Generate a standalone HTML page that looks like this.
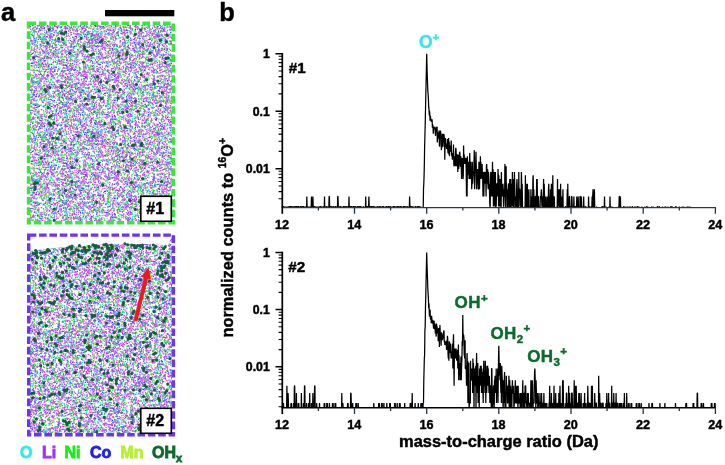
<!DOCTYPE html>
<html><head><meta charset="utf-8"><title>figure</title>
<style>html,body{margin:0;padding:0;background:#fff}svg{display:block}text{font-family:"Liberation Sans",Arial,sans-serif;font-weight:bold;stroke-width:.45px}</style></head><body>
<svg width="725" height="465" viewBox="0 0 725 465">
<rect width="725" height="465" fill="#fff"/>
<defs><pattern id="t1" x="30" y="25" width="142" height="98" patternUnits="userSpaceOnUse"><g fill="none" stroke-width="1.4" stroke-linecap="round"><path d="M0 0m105.7-.8h0m-91.9 .9h0m4.3-.5h0m2.4 0h0m62.3 .2h0m6.5-.3h0m46.7 .6h0m-54.3 1h0m4.9-.5h0m33.5 .2h0m12.9-.2h0m-104.8 1.3h0m24.7 .4h0m28.8-.8h0m11.8 .8h0m1.7-.6h0m27.7 .2h0m-92.4 1.1h0m4.7 .4h0m8.6-.6h0m31.2 .4h0m15.4-.3h0m24.1 .3h0m12.5 0h0m9.8-.4h0m-118.5 .7h0m1.3 .9h0m17.9-.8h0m30 .9h0m34.4-.1h0m24.1-.1h0m-121.4 .3h0m87 .4h0m19.3-.1h0m-46.3 1.2h0m17.1-.4h0m8.7-.2h0m15 .2h0m26.2 0h0m-129.9 .8h0m2.4 .8h0m12.3 .2h0m35.5-.8h0m7-.2h0m7.4 .1h0m4.6 .6h0m26.6 0h0m14.4 .2h0m-109.2 .3h0m58.4 .5h0m11.5-.4h0m23.9 .2h0m7.8-.2h0m9.1-.1h0m.6 .5h0m2.7 0h0m4.3-.2h0m-103.9 1h0m34.4-.1h0m27.1 .4h0m9.8 0h0m38-.2h0m2.7-.4h0m-92.8 .9h0m42.3 .6h0m3.5-.4h0m-78.3 1h0m.9 .3h0m18.7 .1h0m29 .1h0m45.9-.5h0m10.5 0h0m6.1 .6h0m6.2-.4h0m-113.9 1.1h0m5.7 .2h0m22.5-.3h0m13.3 0h0m6.1 .1h0m11.2-.1h0m19 .4h0m27.1-.8h0m12.9-.1h0m.4 .4h0m-125.9 1.1h0m46.6 .5h0m29.2-1h0m40.9 .8h0m13.2-.1h0m4.3-.2h0m7.8 0h0m-129 1.2h0m13.1-.3h0m62.4-.2h0m47.6 .1h0m-130.8 1.5h0m17.8 0h0m46.6-.7h0m66.3 .2h0m-130.5 .8h0m5 .8h0m9.6-.4h0m9.4 .5h0m32.9-.8h0m66.2 .3h0m9.7-.3h0m-136.2 1h0m1.9 .6h0m46.7-.6h0m5.2 0h0m10.1 .2h0m-44 1h0m31.7-.3h0m47.8 .2h0m7.1 0h0m32 .6h0m-111.6 .8h0m15 .1h0m50.6-.5h0m44.4-.2h0m-137.8 1.1h0m8.8-.1h0m103 .3h0m10.4 .4h0m.3-.4h0m19.5-.2h0m-127.3 1.2h0m23.6 .3h0m1.9 .1h0m15.2 .1h0m5.8 0h0m22.5 0h0m10.8-.9h0m10.1 .4h0m4.4 .2h0m-90.1 1.4h0m19.5-.9h0m33.7 .3h0m17.7-.2h0m31.9 .1h0m13.6 .6h0m-122.4 .5h0m5.4-.4h0m18.5 .7h0m26.6-.3h0m15.4-.1h0m26 .3h0m.9 .2h0m22.1 0h0m4 0h0m-82.5 .8h0m20.7 0h0m36.9-.1h0m6 .4h0m23.8-.1h0m-116.4 .6h0m5-.1h0m.5 .4h0m32.9-.4h0m20.3-.1h0m10.3 .7h0m25-.8h0m-110.8 1.8h0m23.6-.9h0m5.1 .3h0m2.4 0h0m.7 .3h0m23.1 .3h0m3.8-.2h0m5.8-.4h0m7.4 .5h0m9.3-.7h0m5.3 .4h0m5.4-.1h0m11.7-.2h0m19.7 0h0m.7 .7h0m-83.6 .4h0m44.3-.2h0m17.6 .6h0m5.2 .1h0m4.5-.3h0m-103.5 1.2h0m10.6 .3h0m7.5-.8h0m.2 .4h0m5.6-.5h0m1.9 .3h0m7.6 .2h0m91.7 .1h0m-54.4 1h0m4.5-.1h0m25.5 .3h0m18.5-.2h0m-127.8 .9h0m1.6-.1h0m4.3 .2h0m6.7-.2h0m81.4 0h0m26.5-.3h0m4.2-.2h0m7.1 .4h0m-126.3 1.3h0m31.3-.7h0m6.2 1h0m-17.7 .5h0m12.6-.2h0m2-.1h0m11.6 .1h0m10.6 .4h0m27.7 0h0m7.6 .2h0m-56.5 1h0m69.3-.8h0m1.4 .4h0m-113.1 1.3h0m10.6-.3h0m4.9-.4h0m2.9 .3h0m2.2 .5h0m9.2-.2h0m35 .1h0m38.5-.6h0m17.4-.1h0m-123 1.1h0m1.3-.1h0m6.2 .6h0m3.5-.3h0m14.9 .5h0m31.4-.6h0m24.2-.1h0m2.7 .1h0m18.1 .6h0m24.7-.4h0m15-.3h0m-130.5 .9h0m45.6 .2h0m74.2 .5h0m7.7-.6h0m-113.9 .9h0m27.5 .9h0m11.3-.9h0m65.4 .2h0m9.3-.2h0m-130.3 1.6h0m29.4 .2h0m6.6-.6h0m1.8-.1h0m4.3 .4h0m28-.4h0m12.5 .7h0m4.4-.2h0m-95.8 .5h0m31.4-.1h0m18.2 0h0m34.9-.1h0m19.1 .1h0m33.2 .7h0m3.9-.6h0m1.3 0h0m-120.1 .9h0m36 .3h0m6.8 0h0m5.5 0h0m10.1 .2h0m8.5 .1h0m5.6-.3h0m-87.3 1.2h0m11.3-.3h0m3.6 .7h0m2.7-.6h0m16.7 .1h0m17.3-.1h0m16.8 0h0m1.6-.3h0m1.7 0h0m54.3 .4h0m6.4 .1h0m-115.7 .8h0m5.1-.3h0m27.7 .4h0m44.3 0h0m-90.6 .8h0m8.2 .6h0m.1 0h0m21-.7h0m6.7 .1h0m1.2 0h0m39.5-.2h0m33.5 .1h0m-98.3 1.3h0m29-.1h0m7.8 .4h0m4.8-.7h0m24 .3h0m37.5 .5h0m6.6-.1h0m-76.5 .6h0m13 .2h0m5.1 .2h0m-33.9 1.1h0m25.9 .1h0m9.2-.9h0m3.5 .6h0m-25 .6h0m17.4 .1h0m13.6 .2h0m.3-.5h0m18.9 .5h0m12.8-.1h0m-62.1 .6h0m43.7 .1h0m26.9 .2h0m1.8-.1h0m-35.9 1.4h0m-70.5 .9h0m12.6-.1h0m47.8 .3h0m6-.7h0m20.1 .3h0m-65.9 1.1h0m.9 .1h0m12 .3h0m8.5-.7h0m61.7 .3h0m4.4-.4h0m-14.4 1.1h0m16.3 0h0m-120.3 1.5h0m12.2-.4h0m1.3 .7h0m3.9-.4h0m17.8-.3h0m69.5 .2h0m.2-.4h0m9.7 .1h0m3-.1h0m11.1 .7h0m-96.5 .6h0m9.9 .1h0m2.9-.4h0m24.2 .4h0m19.6 .4h0m-77 .5h0m27.7 .5h0m17.5 0h0m5-.4h0m11.5 .1h0m18.9 .3h0m3-.3h0m-84.6 .8h0m8.3-.2h0m17.2 .6h0m61.4-.5h0m17-.1h0m4.3 .8h0m5.3-.4h0m-127.4 1.1h0m23.7-.1h0m4.5-.3h0m7.7-.1h0m13.6 .3h0m7.6-.5h0m22.4 .4h0m22 .2h0m3.6 0h0m1.9 .1h0m24.9 .3h0m-114.1 .9h0m23.9-.8h0m37.4 .3h0m9.7 .5h0m27.8 .1h0m-116.8 .1h0m44.4 .7h0m10.1-.8h0m4.5 .5h0m32.7-.1h0m21.2 .1h0m11.4 .1h0m4.1 .4h0m-127.1 .6h0m3.6-.1h0m23.2 .3h0m38.3-.5h0m1-.1h0m13.9-.2h0m13.8 0h0m11.8 .7h0m-8.5 .9h0m7.5 .1h0m28-.2h0m-131.3 .5h0m12.4 .5h0m19.3 .3h0m13.8-.6h0m18.4 .6h0m3.2-.3h0m54-.2h0m3.1 .4h0m.5 0h0m-121.3 1.3h0m47.5-.2h0m6.7-.7h0m11.5 .9h0m22.2-.6h0m-93.7 1h0m27.2 .1h0m28.3 .1h0m5.7 .1h0m29-.4h0m10.1-.2h0m19.2 .1h0m-14.8 1.2h0m-99 1.1h0m10.4 .4h0m21.2-.5h0m8.9-.2h0m45.5 .7h0m29.6-.7h0m-113 .9h0m.5 .7h0m2.1-.2h0m1.5-.6h0m13.2 .3h0m22.9 .1h0m2.6 .6h0m14.5-1h0m23.5 .7h0m19.5 0h0m11.1-.5h0m1 .2h0m10.2-.2h0m3.3 .8h0m-118 .8h0m27.7 .2h0m50-.9h0m5.6 .6h0m1.9-.5h0m10.5 0h0m-109.6 1h0m36.8 .1h0m74.4 .5h0m11.8 0h0m-130.8 .4h0m39.9 .2h0m.7-.2h0m2.2 .6h0m70.1-.1h0m6.7-.3h0m22.4-.2h0m-140.4 1.5h0m.4 0h0m28.8-.6h0m19.5 .2h0m28.4 .4h0m-57 .5h0m12.1-.1h0m17.1-.1h0m2.7 .4h0m41.7 .2h0m34-.6h0m-118.7 1.4h0m11.1 .2h0m48.4-.5h0m13 .8h0m.9-.8h0m11.8-.1h0m17.1 .7h0m25.2-.5h0m-136.7 1.7h0m1.5-.6h0m41.2-.1h0m18.7 .5h0m4.8 .1h0m4.3-.2h0m25.9-.5h0m-84.3 1.3h0m1.9 .1h0m23.5 .4h0m16.8-.8h0m7 .9h0m9.9-.7h0m13.6 .6h0m12.2-.1h0m31.5 0h0m8.3-.7h0m-124 1.5h0m2.9 .2h0m45.6-.1h0m-12.4 .4h0m27.2 .3h0m27.4 .3h0m-99.5 1.1h0m16.2-.4h0m24.5 .2h0m31.7 .3h0m25.4-.1h0m23.9 .1h0m1.7-.8h0m-127.3 1.6h0m1.1-.5h0m70.8 .2h0m22.6 .1h0m22.7-.3h0m3.9 .5h0m-120.6 .6h0m2-.1h0m13.6 .1h0m44.2-.2h0m26.1 .8h0m-75.7 .4h0m20.9-.2h0m28.2 .8h0m49-.6h0m-56.3 .9h0m11.2 .5h0m12.1-.5h0m58.6 .6h0m-116.5 .2h0m.1 1h0m24.3-.5h0m1.3 .5h0m8.6-.7h0m42.3-.2h0m13.7 .7h0m1-.2h0m24.5 .2h0m3 .1h0m-122.8 .9h0m39.8 .1h0m7.5-.9h0m2.2 .3h0m17.6-.1h0m-79.4 1h0m29.3 .7h0m12.7-.5h0m1.8-.3h0m29.6 .3h0m5.2 .2h0m35.3 .2h0m15.6 0h0m-109.7 .6h0m1.8-.3h0m9.2 .1h0m3.8 .6h0m9.6-.1h0m.1-.6h0m44.8 .9h0m-58.1 .2h0m56.3-.1h0m-85.5 1.8h0m24.9 0h0m40.5-.3h0m61.6 .1h0m-128.5 .9h0m1.1 .3h0m1.5-.3h0m1.8 .1h0m27.9-.2h0m12.9-.1h0m74.9 .3h0m-53.7 .4h0m13.8 .9h0m3.3-.6h0m14.4 0h0m24.9-.1h0m-24.6 1.4h0m15-.1h0m-109.5 .8h0m14.5 .3h0m9-.2h0m58.5-.3h0m5.5 .6h0m9.4-.8h0m15.2 .7h0m-118 .3h0m3.7 .1h0m50.8 .1h0m11.1-.1h0m3.1 .2h0m1.7-.3h0m8.1 .6h0m7.6-.4h0m-78.7 .9h0m116.9 .6h0m-89.8 1.1h0m7.7 0h0m25-.4h0m4.3 0h0m27 0h0m-48.9 1.1h0m36.9-.1h0m10.3-.1h0m29.7 .3h0m-23 1.1h0m9.2-.2h0m-101.1 1.1h0m4.3-.5h0m2.4 0h0m62.3 .2h0m6.5-.3h0m46.7 .6h0m-49.4 .5h0m33.5 .2h0m12.9-.2h0" stroke="#38e8e8"/>
<path d="M0 0m50-.9h0m2-.1h0m12.6 .5h0m33.3-.3h0m-95.1 1.3h0m103.3-.6h0m-97.3 1h0m27 .4h0m20.6-.2h0m9.4 .1h0m19.8 .3h0m-85.3 0h0m10.5 .5h0m7.3-.3h0m30.7-.1h0m15.2 .5h0m3.4-.5h0m9.6 .1h0m50.4 .2h0m3.3 .4h0m11.6-.8h0m-135 1.5h0m86.6-.1h0m25.2-.1h0m-119 1.4h0m23 0h0m40.3 0h0m37.1-.5h0m14.4 0h0m27.2 .5h0m-106.6 .4h0m58.5 .4h0m11.4-.5h0m20.1 .1h0m-116.5 1.3h0m45.3 .5h0m29.8 .1h0m16.1 0h0m25.4-.5h0m-121.5 .7h0m28.9 .4h0m34.6 0h0m8.8-.5h0m12.1 .3h0m24.2 .5h0m3.3-.9h0m12.5 .1h0m-34.3 1h0m6.5 .4h0m-90.3 1.1h0m30.7 .1h0m9.3 .2h0m12.2-.7h0m41.9 .7h0m7.2-.6h0m11.2-.3h0m-121.7 1.1h0m61.6 .1h0m25.6 .7h0m41.7-.4h0m9 0h0m-89.2 1.2h0m48.8-.3h0m27.3 .6h0m3.3-.3h0m3.6 0h0m-129.5 .8h0m15.9 .3h0m1-.6h0m22.5 .6h0m23.6-.7h0m4.1 .5h0m13 .2h0m9.6-.2h0m-88.8 1.1h0m9 0h0m7.1-.6h0m36.1 .7h0m81.5-.2h0m-132 .9h0m2.3 .4h0m56.6-.1h0m7.3-.6h0m1.2 .1h0m36.6-.3h0m-93.7 1.2h0m12.7 .3h0m19.9-.1h0m10.1 .1h0m47.3 .3h0m-94.5 .7h0m36.6 .2h0m24.1-.3h0m2.3 .6h0m15.4-.2h0m-90.8 .4h0m29.1 .1h0m13.4-.3h0m17.2 .6h0m8.8 .3h0m26.9-.1h0m23.4 .1h0m23.2-.7h0m-126.7 1.6h0m45.4-.2h0m5.9 .1h0m.7-.1h0m9.7-.1h0m19.4 .2h0m-60 1.3h0m23.8-.7h0m24.2 .6h0m9-.6h0m36.7 .5h0m-116.4 1.1h0m35.5-.3h0m13.3 0h0m38.6-.1h0m4.8-.2h0m16.9-.3h0m-114.9 1.4h0m9.4 .1h0m24.3 .2h0m2.8 .3h0m22.7-.1h0m.9-.7h0m46.3 .8h0m3.1-.7h0m1.7 .4h0m-76.8 .5h0m8.4 .1h0m-45.5 .8h0m18.5 .3h0m59.2 .5h0m7.3-.8h0m9.2 .2h0m-82.4 1.1h0m31.5 .5h0m14.6-.6h0m70.2 0h0m-93.9 1.1h0m9.3 .2h0m5.6 0h0m1.3 .4h0m8.4-.2h0m23.4-.6h0m5.9 .5h0m44.2-.3h0m-112.5 1h0m68.5 .1h0m28 .4h0m-77 1h0m10-.5h0m24.3-.2h0m27-.1h0m8.1 .1h0m-109.6 1.2h0m59.5 .4h0m7.8-.3h0m.9 .4h0m18.7-.3h0m29.1 .1h0m9.2 0h0m-105.4 .9h0m8.2 .1h0m0 .1h0m36.8-.3h0m71.8 .1h0m-76 .5h0m37.6 .8h0m29.8-.1h0m-124.3 1.1h0m7.6 .1h0m2.3-.1h0m59.7-.3h0m3.2 .1h0m45.6 .1h0m-101 1h0m31.9-.1h0m10.3-.6h0m21 .2h0m1.6 0h0m49.1 .6h0m-124.3 .9h0m.2-.7h0m22 .3h0m22.3-.3h0m27.5 .1h0m10.1 .7h0m42.6-.7h0m-98.6 1.4h0m51.5-.4h0m.8 .1h0m3.1 .3h0m28-.2h0m-87.3 1.4h0m29-.3h0m34.6-.3h0m16 .1h0m1.5-.2h0m-56.9 1.4h0m.7-.5h0m26 .7h0m-62.2 .8h0m54.5 0h0m-80.4 1.3h0m43.3 .2h0m62.1-.8h0m7.4-.2h0m1.3 .1h0m13.8 0h0m14.1 .7h0m-125.8 .9h0m5.9 0h0m95.2-.5h0m14.1 .4h0m-91 1.3h0m13.7-.4h0m2.4-.1h0m21 .6h0m63.5-.2h0m-138.8 .5h0m32.1-.2h0m69.6-.1h0m9.1 .9h0m-94.6 .7h0m.7-.3h0m94.5-.2h0m1.3-.1h0m15.2 .2h0m-83.9 .9h0m4 .1h0m14.4 .2h0m6.3-.2h0m12.9 .5h0m6.1-.3h0m-72.1 1.5h0m11.5-.8h0m13.9 .8h0m19.3-.3h0m6.4 .3h0m13.4-.7h0m8 .2h0m12 0h0m-76.9 1.3h0m4.3-.6h0m8.2 .2h0m3.7 .4h0m3.1-.5h0m33.4 .6h0m4 .2h0m55-.1h0m-105.1 .9h0m3.2-.4h0m19.7 0h0m8.7 0h0m32.3-.2h0m-61.3 1.4h0m60 .3h0m33.3-.6h0m-47.5 1.3h0m49.3 0h0m-118.4 .6h0m10.9 .2h0m-4.4 1.6h0m4.9-.8h0m18.8 .8h0m65.1-.8h0m26.9 .8h0m-79.9 .1h0m3.8 .3h0m4.6 .4h0m23.3 .1h0m54.8-.2h0m-134.8 .7h0m7.2-.1h0m11.2-.2h0m12.4 .8h0m20.5-.3h0m.9 .1h0m11.8-.1h0m9.8-.2h0m2.6 .1h0m16.6 .1h0m-21.6 1.1h0m30-.7h0m-99.1 1.2h0m9.6 .5h0m19.2 0h0m12.5 0h0m9.1-.3h0m-41.4 .8h0m11 .8h0m12.6-.6h0m69.8 .2h0m-105.5 .9h0m7.7 .2h0m2.7-.1h0m41.9 .2h0m9.7-.5h0m7.4 .1h0m13.3 0h0m5.2-.4h0m3.9 .4h0m18.8 0h0m1.6-.2h0m12 .5h0m2.3-.3h0m6.9 .1h0m.2-.2h0m-106.3 .8h0m76.6 .3h0m-16 1.1h0m10.4 .4h0m-49.5 .2h0m50.4 .6h0m18-.2h0m16.4-.1h0m-101.9 1.4h0m30.1-.7h0m51.2 .4h0m17.5 .2h0m-115.6 .5h0m22.6 .3h0m31 .5h0m15.7-.9h0m30.3 .5h0m-80.6 1.2h0m3.7 .2h0m3.6-.1h0m.1-.6h0m36.9 .1h0m42.8 .1h0m-107.3 .8h0m12 .3h0m78 .1h0m7.6 .9h0m14.9-.5h0m-128.8 1.4h0m26.5 .2h0m-18 .9h0m18.3 .3h0m52.4-.1h0m13.3-.2h0m10.8 .1h0m3.8-.4h0m20.6-.2h0m.8 .9h0m-125.6 .5h0m24.8-.4h0m.3 .1h0m10.9 .1h0m5.6 .5h0m44.4 .1h0m22.5-.5h0m19.4 .2h0m-107.4 .7h0m61.1-.1h0m1.8-.1h0m25.2 .6h0m-101.8 .5h0m87.7-.1h0m30.5 .1h0m-122.7 .9h0m3.1 .7h0m1.9-.6h0m1.4 .4h0m19.6-.3h0m46.5 0h0m1.1 .5h0m-59.1 1.2h0m13.4-.7h0m.3-.2h0m22.7 .2h0m42.1-.1h0m-75.6 1.1h0m16.7-.3h0m18 .7h0m20.3 .1h0m-66.3 .3h0m60.9-.1h0m15.3 .8h0m4.5-.5h0m23.6 .5h0m13.3-.4h0m-119.3 .9h0m7.3 .4h0m2.6 .2h0m20-.8h0m.3 .6h0m67.3-.2h0m14.6 .5h0m-121.9 .6h0m2.9 .1h0m20.4 .2h0m33.2-.6h0m.4 .1h0m12.2 .5h0m14.4 0h0m41.3-.4h0m7.5-.1h0m-102.5 1.4h0m31.6-.2h0m24.9-.3h0m33 .3h0m-89.1 1h0m4.9 .1h0m27.2 .2h0m29.6-.7h0m35.1 .5h0m5.5-.4h0m3.4-.2h0m-33.1 1.3h0m32.1 .3h0m-128.5 1h0m12.7-.5h0m19.6 .2h0m38.2 .1h0m19.3-.4h0m21.7 .6h0m-108 .9h0m17.1 .1h0m55.2 .1h0m.3-.1h0m14-.1h0m20.7-.5h0m4.7 .3h0m-89 .8h0m1.1 .7h0m66.6-.6h0m4.3 .1h0m34.3-.2h0m-132.5 1.3h0m68.2-.4h0m31 .5h0m31.5 0h0m-83.4 .6h0m66.3 .1h0m-100.7 .9h0m36.5 .5h0m43.8-.6h0m29.5 1.4h0m-66.7 1.1h0m28.4 .2h0m22 .1h0m-87.8 .4h0m12.9-.2h0m7.5 .3h0m50.8 .5h0m36.6-.5h0m.3 .1h0m-70.9 .6h0m26.5 .6h0m3.8-.2h0m15.1-.3h0m.4 .4h0m-82.1 .8h0m21.3 .2h0m61.5 .1h0m3-.3h0m7.9-.3h0m-109.6 1.4h0m41.2-.2h0m10.7-.2h0m3.5 .4h0m.3-.3h0m34 0h0m12 0h0m-101.9 2.1h0m46.7 .7h0m24.8-.9h0m50.7 .2h0m4.2 .6h0m-113.1 .7h0m31.5 .2h0m-12.6 1.1h0m-15.2 .9h0m4.3-.4h0m27.8 .3h0m56.3-.2h0m5-.1h0m-85.1 .9h0m10.4-.3h0m12.5 .5h0m38.4 .3h0m1.3 .1h0m-99.8 .2h0m24.3 .2h0m26.4 .3h0m2-.1h0m12.6 .5h0m16-.8h0m17.3 .5h0m10.7-.3h0m32-.4h0m.7 .1h0m-138.5 1.9h0m103.3-.6h0m-97.3 1h0" stroke="#3838f0"/>
<path d="M0 0m48.2-.9h0m22.4 .8h0m-62.9 1.4h0m19.3 .2h0m11.2-.1h0m10.5 0h0m12.8 0h0m10.7 0h0m39.2-.7h0m6.4 .7h0m1.4-.5h0m18-.4h0m-110.4 1.6h0m12.4-.3h0m9.2 .5h0m8.2 .1h0m1.1-.5h0m3.4-.1h0m18.3 .6h0m17.6 0h0m15.7-.5h0m6.4-.2h0m-116.2 1.5h0m2-.5h0m36.7-.1h0m.7 .8h0m1.7-.5h0m23.3 .1h0m6.4 .1h0m25-.2h0m1 .4h0m-82 .5h0m41.2-.1h0m53.5-.1h0m13.7 .5h0m-116 1.1h0m.2-.2h0m32.2-.4h0m9 .3h0m13.5 .5h0m16-.7h0m39.5 0h0m7.8 .4h0m-113.9 .8h0m76.6-.3h0m8.2 .1h0m11.2 .8h0m9.5-.1h0m-60.8 .7h0m28.4-.1h0m6.9 0h0m11.1-.5h0m24.7 .9h0m-110.3 1h0m32.6-.8h0m31.4-.1h0m4.3 .9h0m31.5-.1h0m1.2 .1h0m5.9-.8h0m-124.7 1.7h0m31.8-.5h0m13.4 .6h0m2.3-.4h0m1.5 .4h0m2.2-.9h0m.4 .5h0m14.7 .5h0m7.1-.9h0m.6 .7h0m26.1-.5h0m37.8 .1h0m-132.7 .7h0m8 .4h0m46.5 .1h0m6 .2h0m13.2-.1h0m30.5 .1h0m4.5-.1h0m-89.7 1.2h0m10.1-.4h0m.2 .3h0m4.4-.7h0m15.8 .3h0m7.6 .3h0m2.2-.2h0m15 .1h0m12.8-.3h0m13.9 .4h0m-99.8 .8h0m38.2 .4h0m27.8-.7h0m6.1 .4h0m2.1 .1h0m2-.3h0m26.5-.1h0m25.6-.3h0m-133.3 1.4h0m3-.2h0m62.7 .1h0m21.1 .1h0m5 0h0m1.6 .3h0m22.9-.5h0m5.2 0h0m.4 .6h0m-115.4 .4h0m4.7 .3h0m4.4-.3h0m9 0h0m3.8 .6h0m28.5-.5h0m4.7 .1h0m10.4 .1h0m5.3-.3h0m5.2 .2h0m38.4-.2h0m8.3 .2h0m-120.3 1h0m11.7 .3h0m24.1-.3h0m22.7-.1h0m11-.2h0m1.5 .7h0m13.4 .1h0m1.7 .1h0m11-.5h0m-109 .9h0m7.2 .5h0m4.1-.2h0m7.6-.7h0m14.1 .2h0m.7-.1h0m9.5 .5h0m.5 .1h0m3.2-.2h0m25.7-.1h0m5.2 0h0m36.3-.3h0m27.9 .3h0m-136.5 .7h0m6.8 0h0m3.8 0h0m0 .2h0m62.5-.1h0m3.2 .2h0m21.3-.2h0m10.4 .8h0m17.1-.8h0m4.3 .2h0m1.7 .3h0m.2 .2h0m.2-.5h0m-129.8 .7h0m25.6 .9h0m1.7-.8h0m1.2-.1h0m8.9 .5h0m12.6-.2h0m6.3-.2h0m10.1 0h0m33.3 .3h0m.3-.2h0m-96.8 1.1h0m11.6-.2h0m3.7 .8h0m16.7 0h0m15.1-.1h0m49.6-.4h0m31.2 .2h0m-91.8 .7h0m17.6 .6h0m45-.9h0m5.9 .1h0m4 .5h0m-89.4 .3h0m24.5 .5h0m15.4-.2h0m19.7 0h0m2.4-.2h0m33 0h0m11.2 0h0m-115.6 .9h0m10.2 1h0m29.1-.8h0m2.8 .7h0m27.1-.3h0m3.9-.4h0m33.4 .4h0m9.9-.3h0m-128 1.1h0m86.6 .3h0m9.6-.7h0m26.7 .9h0m-79.1 .3h0m19.1 .4h0m2.6 .3h0m6.7-.9h0m2.7 .2h0m1.1 .3h0m.5-.4h0m1.2 .8h0m7.4-.8h0m4.7 .5h0m25-.2h0m7.3-.1h0m-78.3 .7h0m32.1 0h0m13 .7h0m16.9-.1h0m20.6 0h0m-103.7 .5h0m37.8 .7h0m.1 0h0m36.4 0h0m6.8-.6h0m24 .3h0m-129.9 1.3h0m18.1 .2h0m.4-.8h0m3 .3h0m6.7-.4h0m36 .7h0m37.3-.3h0m4.1-.3h0m-104.7 1.1h0m5.4 .5h0m2.7-.8h0m33.2 .1h0m2 .7h0m.6-.2h0m15.2-.2h0m2.8 0h0m11.6 .5h0m5.1-.8h0m7.3 .5h0m.2 .2h0m6.8-.1h0m6.5-.6h0m20.6 .7h0m-108.5 .2h0m4.8 .5h0m1.3 .2h0m33 .2h0m11.1-.8h0m7.2 .2h0m16.4-.1h0m1.6 .1h0m1.1 .4h0m18-.3h0m-98.9 1.5h0m5.4 .1h0m2.5 0h0m1-.9h0m23.2 .8h0m38.5-.2h0m16.9-.6h0m38.1 .7h0m-108.1 .9h0m77.8-.1h0m20.8-.1h0m1.6 .5h0m-99.6 1h0m21.6-.5h0m18.5 .4h0m12.5-.6h0m2.9 .6h0m.3-.8h0m23.8 0h0m3.8 .8h0m7.3-.7h0m-101.6 .9h0m3.8 0h0m4.7 .2h0m30.9-.1h0m1.5-.1h0m8.1 .2h0m21.1 .5h0m7.6-.1h0m6 .2h0m4-.1h0m22.3 .2h0m-123.7 .8h0m19.6-.2h0m12.8-.1h0m54.9-.2h0m-84.9 .9h0m23.4 .3h0m15 .2h0m23.9-.3h0m20.8 .3h0m-76.2 .4h0m.1 .4h0m6-.1h0m14 .4h0m1-.1h0m17.6 .2h0m69.9-.4h0m2.7-.3h0m4.7-.1h0m-126.8 1.9h0m59.9-.7h0m.9 .2h0m14.3-.4h0m19.1 .6h0m2.5 .2h0m7.7-.1h0m-56.9 .6h0m9.2 0h0m3.6-.3h0m9.2 0h0m5.6 .1h0m11.8 .1h0m3.8-.2h0m3 .3h0m6.2 .2h0m5.3-.5h0m.3 .5h0m3.7 0h0m2.2 .1h0m6.6 .3h0m.7-.2h0m-116.1 1.1h0m10.5-.1h0m9.8-.3h0m25.6-.4h0m7.1 0h0m21.2 .5h0m6.5 0h0m21.5-.4h0m.6 0h0m1.2 0h0m5.6 .8h0m10.2-.1h0m-118.5 .8h0m25.9-.2h0m49.7-.2h0m14.5-.2h0m6.8 .8h0m4-.6h0m.9 .1h0m3.5 .4h0m-112.9 .6h0m4.9-.3h0m1.1 .3h0m7.1-.1h0m15.8-.3h0m13.2 .7h0m15 .1h0m22.2-.4h0m51.9 .4h0m2.5-.5h0m-127.3 1.3h0m9.8-.4h0m16.9 .8h0m5.2-.9h0m4.7 .2h0m7-.2h0m11.5 .3h0m10.9 .1h0m22.7 .4h0m14.8-.5h0m2.4-.2h0m-108.8 .9h0m23.4 .5h0m11.1 .2h0m19.1-.3h0m39.8 .2h0m-87.5 .8h0m12.4 .2h0m3.9 .2h0m13.8 0h0m12-.1h0m80.3-.5h0m-131.1 .9h0m2.3 .5h0m31.5-.4h0m11.9 .7h0m35.6-.1h0m20.3-.8h0m5.2 .3h0m20.4 .3h0m3.8-.1h0m-120.9 1.3h0m6.9 .1h0m6.6-.3h0m5.1 0h0m49.2-.2h0m6.1-.4h0m12.2 .9h0m23.2-.2h0m13.4-.7h0m-122.2 1.8h0m18.3-.9h0m22.5 .8h0m37-.3h0m31.6-.2h0m1.5 .3h0m1.3-.1h0m-106.1 1.2h0m38.9 0h0m.3-.2h0m.7-.3h0m8.8 .1h0m3.3 .1h0m2.7 .5h0m6.7-.2h0m2 .1h0m21.4 .2h0m22.1-.6h0m10.1 0h0m-127 1.5h0m14.2-.5h0m10.2 .2h0m18.7 .4h0m21.8-1h0m12.7 .3h0m-87.9 .9h0m2.6 .5h0m23.7-.6h0m29.5 .5h0m9.5-.4h0m48.2 .4h0m8.8 .2h0m8.2 0h0m5.4-.2h0m1.6 .3h0m4.5-.7h0m-90.2 1.1h0m42.2 .7h0m7.8-.1h0m22.1-.4h0m5.4-.4h0m2.5 .6h0m-127.8 .9h0m33.2-.1h0m7.7-.3h0m26.3-.1h0m-33.1 1.5h0m1.5-.4h0m16-.2h0m4 .4h0m4.7-.2h0m32.3 .2h0m-88.8 .7h0m17 .5h0m15.1-.3h0m13.7-.2h0m12.8 .2h0m14.2 .3h0m4.9 .1h0m7-.3h0m.1 .6h0m17-.1h0m7.5 0h0m17.6-.2h0m-124.7 .9h0m25.5-.2h0m18.1-.1h0m13.9 .3h0m23.9 .3h0m9.6-.3h0m29.6-.4h0m.7 0h0m7.9 .4h0m-139.7 1.3h0m3.1-.7h0m31.6-.1h0m28.7 .2h0m14.8 .2h0m.8-.2h0m26.4 .2h0m30.2-.2h0m6.4 .6h0m-142.5 .4h0m8.3-.1h0m10.4-.1h0m4.7 .4h0m67.5 .2h0m11.4 0h0m13.2-.2h0m17.9-.2h0m.3 0h0m8.3 0h0m-139.3 1.4h0m4.3-.4h0m1.7 0h0m12.5-.1h0m14.2-.2h0m3.8 .3h0m14.4 .6h0m10.4-.1h0m5.1-.1h0m8.3-.7h0m46.6 .4h0m.2 .5h0m-112.9 .2h0m28.7 .2h0m4.5-.2h0m.7 .9h0m32.5-.5h0m58.2 .3h0m2.9-.2h0m-130.8 1.2h0m14.9-.3h0m42.6-.3h0m44.9 0h0m6.5 .4h0m1.9 .1h0m-116.1 .7h0m.4 .4h0m9.8 .1h0m40.7-.5h0m36 0h0m40.6 .2h0m8.5 .3h0m-121.1 .4h0m5.1 .4h0m20.2 .3h0m32.7-.1h0m1.2-.2h0m3.4-.7h0m17.2 .9h0m3.8-.2h0m7.9-.5h0m.2 .6h0m18-.6h0m-124.7 1.6h0m22.9-.5h0m11.3 0h0m3.6 .6h0m15.5-.6h0m2 .1h0m52.3 0h0m16.1 .5h0m11.7 0h0m-120 .9h0m30.9 .2h0m7.5-.9h0m10.5 .3h0m16.2 .4h0m20.3 0h0m5.2-.5h0m28.3 .4h0m.8-.4h0m-134.5 1.4h0m2.1 0h0m6.1-.1h0m6.1-.2h0m35.2-.1h0m16.5-.3h0m10.5 .2h0m12.9 .6h0m23.1 .2h0m.8-.9h0m1 .3h0m6.6-.3h0m-114.8 1.3h0m7.9 .2h0m20.2-.1h0m12.4 .4h0m1.7-.4h0m7.7-.1h0m44.2-.2h0m-101.2 1.3h0m10.9-.3h0m20.4 .7h0m.3-.1h0m4.4-.1h0m6.8-.4h0m8.3 .7h0m32.7-.2h0m7.3-.1h0m17.4 .2h0m.7-.6h0m2.3-.2h0m8.8 .7h0m1.2-.7h0m-113.1 1.4h0m5.5 .4h0m34.4-.7h0m16.7-.2h0m56.8 0h0m15.9 .1h0m-128 1.1h0m17.7 .4h0m11.4 .3h0m27.1-.3h0m11.5 .4h0m19.6-.7h0m4.8-.2h0m6.7 .4h0m-91.1 .8h0m8.9-.2h0m19.8 .9h0m19.9-.6h0m19.6 .4h0m10.3-.1h0m-67.3 .9h0m39.6-.3h0m18.7-.2h0m1.5 .6h0m18.4 0h0m.4-.7h0m15 0h0m-60.5 1.3h0m24.3 .4h0m3.3 .3h0m-76.4 .2h0m3.7 0h0m7.6 .4h0m6.8 .4h0m.8-.1h0m8.4-.4h0m18.6-.1h0m2-.3h0m3.7 .8h0m13 0h0m6.3-.3h0m33.7-.1h0m13.5 .1h0m-94.1 1.4h0m11.2-.7h0m30.5 .5h0m40 0h0m-110.4 .4h0m4.5 0h0m13.1 .6h0m2.5 .1h0m3.7-.8h0m23.6 .1h0m42.6 .8h0m11.9-.5h0m14.6-.3h0m-114.5 1h0m31.1 .4h0m50.2 .1h0m26-.1h0m.5 .4h0m9.1-.9h0m7 .6h0m1-.7h0m-134 1.6h0m17.5-.5h0m14.3 .5h0m43.2 .2h0m16.7 .1h0m11.2-.3h0m34.7-.4h0m-99.2 1.7h0m35-.3h0m28.1-.2h0m4.8-.4h0m11.4 .1h0m5.8 .4h0m9.1 0h0m-135.3 1.3h0m15.8 .1h0m27.1-.9h0m35.4 0h0m1.4 .7h0m11-.3h0m24.3 .5h0m27-.1h0m-134.9 1h0m.4-.3h0m37.8-.4h0m17.3 .4h0m26.7 0h0m13.6 .5h0m8.8-.4h0m.9 .2h0m-111.5 1h0m7.5-.1h0m5 .2h0m3.3 .1h0m.8-.6h0m7.5 .1h0m2.2 .4h0m55.7-.9h0m12.5 .8h0m8.8 .1h0m12.2-.4h0m9.3 .2h0m7.6-.6h0m-88.1 1.3h0m7.8 0h0m2 .5h0m20.9-.6h0m14.9-.2h0m5.4 .1h0m-78.1 1.2h0m24.5 .3h0m13.7-.4h0m13.4 .2h0m41.1-.1h0m8.3 .2h0m8.7-.1h0m-79.7 1.3h0m24.9 .1h0m6.7-.7h0m15.7 .7h0m5.5 0h0m36.1-.1h0m-112 .6h0m9.7-.2h0m26.5 .3h0m22.9 .1h0m15-.5h0m37.1 .6h0m4.2 0h0m-135.4 .8h0m17.5 .3h0m49.4 .1h0m16.1-.3h0m26.5-.6h0m4.8 .7h0m-120.5 .5h0m23 .4h0m42.8-.2h0m1.2 0h0m.5 .3h0m12-.5h0m5.4 .1h0m46.1-.1h0m11 0h0m-97 1.5h0m25.9-.2h0m2.2-.2h0m48.3-.1h0m4.6 .1h0m10.2-.2h0m3.7 .7h0m-138 1.1h0m.3-.6h0m7.2 .2h0m38.1 .1h0m61.5-.2h0m6.5-.1h0m22.9 .5h0m5.5 .1h0m-80.7 .5h0m9.8 .1h0m1.1-.3h0m4.7 .4h0m.6-.1h0m17.8-.1h0m4.4 .6h0m9-.7h0m9.2-.1h0m4.6 .4h0m1.3-.4h0m-112.3 1.5h0m14-.7h0m24.2 .3h0m34 .3h0m39.2-.1h0m11.8 .1h0m-130.3 1.4h0m10.7-.6h0m23.8 .3h0m1.8 0h0m2.3-.6h0m10.2 .4h0m15.1 .1h0m24.2-.3h0m-83.5 .9h0m8.8-.1h0m14.7 .6h0m.5-.4h0m11.7 .6h0m39.6-.1h0m4-.2h0m10.6-.2h0m14.4 .3h0m3.8 .1h0m8.1-.3h0m1 .5h0m5.3-1h0m-114.3 1.6h0m28.7 .4h0m19.2-.8h0m19.6 .3h0m14.3 .4h0m33.3-.1h0m7.1 .2h0m-140.4 .5h0m36.4-.1h0m4.3 .3h0m7.1-.6h0m51.1 0h0m27.1 0h0m16 .4h0m-126 1h0m.1-.1h0m38.3 0h0m17.1-.1h0m3 .1h0m8.8 0h0m5.3-.3h0m-82 1.3h0m12.4-.3h0m18 .2h0m11.3 .3h0m17.7-.4h0m3.1 0h0m14.7 0h0m18.2 .1h0m31.8-.2h0m-63.1 1.3h0m40.8 .8h0m7.8 .2h0m18-.4h0" stroke="#28e828"/>
<path d="M0 0m27.2 .3h0m105.3-.4h0m-32.6 .9h0m-62.8 1.5h0m56-.3h0m-52.1 1.4h0m12.9 .1h0m20.7-1h0m-72.9 2.7h0m45 .9h0m28.1-.3h0m-7.1 .9h0m-33.1 1h0m-4 1.7h0m4.8-.5h0m67.4 .7h0m-95.7 1.3h0m4.9-.3h0m111.6 1.1h0m2 .4h0m-99.7 .5h0m7 5.4h0m20.1-.1h0m46.8 .3h0m7.1 .8h0m-8 .5h0m33 .6h0m-104.9 2.3h0m22-.9h0m29.4 1.2h0m-45.8 3.8h0m7.2-.3h0m50.5 1.8h0m4.6-.4h0m-57.3 1.4h0m26.5-.1h0m7.6-.3h0m33.7 0h0m-50.3 1.5h0m4.7 .2h0m64.9 .2h0m-114.9 .8h0m52.1-.6h0m50.7 .2h0m-58.7 .8h0m27.4 .6h0m35.4 1.1h0m-117.2 .8h0m142 0h0m-112 .4h0m27.6 .2h0m49 .7h0m-93.4 .2h0m46.4-.1h0m3.1 .6h0m13.3-.3h0m-37.2 .7h0m78.8 .3h0m-79.3 .8h0m92.8 .2h0m-131.6 1.5h0m41.2-.7h0m80.7 .7h0m20.1 0h0m-140.8 1.3h0m90.1 .4h0m51.9-.4h0m-46.7 1.8h0m-93.1 .7h0m121.3-.1h0m-37.6 .6h0m-71.3 .8h0m3.3 .2h0m39.5 .8h0m74.1 0h0m-41.4 .5h0m-22.9 3.5h0m10.9-.6h0m-64.8 2.1h0m29.9 .5h0m16-.4h0m59.7-.2h0m-39.4 .7h0m37.5 .3h0m13.3 .4h0m-119.8 .5h0m41.6 1.3h0m36.6 .6h0m23.1 2.6h0m3.4 .8h0m-78.5 1h0m-37.4 .4h0m86.9 .4h0m55.1-.4h0m-140 1.9h0m1.8-.4h0m127.8-.2h0m-116.3 2.1h0m12.6 0h0m91.9 .4h0m-51.7 .8h0m33.9 .9h0m7.7 0h0m10.6-.3h0m-40.4 1.7h0m4.6 1.2h0m6.8 .3h0m5.7 .9h0m-71.6 1.6h0m92.7 .2h0m-61.4 1.4h0m2.2 .6h0m51.2 1.6h0m.7-.2h0m5.3 2.7h0m-65 2.9h0m48.7 2.4h0m28.8 1h0m-77.8 2.6h0m42.9 .2h0m17.8 .6h0m-16.5 1.1h0m15.3-.6h0m-103.9 1.2h0m93.1 .4h0m3.5-.8h0m-85 1.6h0m3.9 .6h0m21.5 0h0m-42.3 1.6h0m16.4-.8h0m116 .3h0m9.6 .5h0m-88.3 .5h0m2.8 0h0m61.1-.1h0m-102.9 1h0m62.6 .2h0m-18.7 2.3h0m27.1-.1h0m44.4-.8h0m-93.2 1.8h0m39.8-.5h0m19.7-.2h0m-69.8 2.7h0m105.3-.4h0m-32.6 .9h0" stroke="#c0f040"/>
<path d="M0 0m-.7-.6h0m61.4-.2h0m10.2-.1h0m13.8 .2h0m56.6 .1h0m-126.5 .8h0m14.6-.1h0m9.2-.3h0m2.8-.2h0m19.1 .9h0m14.8-.2h0m4.5-.1h0m9.3-.5h0m20.4-.1h0m4.9 .6h0m15.4-.2h0m9.6-.3h0m-119.8 1.3h0m5 .3h0m19.6-.4h0m10.1-.3h0m20.9 .4h0m3.2 .2h0m9.6-.6h0m11.8 .3h0m5.1 .6h0m1.1-.4h0m13.3-.1h0m5.1 .2h0m7.2 .2h0m-126.4 .2h0m11.6 .4h0m18.2 .2h0m37.3 .2h0m22.8-.1h0m5.4 0h0m24-.3h0m.8 .4h0m-125.3 .7h0m12.6 .2h0m6.6-.1h0m11.7-.6h0m6.6 .6h0m2.9-.2h0m14.9 .1h0m5 .2h0m1.4-.2h0m8-.2h0m.7-.3h0m2 .3h0m1.1 .2h0m6.4-.3h0m2.3 .3h0m18 .2h0m.1-.5h0m1.6 .5h0m10.7-.7h0m5 .7h0m10.5 0h0m13.9-.2h0m-142.4 1.3h0m11.8-.8h0m16.1-.1h0m11.8 1h0m1.2-.8h0m22.4 .5h0m4-.2h0m11 .2h0m2.4-.1h0m5.3-.5h0m11 .5h0m12.8-.2h0m23.2-.4h0m9 .9h0m-132.2 .2h0m22.3 .4h0m10.7 0h0m3.9-.4h0m10 .3h0m24.4 .5h0m4.6-.5h0m34.5-.3h0m14.5 0h0m.5 .8h0m-131.1 .8h0m21.4-.4h0m4.7 .2h0m1.6-.3h0m3.6 .3h0m3.5-.4h0m2-.1h0m13.6 .2h0m20.3 .3h0m1.4-.1h0m15.7 .2h0m3.1 .1h0m29.3-.5h0m10.2 .7h0m-107.3 1h0m3.5 0h0m.3-.6h0m11 .6h0m2.2-.3h0m10 .4h0m25.4-.3h0m8.7 .1h0m3.9-.8h0m1.3 .7h0m7.2 0h0m.7-.4h0m11.6 .4h0m6.4 .2h0m4.2-.5h0m2.1-.3h0m11.3 .5h0m-108.6 .8h0m.3 .6h0m30.6-.1h0m7.3-.1h0m5.6 0h0m22.3-.2h0m3.1-.2h0m8.8 .5h0m.3-.1h0m-69.8 .6h0m1.8-.3h0m8.6 .7h0m.6-.7h0m14.5 .7h0m4.4-.2h0m8.8 .1h0m6.2-.5h0m3.6 .5h0m9.4 .2h0m12.4-.7h0m14.8 .6h0m1.1-.8h0m4.6 .2h0m9.4-.1h0m1.4 .6h0m-114.5 .5h0m3.4 .8h0m22-.8h0m68 .3h0m2.6 .3h0m15.5-.7h0m-120.5 1.5h0m16.9 .3h0m33.1-.7h0m9.5 .6h0m8.3 0h0m22-.2h0m12.6-.3h0m10.2 .1h0m13.5 .2h0m-123.6 1h0m2.4 0h0m36.7-.1h0m.8-.1h0m10.5 .4h0m3.4 .2h0m3.9-.9h0m1.5 .3h0m8.8-.2h0m39.3 0h0m.2 .1h0m3.2-.2h0m3.2 .2h0m-124.4 1.1h0m27.6-.3h0m6.4 .5h0m3.6 0h0m6.6 0h0m1.2 0h0m33.1-.4h0m8.2 .8h0m4.8-.4h0m9.2-.5h0m17.7 0h0m1.4 .3h0m6.8 .1h0m-121.5 .7h0m0 .3h0m1.8 0h0m40.4-.1h0m2.4 .2h0m.2 .1h0m4.6 .2h0m1.3 0h0m40.7-.3h0m17.5 .3h0m-92.2 .9h0m36.3 0h0m1.9-.6h0m.4 .4h0m4.9 .4h0m20.6-.9h0m8.5 .1h0m.8 .6h0m3-.2h0m12 .4h0m.3-.3h0m12.4-.2h0m3 .2h0m-84.7 .5h0m6.7 .6h0m8.9-.2h0m45 0h0m31.3-.3h0m-137.6 1.2h0m2.9 .3h0m10.4-.7h0m6.3 .1h0m7.7 0h0m4.8 0h0m13.8 .1h0m11.5 .3h0m6.3-.5h0m9.5 .1h0m3.3 0h0m.3 .2h0m11.9-.2h0m1.9 .7h0m2.2-.5h0m5.4 .5h0m9.2-.3h0m.6-.6h0m5 .7h0m2-.6h0m-104.1 1.5h0m18-.5h0m3 .3h0m5.2-.2h0m3 .2h0m.8 .3h0m.4-.3h0m17.3 0h0m4.8 .3h0m8.3 .3h0m.3-1h0m6.7 .6h0m29.7 0h0m24.5 .3h0m-132.2 .5h0m16.1-.2h0m17.2 .6h0m4-.7h0m14.3 .2h0m.8 .3h0m17.7 .4h0m1.5-.9h0m1.2 .1h0m9.8 .2h0m7.4 .5h0m1.8-.7h0m25.6-.1h0m2 .4h0m1.9-.4h0m.7 .4h0m-93.9 1.4h0m.5-.2h0m.2 .1h0m25.8-.4h0m10.8 .2h0m10.5-.1h0m0 .3h0m7.3-.8h0m4.8 .6h0m3.9 .4h0m12.3-.7h0m-87.4 .7h0m13.4 0h0m3.1 .2h0m9.8-.1h0m.1 .3h0m14-.2h0m1.1-.1h0m1.3 .6h0m17.1-.2h0m18.2 .4h0m12.2-.9h0m6.6 .2h0m17 .6h0m.8 0h0m-132.5 1h0m13.4-.1h0m2.2-.4h0m1.9 .3h0m2.8-.3h0m.3 .5h0m18.4-.4h0m2.5-.4h0m27.5 .1h0m26.5 .2h0m8.9-.3h0m-102 2h0m6.8-.1h0m11.3-.6h0m21 .4h0m.1-.7h0m23.5 .6h0m28.9-.5h0m13.7 .1h0m4.3 .2h0m.8 .4h0m17.3 0h0m-122.5 1.2h0m2-.1h0m54.1-.1h0m3.1 .1h0m4.1-.1h0m7.9-.4h0m4.3 .5h0m6.3-.1h0m2.1 0h0m7-.4h0m2.1-.1h0m.8-.2h0m.9 .9h0m2.8-.4h0m3.2-.6h0m2.8 .2h0m.9 .6h0m4.1-.5h0m18.7 0h0m-135.4 1.3h0m5.5 0h0m5.6 0h0m5.6 .1h0m10.8-.6h0m4.1 .7h0m10-.6h0m40.4 0h0m32.4 .6h0m5.1-.7h0m8.1 .4h0m-115.7 1h0m2.9 .3h0m.4 0h0m7.3-.2h0m12.5-.5h0m1 .9h0m1-.1h0m27.9 .1h0m2.4-.3h0m18.2 .1h0m.6-.5h0m18.1-.1h0m.8 .7h0m2.5-.1h0m8.5-.3h0m4.5-.4h0m3.9 .7h0m3.3 0h0m1.1-.5h0m-106.3 1.3h0m6.6 0h0m1.3-.5h0m25.6 .5h0m7.1-.5h0m26.4 .7h0m-62.8 .9h0m11.6-.1h0m38.6-.5h0m14.2 .6h0m1.2-.6h0m21.3 .5h0m7.8 .2h0m-106.7 .4h0m7.6 .7h0m2.9-.5h0m21.5 0h0m4.2 0h0m12.1-.1h0m5-.2h0m1.6 .3h0m7.3 .3h0m2 0h0m17.8-.5h0m12 .5h0m4.8-.1h0m11.9-.3h0m6.8 .5h0m-121.4 .6h0m11.5-.2h0m.3 .8h0m13.1-.9h0m5.8 .7h0m5.5-.4h0m.6 .2h0m6.5-.3h0m4.2 0h0m13-.1h0m24.6 .6h0m4.1-.7h0m4.1 .7h0m-100.2 1.1h0m16.9-.2h0m4.2-.2h0m.8 .2h0m16.9 .2h0m14.9-.2h0m24.2-.6h0m21 0h0m21.1 .3h0m1.3 .1h0m14.2-.2h0m-141.3 1.3h0m6.7-.3h0m2.8 .1h0m26.9-.1h0m11.2 0h0m25 0h0m3.6 .5h0m1.1-.4h0m15.2 0h0m8.5-.2h0m9.5 .2h0m3-.1h0m17.2 .2h0m2.3 .2h0m3.1 .2h0m5.9-.3h0m-131.3 .5h0m8.4 .2h0m18.2 .5h0m18.5 .2h0m8-.4h0m1.5 0h0m2.1 0h0m53.5 .3h0m4.9-.6h0m12.8 .5h0m-127.1 1h0m8.2-.5h0m34.2 .1h0m6.6 .6h0m10.9-.7h0m19.1-.3h0m0 .9h0m4.6-.3h0m9.6 0h0m5.7-.1h0m22.3 .3h0m.7-.3h0m5.9-.1h0m-128.8 .8h0m18.7 .3h0m.7 0h0m3.3-.5h0m8.9 .1h0m.7 .3h0m5.5 0h0m3.7-.1h0m6.7 .6h0m10.3-.1h0m10.2-.2h0m3.8 .4h0m8.3-.7h0m27.3-.3h0m1.1 .8h0m-114 .9h0m5.5-.5h0m.4 .6h0m3.5 0h0m14.4 .1h0m14.1-.4h0m13.4-.1h0m46.5-.1h0m.5-.1h0m17.3-.1h0m4.5 .5h0m1 0h0m-112.2 .9h0m16.1-.3h0m3.5 .6h0m2.9 .1h0m10.2-.2h0m26.4-.5h0m7.3 .4h0m22.7 .3h0m4.3-.8h0m.6-.1h0m17 .3h0m7.1 .2h0m3.6-.4h0m-133.7 1.3h0m1-.3h0m8.1 .4h0m12.4-.5h0m7.8 .2h0m18.5 .4h0m4.9-.4h0m10.4 .6h0m47.2-.8h0m9.2 .5h0m8.4 0h0m-120.5 .7h0m2.4 .5h0m5.1 0h0m46-.6h0m4.5 .1h0m23.2-.2h0m6.7 .2h0m1.3 .5h0m4.4-.4h0m19.4-.2h0m13.9 .8h0m3.1-.3h0m-134.4 1.3h0m11-.8h0m17.6-.1h0m2.1 .8h0m4.7-.8h0m17.2 .7h0m11.3-.7h0m1.1 0h0m25.5 .2h0m29.5 .5h0m11.4-.3h0m-119.6 .8h0m9.4 .4h0m22.8 .1h0m12.7-.3h0m.4 .2h0m4.8 .2h0m20.2 .1h0m-77.8 .8h0m2.6-.7h0m24.9 .1h0m17.2 .2h0m16.8 .3h0m30.4-.5h0m7.2 .5h0m3.4-.3h0m10.2 .3h0m1.3-.2h0m11.7 .4h0m2.3-.5h0m-132.4 1.1h0m8-.3h0m10.7 .8h0m14.4-.5h0m15.7 .4h0m2.3-.5h0m.3 .5h0m11.8 .1h0m21.6-.4h0m9.4-.5h0m1.4 0h0m0 .3h0m4.5-.2h0m7 .3h0m16.8 0h0m2.1-.3h0m6.7 .8h0m-138 .3h0m38.3 .1h0m24.5 .5h0m9.2-.4h0m14.5 0h0m2.8 .3h0m49.4 .1h0m3.3-.6h0m-139.3 1.4h0m35.3 .3h0m15.8-.3h0m15.2-.1h0m23.8-.1h0m14.1-.1h0m9 .4h0m8.5-.3h0m6.7 .4h0m-121.7 .9h0m6.9 0h0m9-.1h0m9.1 .4h0m1.9-.8h0m11.4 0h0m13.4 .4h0m12.7-.3h0m8 .6h0m7.9-.2h0m7.3 .2h0m14.2 0h0m.7-.7h0m27.5 .3h0m-128.7 1.2h0m8.7-.5h0m2 .1h0m12.8 .5h0m12.8-.2h0m2.4 .3h0m4.8-.5h0m2-.2h0m10.5 .4h0m34.3-.4h0m6.6 0h0m10.3 .8h0m-113.5 .2h0m29 .2h0m15.1 .6h0m31.3-.8h0m3.6 .2h0m16.5 .5h0m19.8-.5h0m11.4-.4h0m5.2 .6h0m-108.7 .6h0m5.5 .6h0m3.8-.7h0m2.8 .2h0m4.7 .7h0m10.6-.1h0m5.3-.3h0m5.8 .4h0m15.9-.4h0m.4 .2h0m8-.3h0m6.4-.3h0m15.2-.2h0m3 .8h0m1.9-.4h0m-115.3 1.1h0m11.4 .4h0m1.2-.4h0m10 .3h0m5.8-.3h0m3.3 .3h0m3.8-.5h0m.4-.2h0m6.5 .3h0m25.4 0h0m2.4 .1h0m4.1 .1h0m18.4-.4h0m-91.2 .9h0m.9 0h0m13 .1h0m.6 .3h0m5.6-.2h0m43.1 .3h0m1.6-.3h0m27.8 0h0m24.8 0h0m14-.3h0m-115.7 1.1h0m4.6 .5h0m33.8 .2h0m18.6 0h0m13.4-.6h0m2.5 .2h0m6.9-.2h0m14.8 .5h0m.9-.1h0m-112 .6h0m10.5 .2h0m15-.3h0m37 .2h0m5.5 .5h0m17.9-.2h0m.4-.2h0m2.9-.4h0m6.5 .8h0m7.4-.7h0m5.4 0h0m13.5 .1h0m11.5 .4h0m-125.3 1.3h0m.9-.8h0m5.1 .6h0m24.4-.2h0m20.9 .4h0m6.8-.4h0m7.6 .2h0m2.2 0h0m58.1-.3h0m.7 0h0m-135.3 1.2h0m35-.1h0m27.4 0h0m16.1 .3h0m24.8-.4h0m21.3 .3h0m-124.8 1h0m24.6-.1h0m1.2-.4h0m.8 .4h0m2.3-.2h0m5.4 .3h0m8.6-.3h0m11.2 .2h0m9.8 .1h0m.5-.5h0m5.3 0h0m8.6 .2h0m8.3-.2h0m.3 .8h0m.6-.8h0m9.3 .1h0m3.3 .5h0m21.3 .1h0m-117.3 .9h0m18.5 .1h0m5.4-.1h0m4.5-.5h0m1 .6h0m15.2-.3h0m2.6-.1h0m11 0h0m4.6-.2h0m6.2 0h0m10.2 .5h0m4.5 .1h0m4.2-.6h0m13.6 .1h0m24.7 .6h0m.1-.3h0m-126.9 .5h0m2.7 .4h0m12.3-.6h0m17.9 .3h0m11.4 .1h0m5.2-.2h0m10.6 .1h0m4.2 0h0m21.8 .6h0m12.7-.2h0m13.9-.6h0m23.6 .6h0m-142 .9h0m4.2-.5h0m18.5 .8h0m22.9-.7h0m2.4-.1h0m8.7 .1h0m36.3 .7h0m2.6-.5h0m.7 0h0m3.9 .3h0m6.4-.2h0m1.1 .4h0m14.1-.8h0m10.2 .2h0m4.2 0h0m1.3 .5h0m4.5-.2h0m-137.9 .7h0m6.8 .3h0m8.8-.3h0m13.3-.2h0m7.8 .2h0m.9-.2h0m.6 .6h0m10.8-.6h0m4.6 0h0m4.8-.1h0m2.8 0h0m6.9 .8h0m24.5 .1h0m3.5-.7h0m40.2 .3h0m-137.2 1.3h0m36.7-.7h0m30.4 .2h0m25.2 .4h0m2.4-.5h0m2.4-.1h0m20.6 .3h0m.9-.2h0m4.1 .1h0m15.2-.1h0m-134.8 1.1h0m20 0h0m.5-.1h0m6.9 .6h0m9.7-.3h0m1.3 0h0m6.5 0h0m3.1 0h0m10.6-.1h0m2.8 0h0m3.4 .5h0m40-.3h0m10.9 0h0m1.7 .4h0m14.2-.6h0m-130.6 1.6h0m20.9-.7h0m20.7 .2h0m8.1 .1h0m18.8-.4h0m12.8-.1h0m14.2-.1h0m.6 .3h0m13.3 .3h0m19.1-.1h0m-135.3 .7h0m15.5 .6h0m1.5-.6h0m20.3 .2h0m5.1 .3h0m78.7 0h0m3.6-.6h0m16.3 .6h0m1-.5h0m-122.5 1.2h0m20.3 .3h0m1.3-.6h0m9.4 0h0m1.7 .4h0m13.3-.1h0m1.8 0h0m1.8 .6h0m12.1-.5h0m8.5 .5h0m14.6-.7h0m9.7-.1h0m8.7 .1h0m12.2 0h0m2.1 .2h0m-121.8 .7h0m38.5 .1h0m7.9 .3h0m11.9-.4h0m6.3 .1h0m3.8-.1h0m6.6 .5h0m25.5-.7h0m19.2 .8h0m-133.1 1.2h0m14-.5h0m16.7-.4h0m.6-.1h0m5.9 .1h0m20.2 .5h0m2.1-.2h0m2.4-.3h0m3.4 .1h0m.7 .1h0m19.2 .4h0m3-.3h0m29.4-.1h0m18.3 .5h0m-113.1 1.1h0m12.3-.4h0m28.9-.1h0m5.7 .3h0m.3 0h0m6.3 0h0m15-.3h0m.7 .3h0m34.2 .1h0m5.8-.7h0m3.4 .5h0m-107.5 1.2h0m3.4-.1h0m26.6-.7h0m14.4 1h0m20.4-.5h0m8.5-.2h0m29.5 0h0m1.2-.2h0m3.5 .6h0m-130.5 1h0m2.7-.1h0m36.2-.5h0m36 .4h0m10-.4h0m7.2 .5h0m3.3-.6h0m11.5 .3h0m.8 .3h0m2.9-.5h0m15.9 .9h0m-133.2 .7h0m16.5-.7h0m11.3 .7h0m13.9-.2h0m9.1-.1h0m40 .1h0m11 0h0m24.3 .4h0m4.1-.7h0m4.4 .3h0m7.4 .2h0m-140.8 1.2h0m1.3-.6h0m19.2 .3h0m7.8 .4h0m2.3-.1h0m5.3-.4h0m13-.3h0m13.1 .8h0m1.9-.9h0m5.9 .1h0m1.5 .3h0m1.2-.3h0m15.4 .6h0m38.7-.5h0m15.4 .6h0m-143.3 .2h0m36.7 .2h0m7.7 .6h0m5.3-.4h0m21.8 .1h0m6.8 .1h0m14.7-.1h0m9.6-.5h0m2.9 .1h0m9.6 .4h0m3-.5h0m1.6 .1h0m19.1 .6h0m3.2-.7h0m-138.9 1.5h0m2.4-.1h0m23.3 0h0m9-.1h0m5.6 .6h0m18.9-.7h0m1.9-.2h0m9.1 .2h0m32.7 .5h0m19.9-.8h0m-113.9 1.4h0m7.7-.3h0m14.5 .8h0m6.4-.1h0m4.6 0h0m3-.5h0m6.6 .3h0m19.9 .1h0m4.8-.4h0m2.1 .2h0m2.7-.3h0m10.6 0h0m28.3 .6h0m1-.7h0m2.5 .6h0m13.6 .1h0m-140.2 .5h0m.5 .7h0m4.9-.8h0m1.2-.1h0m53.6 0h0m7.3 .1h0m28.1 .2h0m4.2 0h0m5.4-.3h0m.2 .5h0m24.5 .4h0m2-.8h0m10.1 .1h0m.5 .7h0m-142 .1h0m16.7 .5h0m14.4 .4h0m.4-.3h0m18.8-.6h0m22.8 .7h0m.9-.6h0m19.6 .6h0m4.8-.2h0m3.6 .2h0m26.9 0h0m13.1-.7h0m-123.8 1.4h0m14.2 .2h0m29.6-.4h0m12.4 .1h0m9.2 .1h0m22.5 .2h0m12.8-.3h0m8.3 0h0m-122.1 .8h0m35.1 0h0m13.9 .2h0m1.1 .3h0m27.6-.1h0m42.8-.5h0m-108 1.4h0m24.3-.1h0m9.1-.2h0m36.1 .7h0m7.7 0h0m10.2-.3h0m1.1-.6h0m3.1 .1h0m4.5 .8h0m17.8-.6h0m4.7-.3h0m-134.9 1.9h0m21.1 0h0m17.9-.7h0m24.4-.1h0m4.8 .7h0m.8-.8h0m1.6 .2h0m10.3 .5h0m18.1 .2h0m10.1-.9h0m5.5 .4h0m.6 0h0m.6-.2h0m-115.3 1.1h0m6.7 0h0m15.3 .7h0m1.5-.8h0m20.8 .4h0m7.5-.4h0m31.4 0h0m.9 .4h0m2.3-.5h0m1.1 .2h0m27.2 .4h0m5.7 .2h0m11.2-.2h0m.4 0h0m7.1 .1h0m-133.5 .4h0m7.7-.1h0m12.3 .1h0m1.8 .3h0m.3-.3h0m8.7 .3h0m1.6-.5h0m1.2 .9h0m7.9-.8h0m14.9 .2h0m45.6 .4h0m.8-.5h0m3.1 .6h0m9.8 0h0m14-.7h0m2.7 .3h0m-135.3 .7h0m.8 .7h0m14.8 .1h0m26.5-.2h0m4.7 0h0m1.9-.1h0m6.9-.5h0m7.5 .8h0m7.4 0h0m14.9-.5h0m14.4 .5h0m14-.6h0m.8 .4h0m9.1 .2h0m7.2-.1h0m-123.6 .3h0m3.7 .2h0m15.4 .4h0m9.7-.1h0m11-.4h0m6.5 .5h0m3.5-.4h0m8.5-.1h0m.4 .2h0m25.5 .5h0m3.3-.8h0m4.4 .6h0m6.9 .3h0m20-.1h0m-125.1 .5h0m15.9-.2h0m37.6 .6h0m41.1 0h0m7.1 0h0m22.8-.7h0m5.8 .2h0m1.9 .5h0m2.4-.8h0m-135.5 1.2h0m2.7 .2h0m.5-.4h0m.2 1h0m72.4-.6h0m6.7 .5h0m2.6-.7h0m35.4 .3h0m3.1-.5h0m4.5 .8h0m.2-.5h0m5.2 .6h0m-129 .5h0m24.3-.2h0m2.6 .6h0m33.5-.1h0m2-.7h0m20.6 .7h0m5.6-.4h0m22.9 .1h0m3-.3h0m8.2 .1h0m6.7-.2h0m.6 .9h0m.4-.8h0m-125.6 1.4h0m.4 .3h0m8.2-.6h0m51.5-.1h0m13.7 0h0m.1 .2h0m23.8 .3h0m18.2-.3h0m-108.3 1h0m18.6 .6h0m3.5-.6h0m10.4 .4h0m3.6 0h0m9.7-.1h0m2-.3h0m12.9 0h0m6.1 .2h0m8.5-.4h0m1.3 .6h0m27.8 0h0m-93.4 .9h0m4.1-.4h0m16.9 .2h0m23.5 .2h0m4 .1h0m18-.3h0m.9 .3h0m17.2 .3h0m3-.4h0m16.9 0h0m-133.2 1.3h0m4.2-.2h0m3.3 .1h0m4.4 0h0m19.3 .2h0m4.9-.2h0m20.5-.5h0m3 .6h0m6.2 .1h0m6.6-.6h0m2.1 .2h0m13.3 .1h0m15.5-.4h0m-107.1 .8h0m3 .7h0m32.9-.7h0m1.6 .9h0m2.1-.9h0m.5 .4h0m53.3 .3h0m5.2-.7h0m7.4 .5h0m8.6-.4h0m27.4-.1h0m-141.7 1.4h0m2-.5h0m7.6 .7h0m39.5-.6h0m32.1 .2h0m2.4 .5h0m1.1-.1h0m1.6-.2h0m.2 .5h0m21.8-.3h0m9.6-.4h0m3.4-.1h0m2.5 .1h0m7.9-.1h0m4.3-.2h0m6 .5h0m-130 1h0m15.6 .4h0m0-.2h0m4.7 .2h0m8.7-.2h0m2.8-.1h0m5.7-.1h0m1.2 0h0m2-.4h0m44.1 .7h0m1-.6h0m14.2 .7h0m13.8-.3h0m12.9-.3h0m-114.9 1.6h0m16.2 0h0m3.5-.2h0m.7-.6h0m51.4-.1h0m6.6 .6h0m-103.2 1.3h0m12-.9h0m7.2 .3h0m42.2 .4h0m5.1-.3h0m5.1 .2h0m13.8 .2h0m11.4-.6h0m2.9 0h0m5 0h0m12.2 .1h0m24.7 .1h0m.4 .5h0m-126.5 .8h0m14.6-.1h0m9.2-.3h0m2.8-.2h0m19.1 .9h0m14.8-.2h0m4.5-.1h0m9.3-.5h0m20.4-.1h0m4.9 .6h0m15.4-.2h0m9.6-.3h0m-95.2 1.2h0m10.1-.3h0m20.9 .4h0m12.8-.4h0m11.8 .3h0m19.5 .1h0" stroke="#e048e8"/>
<path d="M0 0m1.3-.9h0m31.9 .1h0m28.2 .2h0m.4-.3h0m40.4 .1h0m-93.2 .6h0m.7 .4h0m75.7 .2h0m13-.6h0m20.3 .3h0m-105.5 1.3h0m30.6 .1h0m10.8-.6h0m26.8 .5h0m6.5-.1h0m17.8-.5h0m24.6-.3h0m-119.2 1.3h0m11.6 .7h0m5.6-.9h0m1.7 .5h0m11.2-.2h0m16.5 .2h0m12.9-.5h0m.8 0h0m34.4 .3h0m-99.3 1.5h0m8.2-.9h0m36.5 .4h0m32.8-.1h0m6.6 .7h0m15.3-.6h0m6 .4h0m10.6 0h0m-110.5 .7h0m2.1-.2h0m23.6-.3h0m-11.6 1.8h0m20.9 0h0m.7 .1h0m31.1-.1h0m1.5 .1h0m21.9 0h0m38.5 0h0m-121.9 .4h0m.7 .3h0m6.6-.1h0m19.6 0h0m72.2-.1h0m5.8-.4h0m7 .1h0m-130.6 1.5h0m5.6-.2h0m2.7-.4h0m9.9 .4h0m17.2 .2h0m36.3-.6h0m15.6 .9h0m47.7-.8h0m7 .5h0m-84.4 .7h0m4.6 .7h0m6.9-.4h0m13.7-.1h0m-75.4 .9h0m10.5 .3h0m73.6-.7h0m-71.5 1.1h0m.3 .7h0m.8-.1h0m2.4-.5h0m7.9 .1h0m31.2-.3h0m1.6 .7h0m.7-.6h0m14 .4h0m8.9 .3h0m30.3-.5h0m4.3 .6h0m5.1-.5h0m-118.1 .7h0m5.2 .7h0m4.8-.5h0m44 .1h0m1.8 0h0m3.1 .4h0m-17.9 1.2h0m18.9-.8h0m-69 1.6h0m31.4-.2h0m11.3-.6h0m13.4 .5h0m.4-.1h0m24.1 .3h0m39.3 .3h0m22.1-.2h0m-131.8 1.1h0m2-.5h0m18.9-.3h0m35.9 .3h0m.8-.1h0m44.6 0h0m1.2 .4h0m14.3 0h0m-98.8 1.1h0m1.7-.3h0m19.1 0h0m44.3 .4h0m31.5-.5h0m-123.4 1.1h0m35.5-.2h0m52.4 .2h0m-45.4 1h0m5.8 .2h0m7.5-.2h0m51 .4h0m-76.9 .2h0m.7 .4h0m29.3 .1h0m21.5-.3h0m9.5 .1h0m15 .2h0m.6 .3h0m.8-.3h0m18.5 0h0m-108.5 .6h0m29 .2h0m5.9-.2h0m21.5 .5h0m40.7-.5h0m18.5 .3h0m-117.1 1.1h0m1.9-.2h0m5.2-.2h0m10.5 .6h0m5.1 0h0m12.4-.4h0m18.2-.2h0m13 0h0m27.4 .4h0m16.2-.2h0m-112.8 1.5h0m62.1 .1h0m9.6-.1h0m15.5-.5h0m2.7 .1h0m11.6-.1h0m12.2 .2h0m-118.9 1h0m9.2-.4h0m35.4-.2h0m19 .9h0m15.8-.7h0m-73.5 1.8h0m7-.2h0m8.4-.6h0m12.3 .1h0m29.4-.2h0m2.3 .3h0m23.7 .3h0m4 .3h0m.9-.6h0m4.8 .1h0m25.7 .3h0m-100.2 .9h0m94-.3h0m9-.1h0m-116.7 1.5h0m5.9-.2h0m2.9-.5h0m11.6 .6h0m2.2 0h0m38.9-.1h0m33.8 .4h0m1.5-.7h0m15.3 .3h0m-115.7 .8h0m22.2 .1h0m.8-.3h0m34.9-.1h0m21.4 .3h0m29-.1h0m-112.2 1h0m28.8 .1h0m2.9 0h0m36.2 .4h0m23.4 0h0m1.8-.7h0m16.3 .3h0m-112.8 1.2h0m42.2 .2h0m29.4-.6h0m-44.8 1.7h0m8.6 0h0m38.1-.7h0m2.6-.2h0m6.5 .9h0m18.5-.3h0m24.9 .1h0m-90.1 .4h0m47.8 .1h0m39.6 .4h0m-127.7 1h0m42 0h0m11.7 .2h0m42.6-.6h0m-95.1 .9h0m47.3 .2h0m18.7 .4h0m2.3 .1h0m42.8-.3h0m-105.4 1.4h0m57.5 .1h0m5.6-.5h0m12.4-.2h0m46.5 .5h0m-130.4 .7h0m29.7 .4h0m62-.3h0m4.3 .3h0m19.1-.2h0m3.9-.6h0m-112.7 1.9h0m30.1-.4h0m59.5 0h0m-96.3 .6h0m12 0h0m12.3 .3h0m68.1 .5h0m6-.8h0m15.8 0h0m5-.2h0m-116.2 1.8h0m26-.4h0m29.8-.2h0m3.7 .4h0m28.9 .1h0m-92.6 1.3h0m87.2-.8h0m10.5 .4h0m-82.4 .5h0m65.9 .1h0m14.6 .5h0m1.6-.3h0m.4 1h0m29.4 0h0m-89.9 .9h0m46.8 .1h0m-82.3 1.3h0m33.6 0h0m46.4-.4h0m29 0h0m1.4 .7h0m-72.4 .4h0m20.6 .4h0m33-.1h0m23.9-.4h0m2.3 0h0m-58.5 1.6h0m5.6-.3h0m29-.2h0m11.7 .6h0m13.7-.9h0m6.2 0h0m10.9 .4h0m-119.4 .8h0m38 0h0m.3 .2h0m51-.3h0m1.4 .7h0m17.6 0h0m-122.1 .1h0m1.8 .5h0m38.3-.4h0m7 .6h0m22.7 .2h0m1.7-.6h0m19.7 .3h0m2.7-.3h0m12.8-.2h0m26.2 .4h0m-117.8 .7h0m17.2 0h0m12.8 .4h0m3 0h0m12.9-.5h0m9.9 .6h0m15.9-.3h0m38.5 .1h0m5.9 0h0m-139 .5h0m31.2 .5h0m41.9-.4h0m15-.1h0m53.9 0h0m-132.9 1.8h0m17.9-.7h0m24.8 .7h0m3.7-.4h0m1.7 .5h0m53.5-.1h0m-47.5 .9h0m55.7-.5h0m-71.3 1.1h0m6.7 .7h0m3.9-.4h0m8.3-.2h0m21.3 .6h0m-78.5 .7h0m24.1-.5h0m30.9 .3h0m50.7-.3h0m-111.3 1.2h0m11.8-.2h0m.2 .7h0m40.7-.2h0m6.3-.3h0m4.4-.3h0m1 .1h0m8.8 .8h0m25.2-.6h0m33.1 .5h0m-123.1 .2h0m.2 .6h0m5.9-.3h0m14.2-.2h0m4.1 .6h0m10.9-.2h0m21.6 .1h0m.1-.4h0m8.8 .5h0m9-.6h0m-75.8 1.6h0m30.4-.4h0m24.1-.3h0m11.8 .7h0m5.1-.4h0m36-.3h0m-39 1.8h0m1.5-.5h0m14 0h0m-91 1.5h0m38.8-.4h0m36-.3h0m15.1 .3h0m10.2-.3h0m19.5 .6h0m11.7-.2h0m-129.5 .5h0m4.4 .3h0m36.8 .4h0m50.2-.3h0m27.2-.2h0m-108.3 1.1h0m8.6 .4h0m34.3-.1h0m.4-.2h0m28.8-.1h0m35.3 .3h0m2.4 .1h0m8.4 0h0m-119.6 1.2h0m19.1-.8h0m17 .3h0m3.4-.3h0m50.7-.1h0m12.2 .5h0m23.2 .1h0m-116.5 1.2h0m9.3-.7h0m5.9 .7h0m63 0h0m4.2-.7h0m28.1 .4h0m-124.1 1.1h0m37.1-.4h0m25.2-.2h0m10.7 0h0m14.7-.1h0m37.6 .9h0m-100 .9h0m20.7-.6h0m0 .7h0m17.7-.4h0m31.8 .5h0m-100.1 .1h0m6.5 .8h0m35.7-.7h0m2.5 0h0m41.3 .6h0m4.5-.7h0m22 .4h0m11.9-.5h0m9.3 .9h0m1.9-.6h0m-100.6 1.6h0m34.6 0h0m29.1-.7h0m4.5-.1h0m12.6 .7h0m-116.4 .7h0m24.5-.3h0m75.5 .3h0m-54.1 1h0m14.8 .2h0m37.3-.2h0m-53.4 .6h0m50 0h0m18.1 .6h0m-112.9 1.2h0m12.8-.1h0m16.5-.6h0m10 .1h0m19.9 0h0m21.6 .3h0m-52.4 .9h0m1.3-.4h0m17.2 .3h0m7.5 .5h0m0 1.1h0m4.1-.1h0m14.8-.5h0m60.9 .4h0m-130.3 .2h0m7.3 .3h0m3.5 .3h0m4.7 .2h0m66 .2h0m21.9-.8h0m26.4 .5h0m-134 .7h0m31.6 .5h0m69.1-.1h0m7.1 .1h0m11.8-.6h0m2.1 .1h0m4.1-.3h0m-93.1 1.1h0m20.6 0h0m29.9 .6h0m9.7-.4h0m16.5 .5h0m-84.6 .8h0m.4 .3h0m24.2-.7h0m23.8 .7h0m21.2-.4h0m-92.3 .6h0m16.3 .1h0m21.6-.2h0m1.7 .1h0m36.8-.1h0m18.1 .2h0m15.6 .5h0m21-.1h0m-99.4 .4h0m8.1 .1h0m24.4-.1h0m53.7 .5h0m6.8-.1h0m-65.3 .5h0m55.3 .3h0m4.5 .3h0m10.3-.2h0m-116.2 1.1h0m15.2 .4h0m15.1-.5h0m7.4 0h0m7.5-.4h0m-58.4 1.5h0m45.9 0h0m4.5 .3h0m13.1-.1h0m-60.6 .8h0m.6-.4h0m22.4 .8h0m16.7-.4h0m5.7-.4h0m41.1 .7h0m17.2-.3h0m-69 .6h0m12.1 .5h0m41.2 .3h0m14.7-.8h0m-55.1 1.5h0m41.3 .2h0m12.1-.2h0m23.8-.1h0m6.8-.1h0m-103.5 1.3h0m59.3-.7h0m1 .2h0m4.9 .7h0m7.9-.3h0m18.3-.4h0m-95.4 1.5h0m33.7-.2h0m21.3-.5h0m25.5 .1h0m21.3 .5h0m-127.1 1.3h0m5.3-.6h0m46.9 .5h0m34.4-.4h0m10.8 .6h0m4.1-.2h0m-73.1 .2h0m24.8 1h0m57.2-.1h0m-110.6 .1h0m108.9 .4h0m-85.6 1.1h0m.8-.5h0m4.1 .7h0m29.8-.6h0m.1 .2h0m6.2 .2h0m28.4 .5h0m-56 .6h0m12.2 .1h0m22.5 .2h0m40.9-.4h0m8.8 .3h0m-122.2 .3h0m3.2 .7h0m13.4-.6h0m14 .4h0m7.4 .3h0m39.6-.9h0m9.6 .4h0m6.5 .4h0m.8-.1h0m17.1-.4h0m-99.8 .9h0m60.6-.1h0m13.6 .6h0m5-.6h0m28.3 .5h0m9.3 .1h0m.2 .1h0m-124.1 1.1h0m99.2-.4h0m-98.2 .6h0m31.1 .4h0m51.9 .2h0m-85.8 1.3h0m23.6-.7h0m14.3 .6h0m86.6-.2h0m5.4 .1h0m-104.5 1h0m15.1-.1h0m11.3 .1h0m4.1-.6h0m5.6 .2h0m27.4-.3h0m17.3 .1h0m-114.6 1.4h0m31.9 .1h0m28.2 .2h0m.4-.3h0m28.9-.1h0m11.5 .2h0m14-.7h0m-107.2 1.3h0m.7 .4h0m75.7 .2h0m13-.6h0m20.3 .3h0m-64.1 .8h0m51.1-.1h0m24.6-.3h0" stroke="#9444ff"/>
<path d="M0 0m10.7-.6h0m17.7 1h0m6-.9h0m31.1 .2h0m52.1 .4h0m-103.5 .7h0m5.2 .2h0m9.5-.1h0m17.6 .2h0m3.4-.1h0m20-.4h0m9.1 .2h0m37.2 .3h0m21.5-.2h0m-58.4 1.2h0m15.3 .4h0m38-.7h0m-119.1 1.2h0m52.5 .2h0m15-.6h0m55.5 .1h0m-116.2 .8h0m15.6 .8h0m4.1 0h0m4.5 .1h0m19.7-.4h0m35.6-.5h0m-94.7 1.3h0m10.1 .5h0m2.1-.6h0m13.1 .7h0m38.9-.1h0m19.6 0h0m30.5 0h0m-95.9 .4h0m39 .2h0m40.7 0h0m16.2 .2h0m5.7-.5h0m7.1 0h0m8.1 .4h0m-135.3 .9h0m15.9-.3h0m3.5 .4h0m14.6-.4h0m19 .3h0m8.8 0h0m4 .1h0m24.2-.5h0m5.1 .8h0m20.9-.5h0m6.9 .3h0m9.8-.2h0m-118.2 .7h0m1.2 .7h0m4.8-.4h0m1.2-.2h0m29.8 0h0m2.7 0h0m15.7-.2h0m3.4 .9h0m20.8-.4h0m11.7 .4h0m8.8-.4h0m-97.5 1h0m32.3 .5h0m28.7-.3h0m-73.9 .5h0m45 0h0m16.5 .1h0m8.6 .3h0m3-.4h0m25.3 .1h0m20.9 .7h0m3 0h0m9.1-.8h0m-131.1 1.7h0m11.9 0h0m.8-.5h0m9.2 .5h0m3.1-.9h0m.2 .2h0m29.1 .7h0m5.3-.3h0m-51.5 1.3h0m43.2-.6h0m2.5 .1h0m60.2 .5h0m12.1-.4h0m-126.5 1.1h0m3 .3h0m8.8 0h0m60.7-.1h0m3-.8h0m22.8 .1h0m13.8 .7h0m9.4-.2h0m-116.9 .4h0m1.8 .8h0m3.7-.7h0m20.5 .4h0m5.8 0h0m35.2 .3h0m-35 .7h0m87.3-.1h0m4.3 0h0m-137.9 1.2h0m7-.6h0m20.6 .5h0m2.2 0h0m30.6-.5h0m8.3 .4h0m4.6 .1h0m32.8-.4h0m4.6 .7h0m22.1-.7h0m1.9 .8h0m.5-.6h0m6.8 .3h0m-106.5 1.1h0m60.2-.2h0m2.1 .2h0m.8 .1h0m.7-.8h0m-91.2 2h0m54.2-.8h0m28.5 .1h0m14.8-.2h0m1.1 .6h0m.3 .3h0m17.7-.5h0m-124.6 .5h0m20.8 .5h0m20.2-.3h0m6.4 .5h0m14.5-.2h0m11.1-.2h0m21.1-.1h0m1 0h0m3.1 0h0m12 .4h0m5.5-.6h0m26.3 0h0m-65.6 1.7h0m57.2-.3h0m-117 1h0m41.1-.2h0m8.5 0h0m45.3 .6h0m11.9-.1h0m-120.9 .4h0m4-.1h0m51.1 .5h0m4.8 .5h0m13.4-.3h0m40.7-.6h0m-84.8 1.4h0m13.1 .2h0m19.2-.3h0m61.8-.1h0m-92.8 1.3h0m16.9-.5h0m37.1 .1h0m-82.1 1.1h0m23 .1h0m75.1 0h0m2.3 .6h0m-74.3 .9h0m26.2-.1h0m51.8-.4h0m7.9-.3h0m2.6 .1h0m-111.4 1h0m1.8 .4h0m10.2-.5h0m.8 .3h0m6.8 .3h0m3.9-.1h0m34.7-.6h0m13.4 .8h0m-55.5 .4h0m2.2 .8h0m53.4-.1h0m49.2-.9h0m-119.3 1.9h0m57.6-.8h0m.4 .3h0m56.5 .4h0m-117 1h0m83.5 .1h0m42.5 .1h0m-92.5 .8h0m3.3-.5h0m2.2 .2h0m6.5 .2h0m3.7 .3h0m1.9-1h0m41.9 .8h0m10.4-.2h0m6.4 .2h0m-112.3 .8h0m27.2 .2h0m16.6-.6h0m18.6-.1h0m11.3 .9h0m28-.8h0m-49 1.6h0m.1-.7h0m5.7 .7h0m23.5-.5h0m35.9 .1h0m-75.9 .6h0m45.9 .8h0m26.1-.2h0m6.7 .1h0m1.3-.4h0m-105.6 1.3h0m62.7 .1h0m6.5-.2h0m29.7 .2h0m-108.2 .3h0m3.1 .9h0m112.5-.3h0m11.2-.1h0m-135.7 .9h0m68.2 .5h0m5.2-.4h0m1.2-.2h0m35.1 .4h0m28.7-.3h0m-130.5 1.3h0m25.3-.6h0m32.1 .1h0m7.2 .5h0m42.3-.1h0m14.5 .3h0m5.1-.7h0m-122.7 1.8h0m27.6-.3h0m5.2-.2h0m57.6 .2h0m.1-.2h0m-81.4 1h0m55.5-.2h0m9.1-.3h0m17.8 1h0m6.3 0h0m-63.8 .6h0m52.9-.1h0m8.4-.3h0m-104.8 1.3h0m5.6 .4h0m93.9-.4h0m12.8-.3h0m.2 .8h0m22.9-1h0m-130.4 1.2h0m25.2 .5h0m3.9-.5h0m49.7-.1h0m3.2 .2h0m-68.4 1h0m30.5 .6h0m24.3 0h0m8.5-.6h0m44.1 .3h0m7.1-.5h0m-128.3 1.1h0m.4 .1h0m17.5-.2h0m40.6 .9h0m-42.4 .8h0m18.6-.7h0m27 .3h0m64.4 .4h0m-81.6 1.2h0m4.8-.4h0m14.8 0h0m29 .3h0m-103.4 .8h0m1-.2h0m10.2-.4h0m13.4 .2h0m80.5 .7h0m36.9-.3h0m1-.2h0m-142 .8h0m99.4 .1h0m42.6-.1h0m-142.4 .8h0m14.7 .8h0m96.4-.5h0m30.9-.3h0m-137.9 1.5h0m28.2 .2h0m96.1-.1h0m6.6 0h0m-110.6 1h0m17.3 .2h0m2.5-.9h0m5.2 .6h0m33.8 .1h0m-23.2 .7h0m79.7 .2h0m-137.8 1.2h0m14.7-.5h0m23.5 .3h0m3.1-.1h0m76.2-.2h0m10.7 0h0m5.4 .1h0m-106.4 .9h0m9.4 0h0m44.6 .3h0m.1-.1h0m25.7-.4h0m5.1 .8h0m19.8-.6h0m-125 1h0m13.5-.2h0m6.6 .9h0m13.5-.4h0m35.8-.5h0m-69.6 1.8h0m15.4-.3h0m4.2-.2h0m20.5 .1h0m12.9 .2h0m47-.7h0m30.4 1h0m-133.8 .1h0m1.9 .1h0m40.7-.1h0m48.7 .7h0m-67.2 1.1h0m16.9-.8h0m3.8 .9h0m3.3-.9h0m17.7 .2h0m24.4 0h0m-76.1 1.1h0m6.8 .6h0m14.6-.4h0m3.4-.5h0m42.5 .8h0m9-.8h0m9.3 .4h0m-97.3 1.5h0m36.4-.3h0m2.8 0h0m24.7 0h0m35.5 0h0m7.2-.3h0m8.7-.3h0m-118.4 1.9h0m.4-.1h0m6-.4h0m34.4-.4h0m6.3 .3h0m41.9-.2h0m3.9 .4h0m14.5-.2h0m.5 .5h0m12.5-.8h0m-102.3 1.4h0m74.3 0h0m13.7-.1h0m-78.7 1.1h0m20.1-.4h0m4.3-.1h0m53.4 .7h0m3-.6h0m11 .7h0m-97.2 .2h0m21.5 .3h0m18.9 .5h0m17.4 .1h0m25 0h0m14.4-.8h0m.3 0h0m-120.9 1h0m40.4 .8h0m11-.6h0m2.5 .3h0m23.5 .1h0m-72.8 .3h0m6.3 1h0m15.4-.7h0m23.6 0h0m15.1-.1h0m10.9 .4h0m37.5-.2h0m2.8 .4h0m12.1-.5h0m-113 .9h0m26.1-.1h0m33.2 .6h0m2.5-.3h0m-77.2 1.6h0m.8-.7h0m24.8-.2h0m25.9-.1h0m7.1 .9h0m22.6 0h0m19.7-.3h0m.9 .1h0m.5-.5h0m-74.1 1.5h0m28.7-.3h0m11.4-.4h0m11.3 .6h0m8.8 .2h0m6.9 0h0m21.5-.1h0m1.6-.2h0m11.8 .5h0m-79 1h0m8.2-.4h0m6.6-.3h0m3.8 .4h0m19.7 .1h0m7.1-.2h0m22.5 .1h0m8.8-.4h0m5.4 .2h0m-125.5 1.5h0m28.8-.1h0m1.3 0h0m52-.3h0m1.5 .3h0m17.4-.2h0m5-.2h0m5.6-.5h0m-103.7 1.5h0m20.2 .4h0m47.3-.5h0m16-.1h0m0 .4h0m-21.9 1.3h0m17.2-.9h0m12.1 .3h0m9.7 .4h0m14.3 .2h0m-113.7 0h0m16.7 .4h0m27.2-.1h0m10.4 .3h0m36.5-.5h0m18.8 .5h0m1-.4h0m-124.1 1h0m13 .7h0m33.2 .1h0m61.1-.2h0m2.9-.1h0m4 0h0m4.1-.1h0m-73.4 .7h0m-32.4 .9h0m17.6-.1h0m46.6 .5h0m2.3 0h0m1.4-.1h0m23.4-.3h0m-101.5 1.7h0m26.8-.5h0m21.7 .6h0m31.1-.2h0m8.7 .2h0m9.7-.6h0m13.3 .5h0m3.1-.2h0m-121.6 1.2h0m33-.8h0m.7 .2h0m1.9 .1h0m16.6 .2h0m6.9-.5h0m34.2 .8h0m21.4-.2h0m15.7-.5h0m-102.3 1.1h0m43.6 .1h0m4.3 .2h0m3.4-.3h0m12.4 .1h0m42.7 0h0m-123.2 .7h0m13.2 .5h0m20.8 0h0m71.2 .2h0m5.7-.3h0m10.4-.3h0m-127.5 1.2h0m26.7-.4h0m22.5 .8h0m.9-.5h0m27.1 .5h0m19.2-.6h0m34.6-.1h0m-121.4 1h0m.2 .1h0m8.2 0h0m69.1 .3h0m17.2 .2h0m12.6-.4h0m13.3 0h0m-107.4 1.1h0m7.8 .6h0m12.9-.8h0m2.9 .7h0m7.2-.8h0m10-.1h0m67.7 .3h0m-134.1 1.5h0m1.1 .1h0m16.7-.1h0m48.4-.2h0m11.9 .2h0m8.8-.5h0m35.5-.3h0m-85.3 1.4h0m2.4-.3h0m7 .9h0m25.1-.1h0m33.2-.7h0m9.6 0h0m-117.8 1.6h0m22.4-.3h0m9.4 .2h0m12.9-.2h0m58.3 0h0m9.8 .1h0m2-.3h0m5.1 .2h0m1.5-.4h0m4.6 .6h0m13.7-.6h0m2.3 .7h0m-130.1 1h0m22.6 .1h0m3.5-.6h0m1.1 .7h0m16-.4h0m6.5-.4h0m43.5 .7h0m33.7-.3h0m-132.9 1.3h0m30.5-.5h0m15.9 .3h0m4.8-.3h0m1.8-.3h0m28.8 .7h0m43.8-.3h0m-89 .6h0m15.4 .7h0m18.6-.5h0m5.4-.3h0m18.8 .3h0m14.7 .1h0m-104.4 1.2h0m8 0h0m5.5-.5h0m67.1 .1h0m17.4 .6h0m17.1 0h0m-89.5 1h0m10.8-.3h0m38.2 .1h0m17.5 0h0m22.6-.2h0m-125.5 1h0m37.2 .5h0m9.4-.4h0m39.2-.3h0m16.3 .1h0m8.3 .6h0m31.6-.5h0m-136.9 1.2h0m.2-.2h0m7.8 .2h0m9.6-.3h0m22.7 .1h0m3.1-.2h0m5.7 .7h0m.9-.5h0m28.9-.3h0m1 .2h0m17.3 .4h0m-84.1 .3h0m19.7 .5h0m5.2-.2h0m8.7 .1h0m29.4 .4h0m1-.6h0m56.3 .6h0m-128 1.1h0m14.1-.4h0m1.5-.3h0m39.3-.1h0m-37.2 1.8h0m6-.9h0m31.1 .2h0m52.1 .4h0m-103.5 .7h0m14.7 .1h0m21 .1h0m20-.4h0m9.1 .2h0m58.7 .1h0" stroke="#38e8e8"/>
<path d="M0 0m50.4-.7h0m14.6 1.1h0m32.9 0h0m17.2-.9h0m-90.8 1.1h0m26.5 .1h0m15 .3h0m62.2 .5h0m6.9-.7h0m-107.4 1.6h0m3.6-.8h0m14.5 .5h0m8.2-.2h0m19.5-.1h0m20.5 .5h0m44.2-.2h0m2.8-.1h0m-126.6 1.5h0m7.9-.3h0m13.6-.6h0m16.2 0h0m56.6 .5h0m24 0h0m-123.2 .5h0m37.6 .3h0m5.5 0h0m-20 1.2h0m11.5 0h0m47.7-.2h0m4.8 .5h0m1.4 0h0m35.8-.8h0m-122.9 .9h0m5.9 .8h0m114.4-.5h0m-101.4 .8h0m17.6 .1h0m81.5 .4h0m-50.5 1.2h0m15.3-.7h0m47.2 0h0m-107.6 1.1h0m13.6 .1h0m9 .7h0m1.9 0h0m4.2-.9h0m6.3 .3h0m.1 .3h0m41.1-.1h0m-106.5 1.3h0m21.2-.1h0m44.1-.4h0m59.1 .3h0m4.7-.3h0m-86.7 1.4h0m9.4 0h0m6.5-.7h0m47.8 .2h0m6.7 .3h0m12.7-.1h0m9.7 .2h0m.3-.6h0m-128.2 1.4h0m6.4-.3h0m5.7 .6h0m9.9 .1h0m14.3-.6h0m15.3 0h0m9.5 .1h0m42.6-.3h0m-98.7 1.3h0m85.5 .4h0m7.4-.1h0m1.8-.1h0m-84 1.2h0m3-.5h0m33.1 .2h0m1.4-.3h0m3.9 .6h0m18.4-.4h0m-84.5 1.5h0m2.9-.4h0m40.6 .3h0m59.4-.8h0m15.3 0h0m16.3 .2h0m-118.4 1.7h0m23.2-.8h0m22.2 .3h0m38.3-.4h0m24.3 1h0m14.8-.1h0m-111.9 .4h0m44 .6h0m-53.8 .5h0m5.6 .4h0m10.3 .2h0m13.2-.2h0m10.4-.5h0m10.9 .4h0m33.7-.1h0m2-.6h0m22.8 .7h0m13.7 .2h0m-136 .8h0m5.7 .3h0m24.2-.6h0m37.7-.3h0m47.5 .9h0m-42.5 0h0m9.5 .9h0m21.6-.7h0m23.7-.1h0m-117.3 1.4h0m7.1 .4h0m50-.7h0m21.9 .6h0m4.4-.7h0m12.1 .6h0m9.4 .3h0m7.7-.2h0m-82.9 .2h0m14.8 .5h0m9.3-.4h0m29.2 .3h0m12.1 .4h0m2 .1h0m-79.6 .1h0m28.7 .3h0m-35.6 1.5h0m108.8 .1h0m-132.4 .6h0m10 .3h0m28.9-.3h0m15.8 .4h0m25.7-.4h0m22 .2h0m27.2 0h0m5.5-.1h0m-86.2 .8h0m36.7-.1h0m29.5 .1h0m5.8-.3h0m-109.8 .9h0m75.1 .2h0m47.9 .8h0m-133.7 1h0m7.8-.6h0m30.9 .6h0m80.5-.7h0m-98 .9h0m23.6 .3h0m41.2 0h0m10.2 0h0m-98.3 .7h0m71.1 .7h0m16.4-.3h0m11.8-.5h0m8.2 .6h0m4.7-.4h0m21.8 .2h0m8-.3h0m-85.1 1.6h0m-38.5 .8h0m9.5-.1h0m69.3 .1h0m9.8-.1h0m22.7 .2h0m-118 .9h0m4.4 .3h0m45.1-.8h0m13.3 .2h0m.2 0h0m11 .7h0m10.4-.7h0m3.4 .5h0m12.2-.8h0m20.7 .3h0m-111.5 .9h0m70.6-.1h0m-86.6 1h0m26.1 .7h0m6.1-.3h0m103-.3h0m.4 .5h0m-132.1 1.3h0m5.9-.8h0m15.3 .5h0m14.4-.3h0m37.8 .1h0m39.2 .2h0m-73.3 .6h0m26.1 .5h0m2.8-.7h0m7.5 .3h0m-82.9 1.5h0m1.6-.3h0m1.7-.5h0m7.7 1.1h0m28.1-.1h0m28.2 .3h0m-59.9 .7h0m9.9 .6h0m16 0h0m.4-.2h0m34.9-.5h0m10.9 .1h0m25.2 .2h0m2.9-.2h0m13.4 .2h0m5.5 .2h0m-91.6 .7h0m.4 .1h0m26.6-.2h0m25.9 0h0m27.6 .4h0m19.2 .5h0m-109.8 1h0m36.3-.9h0m14.9 .1h0m19.6 .1h0m3.5 .4h0m1.5 .1h0m3.3-.2h0m-97 .5h0m13.3 .1h0m12.2 .4h0m8.5-.1h0m-22.3 .7h0m20-.1h0m26.7 .3h0m29.2 0h0m-79.9 .8h0m22.4 .4h0m2.9-.3h0m2.8 .5h0m1.3-.6h0m.2 .2h0m68.7 .3h0m9.9 .1h0m2-.2h0m-111.2 1.3h0m9.4-.2h0m43-.2h0m25.9 .1h0m-28.3 .6h0m75.9 .2h0m-102 1.3h0m10.3-.5h0m35.2 0h0m39.3 0h0m-51.9 1.6h0m9.9-.6h0m17.2 .8h0m18.3-.7h0m-106.1 .8h0m7.3 .6h0m23.7 .1h0m6.5-.5h0m30.2 .5h0m-57.2 .9h0m8.9-.4h0m20.5 .3h0m55.7 .2h0m-69 .2h0m17.6 .2h0m8.5-.1h0m1 .7h0m23-.6h0m.8 .2h0m-74.6 1.1h0m41.7-.2h0m9.4 .4h0m-63.4 .8h0m52.2-.4h0m53.1 .1h0m17.4 .2h0m-122.4 1.1h0m36.7-.5h0m32.4 .1h0m33.2 .4h0m-43.8 1h0m63.2 .2h0m-117.7 .6h0m31.7-.1h0m70.9 .1h0m-99.2 1.2h0m38.9 .3h0m-39.8 1h0m36.6-.3h0m1.5 .3h0m21.9-.3h0m26.8-.4h0m-74.3 1.1h0m36.8 .6h0m-41 .7h0m46.2 .5h0m21.5-.2h0m12.7 0h0m5.9-.5h0m-103.3 1.4h0m17.5-.5h0m11.6 0h0m84.3 .2h0m11.7 .3h0m2.8-.7h0m4.2 .5h0m4.1 .1h0m1.2-.6h0m4.6 .7h0m-93.2 .6h0m58.2 .4h0m13.3-.6h0m-105.5 1.9h0m30.9-1h0m18.9 .7h0m26-.2h0m12.9 0h0m-102.9 1.2h0m.3 .2h0m5.7-.1h0m8.7-.3h0m12.9-.1h0m14.6 .1h0m.3 .1h0m5 0h0m4.3 .2h0m1.2-.1h0m14.3-.7h0m26.6 .3h0m16.8 .3h0m31.3 .1h0m.3 .2h0m-108.3 .4h0m33.9 .5h0m60.2-.5h0m-98 1.6h0m20.9 .1h0m30.8-.9h0m30.9 .5h0m-74.9 .5h0m36.2 .9h0m.9-.3h0m13.3-.2h0m5.6-.2h0m25.7 .6h0m18.8-.6h0m-118.9 1.3h0m8.4-.5h0m94.5 .6h0m.7-.2h0m-120.2 .5h0m47.5 .3h0m-8 1h0m82.3 0h0m-123.1 1.5h0m3.4-.7h0m1 0h0m26.2 .5h0m4.6-.4h0m4.2 .4h0m23.8-.2h0m3.6 .5h0m12.2-.2h0m15.7-.5h0m27.2 .1h0m10.9 .6h0m-102.1 .2h0m30.6-.1h0m6.8 .2h0m29.8 .6h0m1.3-.6h0m-61.7 1h0m6.8 .2h0m0 .1h0m4.4-.4h0m9 .7h0m3.2-.4h0m40.3-.3h0m2.9 .4h0m30.1 0h0m-114.8 .9h0m116.4 .1h0m-83 1.2h0m18.7 0h0m40 .3h0m13.5-.7h0m-114.6 1.1h0m71.6 .3h0m18.7-.6h0m2.1 .8h0m13.9-.1h0m-105.5 .3h0m16.5 .9h0m6.7-.6h0m16 .3h0m49.1-.4h0m3.5 .4h0m6.3-.3h0m15.6 0h0m-99.6 1.5h0m5 0h0m67.2-.8h0m15.8 .7h0m15.9-.2h0m-126 1.2h0m.4-.2h0m9.5 .4h0m8.3-.6h0m27.2 .5h0m4-.1h0m4.1-.7h0m-52.6 1h0m15.4 .8h0m17.2-.1h0m25.5 0h0m24.2 .2h0m28.1-.3h0m10.3-.5h0m3.4 .7h0m5.4-.2h0m-129.4 1.2h0m2.9-.8h0m27.8 .1h0m26.5 .4h0m8.4 .3h0m10.5-.3h0m32.7-.1h0m-84.1 1.4h0m1.1-.8h0m47.8 .6h0m-17.2 1h0m2.3-.4h0m13.4 .1h0m14.4 0h0m3.2 .3h0m-60.1 1.1h0m23.3-.5h0m67.2 .5h0m-125.7 .4h0m26.3-.1h0m13.1 .1h0m13.2 .3h0m11.8 .2h0m77.6-.5h0m-78.2 1.3h0m-63.6 .6h0m51.4 .2h0m2.8 .1h0m7.8-.2h0m37.3 .5h0m42.7-.6h0m-138.3 1.6h0m18.1-.5h0m5.9-.2h0m22 .7h0m77.1-.3h0m-51.1 .6h0m1.2 .1h0m31.9 .4h0m8.9-.4h0m-34 1.1h0m28.4 .1h0m19.5-.1h0m-133 1.6h0m8.4 0h0m6.4-.7h0m28.1 .5h0m24.4-.5h0m18.6 .1h0m56.1 .6h0m-133.8 .7h0m45.7 .3h0m8.1 .1h0m14-.6h0m51.4 .4h0m-122.9 .8h0m.1-.4h0m58.8 .2h0m22.2 .6h0m23.4-.4h0m29.8 .4h0m-114.1 .4h0m14.4 0h0m22.7-.1h0m19.7-.2h0m35.8 .6h0m9-.4h0m.7 .1h0m5 .6h0m-120.8 .2h0m7 0h0m114 .5h0m-81.2 1.2h0m52.1-.6h0m-37.5 1.7h0m32.9 0h0m17.2-.9h0m-90.8 1.1h0m26.5 .1h0m84.1 .1h0" stroke="#3838f0"/>
<path d="M0 0m2.5-.6h0m18.3 .1h0m53.4-.2h0m8.6-.3h0m16.4 .2h0m17.2 0h0m4.9 0h0m-114.3 .4h0m74.1 .4h0m3-.5h0m16.5 .8h0m-80.5 1.2h0m12.6-.6h0m34.4 .3h0m16.7-.3h0m6.6 .2h0m33.8-.6h0m-101.8 1.7h0m.8 .1h0m35.9 .1h0m34.2-.7h0m14.2 .6h0m29.7-.5h0m-126.1 1.6h0m41.8-.1h0m36.8-.8h0m11 .9h0m1.9 0h0m11.5 .1h0m12.4-.8h0m-123.2 .9h0m70.2 .5h0m39 0h0m14.8 .2h0m-123.9 .8h0m1.2 .3h0m72.3-.7h0m2.5-.1h0m14.5 .2h0m20.4 .2h0m5.5 .4h0m-97.9 .8h0m.9-.6h0m17.7 .3h0m19.7 .3h0m13.6-.1h0m9.3-.2h0m21.7-.3h0m25.8 .2h0m-130.3 1.4h0m28.1 .1h0m22.9-.2h0m70.4-.5h0m3.3 .6h0m17.3 0h0m-111.9 .7h0m32.6-.1h0m7.5 .6h0m9.4-.5h0m12.6 .3h0m2.6 .2h0m13.3-.1h0m20.3-.1h0m-128.7 1.2h0m12.7-.8h0m14.7-.1h0m9.1 .1h0m7.2 .1h0m1.6 .1h0m50.2-.1h0m46.5 .7h0m-128.9 .3h0m1.4-.1h0m4.4 .9h0m39.5-1h0m8.8 .4h0m19.2 .4h0m8.8 .1h0m14.2-.2h0m4.3 .2h0m21-.2h0m-126 .4h0m41.1 .7h0m5.8 .2h0m11.2-.1h0m.8-.1h0m.4-.4h0m1.4 .2h0m15-.4h0m20.9 .1h0m3.7 .1h0m12.6 0h0m10.6-.4h0m-132.3 1.3h0m10.5 0h0m11.1 .5h0m38.9-.3h0m28.3-.4h0m6.9 .4h0m27.9 0h0m13.1-.4h0m3.5 .9h0m1.8-.7h0m-126.6 1.4h0m.4-.2h0m61.4-.1h0m0-.3h0m6.4 0h0m37.7 .7h0m7.3-.5h0m-127.5 1.5h0m21.3 .1h0m13.9-.6h0m86.6-.1h0m-108.7 1.6h0m1.4-.4h0m5.3 0h0m3.5-.3h0m.7-.1h0m11.9 .6h0m39.5-.2h0m22.7-.2h0m2.3 .4h0m20.8-.1h0m-97.6 .8h0m23.5 .3h0m31.1 .2h0m34.9-.3h0m13.4 .3h0m-113.7 .6h0m16.2 .3h0m37.1-.4h0m57.5 .5h0m-112.3 1.1h0m1.5-.4h0m4-.1h0m38.3-.1h0m6.2 .4h0m3.5 0h0m16 0h0m44.7-.1h0m4-.1h0m7.4-.2h0m-113.1 1.2h0m23.8 .4h0m.1 .1h0m0-.8h0m4.1 .6h0m6.4-.5h0m4.9 .7h0m15.7-.6h0m.2 .1h0m11.9 .1h0m3.4 .1h0m-91.3 1h0m2.5-.6h0m12.8 .6h0m5.7-.5h0m8.6-.2h0m1.6 .4h0m25.4 .5h0m15.1-.6h0m5.1 .1h0m2.1 .4h0m-71 .4h0m22 .2h0m12.2 .3h0m6.4-.4h0m16.8-.1h0m4.6 .1h0m12.5 .5h0m9.3-.2h0m10.2 .4h0m10.3-.8h0m8 .3h0m3.6 .5h0m-120.3 .8h0m9.7-.4h0m8.1 .4h0m10.5 .2h0m2.2-.2h0m4.1-.2h0m8.9 0h0m39-.4h0m5.1 .8h0m17.2-.9h0m4.5 .6h0m-115.3 1h0m60-.4h0m10.3 .2h0m6.3 .4h0m10.8-.9h0m20.6 .6h0m25.4 .2h0m4.3-.1h0m-85 1.3h0m16.3-.4h0m45.8 .3h0m4.2-.4h0m3.4-.5h0m-120.7 1.1h0m.3 .7h0m17.2-.1h0m31.7 0h0m28.1 .3h0m46.4-1h0m-102.4 1.5h0m10.7 .3h0m4 .1h0m3.1-.3h0m5.9-.1h0m3.7-.4h0m3 .3h0m1.5 .5h0m34.9-.9h0m.4 0h0m5.8 .3h0m36.9 .6h0m-120.2 .4h0m.8 .2h0m6.1 .2h0m20.1-.2h0m9.4-.5h0m20.6 .8h0m14.6 0h0m10.3-.1h0m3.6-.2h0m7.3-.3h0m31.8 .1h0m-133.1 1.3h0m8.4-.4h0m3 .7h0m.2-.6h0m49.1 .5h0m19.4-.3h0m1.7-.5h0m1.8 .7h0m23.2-.3h0m14.6 .4h0m2-.7h0m-111.3 1h0m14.2-.1h0m10.2 .7h0m33.2-.1h0m18.3-.4h0m-82.9 1.6h0m4.4 0h0m12.6-.5h0m.2 .3h0m16.9-.3h0m19.8 .4h0m-65.5 .6h0m6.8 .1h0m35.9 .2h0m1.4-.2h0m25.6 .1h0m3.1-.4h0m4.8 .3h0m2.9 .3h0m4.1-.5h0m57.4 .1h0m-140.4 .8h0m7.3 .6h0m8.4-.5h0m.4 .8h0m17.7-.8h0m4.2 .6h0m.5-.4h0m8.3 .2h0m21.8 0h0m1.8-.5h0m42.5-.1h0m23.2 .5h0m5.9-.4h0m-143.5 1.1h0m12.1 .7h0m19.8-.7h0m5.5-.1h0m18 .9h0m9.6-.6h0m3.9 .1h0m9 .3h0m1.7-.7h0m32.5 .6h0m2.5-.6h0m4.5 .3h0m22.9-.2h0m-130.1 .8h0m6.4 .2h0m7.7 .3h0m15 0h0m5.6-.3h0m1.9 .7h0m57.2-.8h0m1.3 .2h0m31 .1h0m3.5 .2h0m-127.7 1.1h0m27.5 .1h0m43.9-.6h0m56.4 .6h0m-117.2 1.1h0m8-.3h0m1.7 0h0m11.3 .2h0m24-.6h0m18.8-.2h0m1.2 .6h0m5-.2h0m11.6 0h0m10.2 0h0m5.9-.1h0m3.8 .1h0m4.2 0h0m-95.1 1.6h0m42.5-.2h0m1.3-.7h0m7.5 .8h0m11.5-.4h0m25.4-.2h0m-113.6 .7h0m8.8 .1h0m9.3-.1h0m6.4 .3h0m.6-.3h0m26 .2h0m31.6 .4h0m9.6 0h0m4 0h0m5.2 .2h0m4-.7h0m18.3 .7h0m.8-.4h0m-129.5 1h0m3.1 .3h0m10.8-.3h0m9.8-.1h0m26.3-.2h0m47.5 .5h0m-91.2 .6h0m16.7-.2h0m13.8 .1h0m76.3 .9h0m3.1-.3h0m19.3 .1h0m-129.1 .9h0m5.5-.1h0m47.1-.5h0m50.5 .7h0m4.9-.6h0m20.3 .3h0m-93.1 1.5h0m12.2-.6h0m14.6 .3h0m33 0h0m9.8 .3h0m.5-.5h0m11.9 .1h0m-104.1 .7h0m11.4 .3h0m14.3 0h0m1 .3h0m4.9-.2h0m3.7-.2h0m1.4 .4h0m50.4 .1h0m26.2-1h0m-75 1h0m35.2 .3h0m8.3 .6h0m-100.5 1.1h0m36.6-.4h0m18.8-.5h0m31.2-.1h0m4.1 .5h0m41.9-.3h0m1.5 .5h0m-135.8 .8h0m24.6-.2h0m7.2 0h0m41.1-.3h0m35 .2h0m15.2 .1h0m7.3 .6h0m-123.2 .3h0m52.9 0h0m10.6 .5h0m20-.3h0m10.4 0h0m3.9-.3h0m0 .7h0m3.9 .1h0m24.5-.2h0m-106.1 1h0m12.1 .2h0m7.1 .1h0m6.3-.9h0m33.9 .7h0m-84.8 .7h0m30.8-.4h0m4.2 .2h0m10.6-.2h0m37.4 .2h0m-84.6 1.6h0m2.4-.1h0m21.4-.7h0m34 0h0m2.2 .1h0m19.8 .7h0m6.6-.1h0m3.2-.7h0m13.1 .7h0m7.5-.1h0m8.5-.5h0m17.5 0h0m-139.2 1.2h0m4.7 .6h0m23.6-.5h0m2-.3h0m21.5 .2h0m38.8-.1h0m8.4 0h0m13.8 .4h0m.3-.4h0m10.5 .1h0m18.4 0h0m-124.8 1.5h0m17.3-.8h0m11.1 .1h0m0-.1h0m29.5 .8h0m40.6 0h0m2.5-.1h0m10-.7h0m5.7 .6h0m.5-.4h0m3.9 .3h0m0-.2h0m.2 .5h0m-136.1 .5h0m1 .6h0m43.5-.2h0m17.9 .2h0m1.5-.8h0m40.7 .1h0m1.1 0h0m-71.9 1.4h0m10.3-.3h0m14-.1h0m6.4 .5h0m3.3-.4h0m9.2 0h0m19.6-.1h0m15.3 .1h0m-76.2 .8h0m42.7 .1h0m18.6-.3h0m9 .5h0m-98.1 1.5h0m7.9-.5h0m23.9 .3h0m22.6 0h0m31.2-.6h0m13.1 .6h0m-107 .2h0m1.8 .1h0m5.3 .1h0m67.7 0h0m8.1 .4h0m44.3-.5h0m-128.6 1.2h0m39 .4h0m.9-.5h0m61.6 .5h0m30-.1h0m1.2-.2h0m2.1 .3h0m-133.1 .9h0m2.2 .2h0m9-.4h0m46.5 0h0m12.4 .6h0m19-.7h0m11.2 0h0m3.7 .1h0m15.6-.4h0m1 .8h0m-99.5 .7h0m23.3 .5h0m22.9 0h0m3.5-.6h0m4.5 .1h0m22.7 .1h0m-73.6 1.1h0m9.4 .2h0m1.4-.8h0m24.6 .6h0m70.9-.2h0m-133.2 1.3h0m11.4-.2h0m3.4-.2h0m29.2 .5h0m14.6-.3h0m.7 .1h0m3.9-.5h0m51.8 0h0m17.6 .7h0m4.4-.2h0m5 .1h0m-130.8 1.2h0m.9-.3h0m37.4-.4h0m8.7 .6h0m40-.3h0m-88.1 1.1h0m5.2 0h0m17.3-.1h0m8.7 .3h0m23.8-.2h0m57-.7h0m-119.7 1.2h0m11.7 .1h0m2.1 .2h0m15.5 .5h0m17.7-.5h0m51.2 0h0m16.2-.5h0m14.4 .5h0m-125.6 1h0m19.9 .3h0m.7-.3h0m12.8 .4h0m14.4 0h0m15.6-.8h0m8-.1h0m33.5 .3h0m25 .4h0m-116.2 .9h0m16.4-.4h0m24.3 0h0m33-.2h0m7.9 .3h0m4.6 .3h0m2 .2h0m16.7 .1h0m-122.3 .6h0m36.9 .5h0m38.1-.5h0m5.8-.4h0m16.6-.1h0m3.4 .9h0m4.2 .1h0m5.6 0h0m-113.1 .5h0m24-.2h0m2.3 .5h0m2-.4h0m2.7 0h0m2.8 .2h0m6.3-.3h0m.5-.3h0m1.7 .9h0m17.1-.7h0m33.4 .5h0m24.8-.3h0m18.7-.2h0m5.7 .3h0m-115.4 1.3h0m2.5 0h0m9.1-.6h0m18.2-.2h0m5.1 .9h0m22.8-.1h0m10.4-.5h0m9.4-.1h0m9-.1h0m-101.2 1.3h0m4.5 .4h0m3.9 0h0m16.1 0h0m75.2-.5h0m12.7 0h0m.8 .2h0m.5-.5h0m1.1 .4h0m.8 .6h0m.5-.4h0m3.6 .1h0m8.1-.2h0m-125.3 .8h0m15.4 .2h0m43.7-.1h0m16.3 .6h0m42.4-.6h0m2.5 .4h0m4.2-.7h0m-128.3 1.9h0m6.5-.1h0m19.8-.7h0m35.8-.1h0m43.9 .2h0m5.5 .6h0m-107.6 .9h0m22.5 .1h0m1.7 .1h0m34.9-.1h0m5-.3h0m6.9 .3h0m26.1-.7h0m-104.1 1.3h0m7.5 .5h0m2.1-.9h0m41.3 .6h0m20.3 .1h0m36.9-.2h0m1.4-.1h0m1.6-.4h0m8.7 .8h0m11.2-.8h0m1.4 .7h0m-126.5 1h0m24.8-.5h0m4.4-.2h0m.2 .1h0m7.4 .6h0m1.7-.5h0m27 .4h0m55.2-.5h0m.6 .3h0m5 0h0m-137.8 .6h0m17.7 .9h0m7.2 0h0m34.9-.9h0m11.9 .8h0m27.4-.4h0m35.8-.2h0m-135.5 1.5h0m28.7-.7h0m.4 .3h0m.7-.1h0m2.1 .7h0m60.1-.5h0m3.3-.1h0m46.7 .4h0m-109.2 .6h0m27.5 .1h0m3.3 .4h0m13.4-.7h0m1 .8h0m18.4-.7h0m.2 .6h0m4.6-.5h0m5.8 .3h0m10.5 .2h0m8.6-.5h0m-120.2 1.4h0m2.1-.3h0m24.8-.2h0m13.7 .2h0m3.2 .3h0m29.6-.2h0m3-.2h0m9.8-.1h0m2.2 .1h0m-74.8 1.1h0m55.4-.5h0m21.5 .4h0m1 .1h0m3.8 .2h0m6 .2h0m3.8 0h0m8.4-.6h0m8.4 .6h0m-121.3 .7h0m23.5-.1h0m14.1 0h0m21.4 .2h0m24.1 .3h0m23.6-.8h0m10.2 .7h0m-122 .5h0m31.7-.1h0m12.4 .3h0m.9 .3h0m22.1-.2h0m13.5-.3h0m5.1 0h0m7.4-.2h0m15.2 .7h0m20.4 0h0m-103.9 .3h0m50.4-.2h0m11.6 .3h0m11.7-.3h0m2.1 .7h0m2.3-.4h0m30.2-.3h0m2.5 .2h0m-136.7 1.7h0m5.1-.8h0m29.2 .1h0m27.7-.1h0m.4-.1h0m1 .4h0m18 .1h0m1.2 .2h0m4.8 .1h0m3-.6h0m33.7 .8h0m-84.4 .3h0m2.3 .1h0m4.7-.1h0m3.5-.3h0m16.5 .5h0m.7-.4h0m3.8 .4h0m43.1 .2h0m7.2-.2h0m-115.5 1.1h0m.6 .1h0m6.2-.2h0m1.8-.4h0m1.3 .8h0m8.7-.5h0m18.6 .2h0m8.9 .1h0m12.5 .1h0m21.1-.1h0m34.8-.1h0m19.2 0h0m-141.6 .9h0m1.5 .4h0m15.6-.1h0m23.6-.4h0m4.7 .5h0m4.7-.7h0m59.2-.2h0m14.2 .9h0m2.8-.1h0m15.7-.3h0m1.5 .4h0m-143.6 .7h0m.2-.1h0m57.9 .1h0m2.6-.1h0m80.2 .1h0m1.1 0h0m.2-.1h0m-126.6 .8h0m.2-.1h0m92.5 .8h0m3.3-.8h0m16.8 0h0m.5 .4h0m4.6-.2h0m-112.7 1.4h0m4.9-.7h0m10.3 .6h0m2.2 0h0m15.4-.4h0m37.3 .5h0m-77.9 .4h0m23.4 .8h0m10.2-1h0m62 .8h0m11.2-.2h0m6.5 .3h0m-125.2 .5h0m19.8 0h0m12.5 .5h0m8.7-.6h0m9.4-.2h0m16.6 .6h0m.8 .2h0m23-.3h0m14.2 .1h0m2.5-.3h0m9.4 .5h0m25.1-.5h0m-133.6 .8h0m12.2 .7h0m.3 .1h0m35.8 0h0m39.7-.8h0m7.9 0h0m28.7 .6h0m-134.1 .5h0m23.3-.1h0m19 0h0m7.9 .3h0m12 0h0m2.7 .3h0m7.9-.8h0m14.9 .6h0m2.5 .1h0m4.2-.2h0m16.3-.4h0m7.1 .5h0m14.5 .1h0m9.7-.4h0m-139.2 1.3h0m5.6 .2h0m10.4 .1h0m1.8-.1h0m17.2-.4h0m29.2 0h0m3.6 0h0m20.3 .5h0m25.8-.2h0m2.2-.7h0m20.3 .9h0m.7-.6h0m-136.6 1.6h0m18.3 .1h0m30.4-.7h0m23 .5h0m8.6-.3h0m15-.5h0m1.4 .7h0m3.5-.5h0m13.7 .5h0m4.9 0h0m-114.3 .4h0m74.1 .4h0m3-.5h0m16.5 .8h0m-67.9 .6h0m51.1 0h0m40.4-.4h0" stroke="#28e828"/>
<path d="M0 0m78.2 1.2h0m10 .1h0m6.3 .5h0m-21 2.6h0m52.9 .3h0m-80.5 1.7h0m-45.9 1.5h0m49.1 .6h0m70.6-.7h0m4.4 .7h0m17.9-.6h0m-95.6 .8h0m75.4 1.1h0m-54.8 1.4h0m30.7-.4h0m-19.9 2.5h0m21.5-.7h0m21.6 0h0m-38.8 1.3h0m32.8 .3h0m-55.5 .9h0m16.6 .2h0m-28.7 .6h0m59.3 0h0m18-.1h0m15.4-.2h0m-36.8 2.6h0m-93 .3h0m66.3 .5h0m55.6-.3h0m-98.7 1.7h0m77.4 0h0m-77.5 .3h0m-28.9 1.3h0m16.2-.1h0m12.5 .1h0m27.2 .2h0m-57.3 1.7h0m8.4 1.4h0m-4.6 2.1h0m-5.9 .2h0m17.9 0h0m124.1 0h0m-22.9 1.2h0m-119.9 1.4h0m34.7-.1h0m43.9-.5h0m3.5 .3h0m12.3 .1h0m21.9-.1h0m25.7 .3h0m-110 .6h0m62.1-.1h0m24.1 1.4h0m-117.1 1.9h0m15.6 .2h0m107-.2h0m-15.3 .9h0m16.2 2h0m-3 1.4h0m9.8-.4h0m-53.8 2.4h0m4.2-.6h0m2.6 0h0m-30.6 1h0m84 .2h0m-94.7 1.2h0m72.9 .2h0m1.7-.5h0m-101.5 .9h0m44.3 .7h0m38.6 .5h0m-42.4 .8h0m7 .7h0m41.3 0h0m-93 .9h0m36.2-.4h0m61.6 .5h0m19.9 .9h0m-44.9 .9h0m45.9 2.3h0m-86.1 0h0m18.9 .1h0m71.9 .6h0m-115.3 1.8h0m103.3 0h0m-85.8 .8h0m50.3 .1h0m30.9 .4h0m-105.5 2.9h0m-3.9 2.6h0m53.9 .9h0m-19.5 1.1h0m10.7 .7h0m26.6 .7h0m12.7 .6h0m-33.4 1.1h0m-30.5 1.5h0m17.7-.6h0m21.3 .4h0m18.6 0h0m-17.8 1.4h0m10.9-.1h0m9 .4h0m-70.3 1.1h0m32.9-.1h0m66.2 0h0m-108 2.9h0m1.2 .5h0m4.9-.5h0m.6 2.6h0m35.5-.5h0m75.6 1.3h0m12.4-.5h0m-115.7 2.3h0m43.3 .9h0m70.3 .5h0m-107.8 .9h0m56.6 2.4h0m-69.9 2.3h0m8.8 .1h0m32.6-.1h0m5.5 .4h0m-47 .4h0m-10.7 1h0m86.8-.2h0m45.3 .5h0m-107.9 .7h0m31.7 1h0m39 .1h0m6.7 .2h0m-19.1 2h0m-56.3 2.6h0m8.6 .6h0m-12.3 .7h0m-27.7 1.3h0m26.7-.1h0m92.8 .2h0m-82 .6h0m1.6-.1h0m7.2 .2h0m-37.2 .6h0" stroke="#c0f040"/>
<path d="M0 0m12.7-.7h0m43.5 .2h0m14.9-.4h0m8.1 .1h0m19.8-.2h0m6.9 .5h0m5.9-.4h0m-111.8 .5h0m7.4 .8h0m.5-.8h0m3.4 .9h0m3.6-.2h0m2.5-.1h0m7.3-.3h0m42-.1h0m1.4 .6h0m9.9-.4h0m3.2-.2h0m34.8 .2h0m19.1 .3h0m4-.6h0m2.9-.1h0m-129.1 1.1h0m9.1-.1h0m3.9 .7h0m15.8-.7h0m11.3 .7h0m73.9-.4h0m13.1 .4h0m-140.9 .6h0m6.1 .3h0m5.6 0h0m7.2-.4h0m8.9-.1h0m7.9 .1h0m51.1 .3h0m7.2-.6h0m7.3 .7h0m4.5-.6h0m2 .7h0m.8-.7h0m33.4 .3h0m-138 1.5h0m.2-.8h0m8.6 .2h0m8.3-.1h0m14 .7h0m1.5-.1h0m3.8-.6h0m7.7 .5h0m6.9 .2h0m17.6 0h0m2.9-.7h0m16.7 .4h0m20.6-.2h0m3.2 0h0m15 .3h0m4.7-.3h0m-128.6 1.5h0m17.5-.9h0m12.1 .3h0m6.9 .4h0m7.1 .3h0m5.9-.5h0m12.4-.1h0m2.6 .6h0m12.7-.1h0m5.8-.3h0m11.4-.3h0m1.9 .6h0m5.3-.7h0m12.3-.1h0m9.5 .2h0m3.4 .2h0m1.9-.1h0m5.3 .4h0m-138 .5h0m1.4 .6h0m6-.2h0m10.5-.5h0m22.9 .4h0m9-.2h0m25.2 0h0m14.5 .1h0m15.7-.5h0m14 .1h0m2.3 .9h0m13.8-.3h0m1.9-.5h0m-133.7 1.7h0m6.4-.8h0m6.4 .8h0m2.4 0h0m1.2-.7h0m16.6 .5h0m6.6-.2h0m20.6 .1h0m2.2 .2h0m40.9 .1h0m19.6-.6h0m5.1 0h0m-127.2 1.2h0m1.9 .1h0m8.5 0h0m13.3-.2h0m.4-.1h0m4.8 .3h0m15.1-.4h0m.5 .6h0m58.7 .1h0m1.6-.7h0m5.6 .4h0m13.6-.5h0m1.6 .2h0m.9-.3h0m-102.1 1.9h0m9.4-.7h0m17.5 .7h0m28.8-.1h0m4.2 0h0m2.3-.4h0m1.5-.1h0m6.5-.2h0m7.3 0h0m.6 .8h0m15.8-.5h0m-120.5 1.1h0m7.1 .1h0m4.6-.3h0m12.7 .2h0m1.1-.5h0m1.2 1h0m.3-.6h0m13.8 0h0m1.6 .3h0m14.5-.6h0m5.2 .6h0m5.4 .2h0m10.3 0h0m5.4-.7h0m4.7 .4h0m7.9 .2h0m4.4 .2h0m6.5-.3h0m6.1-.6h0m7.1 .1h0m7.4 .5h0m2.7-.1h0m-114 1.4h0m6.7-.3h0m1.1 .1h0m10.3-.2h0m8.1-.4h0m1.6 .6h0m8.5-.1h0m4.5-.6h0m9.2 .5h0m4.8-.2h0m47.7-.4h0m2.7 .3h0m-121.9 1h0m4.3-.2h0m13.2 .6h0m18.1 0h0m12.1-.6h0m15.9 .3h0m4.8-.1h0m26.5 .1h0m5.8-.3h0m4.6 .3h0m1.2 0h0m5.9 .2h0m-107.2 1.2h0m11.1-.3h0m16.9-.4h0m48.8 .2h0m6.4 .5h0m7-.2h0m14.9-.2h0m.3-.3h0m4.9 0h0m19.9 .1h0m-139.7 1.1h0m.4 .4h0m32.1-.3h0m12.1 .3h0m7.5-.4h0m14.1-.1h0m3.4 .6h0m3.5-.1h0m.9 0h0m8.4 .3h0m8.1-.7h0m15.6-.1h0m29.2 .1h0m6.7 0h0m.4 .4h0m-121.1 .3h0m1.5 .9h0m22.3 .1h0m1.9-.9h0m5.1 0h0m5.8 .5h0m12.6-.4h0m13.6 .5h0m10.5 .2h0m.8-.2h0m-80.8 .5h0m2-.2h0m.3 .1h0m32.6 0h0m9 .4h0m1.9-.1h0m5.5 .5h0m6.1-.5h0m2.8-.3h0m20.8 .7h0m11.6-.3h0m12-.4h0m16.1 .3h0m-133.5 1.4h0m16.5 0h0m9.6-.5h0m4.6 .5h0m3.9-.2h0m44.2 .1h0m10.4-.6h0m21.9 .3h0m3.5-.3h0m11.2 .5h0m9.6-.6h0m-131.3 1.9h0m10.9-.4h0m40.8 .3h0m5.7 0h0m51.8-.5h0m10 .4h0m-122.8 1h0m10.5-.6h0m41.7 .9h0m1.1 0h0m6.3-.3h0m9.5-.3h0m.2 .4h0m40.7-.3h0m9.1-.3h0m3.2 .1h0m6.3 .7h0m-127.1 0h0m22.1 .6h0m8.6 0h0m67.2-.4h0m16.9 .2h0m-92 1h0m24.6-.1h0m12.7 .6h0m19.4-.8h0m.3 .6h0m46.9 .2h0m-124.4 .6h0m1.7-.1h0m2.9-.3h0m6.8 .1h0m4.4 .7h0m4-.7h0m1.4 .2h0m32.6 .3h0m4.7-.2h0m7.3 .4h0m1.2 0h0m8.2 .1h0m22.6-.1h0m8.7-.1h0m25.1-.2h0m-123.6 1h0m3.5-.2h0m13.8 .2h0m7.3-.3h0m2.4 .7h0m9.4-.7h0m2.3-.2h0m6.1 .6h0m9.7 0h0m6.7 .1h0m16.6-.8h0m27.4 .2h0m2.8 .3h0m6.3 .3h0m1.5-.3h0m4.3-.4h0m-57.8 1.7h0m3.8 .2h0m27.2-.7h0m17.1 0h0m-118.9 1.6h0m24.3-.6h0m8.7 .2h0m16.9 .4h0m.2 .1h0m17.5-.9h0m2 0h0m20.8 .4h0m1.9 .4h0m.4-.2h0m20.8-.5h0m10.8 .7h0m-116.2 .9h0m8.6-.6h0m13.5 .5h0m28.5 0h0m2.3-.4h0m9.6 .5h0m12.4-.1h0m13.2 .2h0m2.1-.4h0m26.4-.3h0m9.8-.1h0m-139.2 1.8h0m4.3-.4h0m21.2 .3h0m7.2-.7h0m18.7 .7h0m1.1-.7h0m.5 .1h0m8 .3h0m21.8-.2h0m14.9 .1h0m5.7 .1h0m6.5 .1h0m.5 .1h0m9.1-.2h0m22.5 .4h0m-141.5 .8h0m4.9-.4h0m4.5 0h0m10.6-.1h0m1.9 .7h0m12.4-.1h0m5.5 0h0m6.6-.3h0m2.1-.3h0m44.5 .5h0m20.3-.4h0m16.2 .2h0m12.5 .2h0m-137.2 .4h0m20.9 .7h0m5.9 .1h0m6.3-.1h0m11.1 .1h0m20-.7h0m5.5 0h0m2.9 0h0m0 .1h0m5.2 .1h0m6.3-.2h0m8.1 .3h0m28.5-.4h0m1.6-.1h0m.5 .4h0m-106.7 1.2h0m11.4 .2h0m8.4-.8h0m37.3 .1h0m6.3 .3h0m25.6 .3h0m1.5-.1h0m15.1 .1h0m11.5 .1h0m-134.1 .8h0m27.4-.6h0m51 .9h0m3.1-.1h0m4.8-.1h0m2.1-.1h0m7 .1h0m9.4-.4h0m8.8-.1h0m9.4 .8h0m-113.4 .9h0m9.4-.5h0m1.8-.3h0m2.2 .7h0m8.9-.7h0m4.7 0h0m13.1 .6h0m17.1-.5h0m7 0h0m41.6 .7h0m3.8-.8h0m1 .7h0m-122.6 .5h0m6.8 .5h0m11.5-.2h0m20.5 .1h0m18-.1h0m2.3 .4h0m7.3-.9h0m4.3 .5h0m9.9-.4h0m12.7 0h0m.6 .6h0m.3 .2h0m4.1-.5h0m2.5-.4h0m5.8 .3h0m27.1 .1h0m-122.2 1.2h0m6.4-.2h0m19-.1h0m29.9 .1h0m12.5 .3h0m36.8-.6h0m-117.7 1.7h0m9.5-.3h0m50.7-.3h0m11.5 .1h0m1-.3h0m10.9 .5h0m3.8 .2h0m16.5-.5h0m.2 .2h0m4.7-.2h0m24.2-.1h0m9 .7h0m-142.5 .2h0m3.2 .4h0m10.2 .1h0m15 0h0m16.4-.2h0m13.5-.1h0m.5 .6h0m23.8-.6h0m6.9-.1h0m29.8-.2h0m22.7 .1h0m-110.3 1.4h0m8-.5h0m54.4 .2h0m5 .7h0m5.7-.3h0m-100.5 1.4h0m2 0h0m5.9-.1h0m28.5-.7h0m5 .1h0m8.5 .1h0m29.4 .1h0m2.8 0h0m.3-.3h0m4.2 .5h0m19.7-.4h0m4.4 .1h0m5.8-.3h0m3.6 .4h0m-109.2 1.3h0m7.6-.6h0m4.7 .1h0m2.1 .3h0m8.9 .2h0m16.6-.4h0m21.7-.1h0m10 .5h0m6.5-.7h0m9.3 .1h0m4.5 .4h0m4-.2h0m1.5 .5h0m11-.2h0m9.1-.6h0m-119.3 1.8h0m5.9 .1h0m12.9-.5h0m5.1 0h0m7.1 .4h0m32.5-.7h0m11.1 0h0m11.2 0h0m21.8 .5h0m15.9 0h0m.6-.1h0m1.7-.2h0m-133.7 .7h0m28.7 .5h0m12.4-.4h0m1.5 .2h0m6.9 .1h0m5.8 .1h0m35.2 0h0m5.9 .2h0m10.4-.6h0m20.1 .1h0m5.3 .5h0m.1-.1h0m-135.7 .8h0m9.4-.4h0m1.9 .8h0m27.3-.1h0m.2-.4h0m31.5 .2h0m3.4 .2h0m17.2 0h0m16.7-.7h0m4 .5h0m2.8 .1h0m10.2 0h0m2.5-.2h0m9.4 .1h0m-124 .9h0m.1-.5h0m28.9 .8h0m10.4 0h0m.1 .1h0m1.2-.5h0m3.8 .5h0m8-.8h0m1.9 .8h0m9.8-.4h0m31.8-.4h0m4.6 .6h0m18.3-.6h0m3.3 .7h0m-103 .5h0m51.2-.1h0m2.3 .1h0m6 .6h0m3.7-.8h0m3.7 .7h0m2.5 0h0m5.8-.1h0m4.3-.2h0m2.3 .4h0m21.4-.6h0m2 .1h0m-125.2 1.1h0m1.4 .1h0m3.4 .4h0m3.6-.5h0m2.3 .4h0m7.8-.5h0m3.7-.4h0m25.3 .6h0m13-.6h0m.8 1h0m7.5-.8h0m2.6 0h0m5.1 .5h0m7.9 .2h0m26.9-.1h0m2.3-.6h0m-124.1 1.3h0m10-.5h0m7.8 .9h0m45.7 0h0m11.4-.3h0m3 0h0m3.6-.5h0m14.2 .7h0m5.1 .1h0m8-.8h0m.4 .1h0m2.3-.2h0m4.7 .2h0m4.7-.1h0m15.5 .8h0m-140.3 .2h0m11.9 .4h0m16.3-.3h0m25.8 .8h0m4.5-.2h0m23.3-.3h0m14.8 .1h0m26.5-.4h0m1.1 .1h0m11.3-.1h0m4.6 .2h0m1.9-.3h0m-137.1 1.5h0m5.2-.2h0m13.3 .4h0m.6-.6h0m25.5-.1h0m9 .8h0m14.5-.8h0m18.4 .3h0m4.4 .2h0m11.6 .2h0m6.6-.4h0m9 0h0m-103.5 1.2h0m25.9-.3h0m5.5 .3h0m4.3-.3h0m1 .3h0m1-.5h0m15.9 .9h0m16.3-.5h0m15.3 .1h0m8 0h0m6.6 .1h0m7.6-.1h0m4.5-.4h0m5.5-.1h0m-129.9 1.8h0m23.6-.5h0m5.7-.2h0m5-.2h0m5.3 .9h0m18 .1h0m5.4-.1h0m2.8-.1h0m1.1-.5h0m1 .1h0m5.7 .4h0m4.9 0h0m2.2-.4h0m2.4 0h0m18.7-.3h0m30.4 .7h0m-132.9 .2h0m15.2 0h0m4.2 .5h0m25.6 .4h0m35.3-.6h0m17.7 .3h0m14-.3h0m14 .4h0m-131.2 .5h0m6.4 .1h0m45.5-.1h0m2.1 .7h0m21.4-.3h0m12.9 .3h0m53.7-.7h0m-136.6 1.4h0m.9-.3h0m6.5-.1h0m14.5-.1h0m4.4 .3h0m6.8 .1h0m7.1 .1h0m23.9-.1h0m15.7 .2h0m19.2-.2h0m2.4 0h0m5.2-.5h0m15.7 .5h0m7-.4h0m5.6-.1h0m-129.3 1.6h0m2.6-.1h0m10.3-.2h0m9.8 .2h0m2.6 .3h0m1.7-.4h0m2.1 .2h0m5.8 .3h0m9.2-.3h0m18.9 .2h0m11.9-.5h0m23.4-.2h0m7.3 .3h0m4.7 .5h0m14.3 0h0m-123.2 .7h0m11-.6h0m13.7 .6h0m2.5 0h0m4.7 .4h0m3.8-.2h0m21-.7h0m8.6 .6h0m.9 .1h0m31.3-.5h0m5.1-.1h0m15.4-.1h0m.7 .7h0m7.2-.3h0m-139.4 1.5h0m28.4-.4h0m1.2 .1h0m12.8-.5h0m7.1 .7h0m2.5-.9h0m3 .2h0m12.4 .8h0m10.6-.2h0m7.6 0h0m6.8-.3h0m.5 .3h0m2.2-.7h0m2 0h0m1.6 .7h0m26.4-.4h0m9.5 0h0m4.7 .3h0m2.7 .3h0m-133.9 .7h0m2.2-.6h0m6.5 .8h0m37.5 .1h0m.3-1h0m8.9 .6h0m5.1-.3h0m16.6 .2h0m.7-.2h0m13.2-.3h0m1.4 .3h0m-97.8 1h0m24.7-.3h0m32.2 .2h0m8-.2h0m32.1 .7h0m28.2-.3h0m13.2-.4h0m-131.3 1.2h0m4.8 .2h0m13.2-.1h0m8.1 0h0m18 .4h0m22.1-.2h0m8.3-.4h0m26.9-.1h0m14.9 .9h0m2.3 0h0m1.2-.1h0m8.9 0h0m-118.7 .5h0m13.3 .4h0m4.9-.7h0m4.8 1h0m8.9-.7h0m3.6 .3h0m24.6 0h0m17.1-.6h0m9.4 .7h0m32.5-.5h0m-122.1 1.6h0m1.1-.2h0m8.4-.1h0m3.5-.4h0m16.8 .2h0m5.5 .4h0m8.6-.4h0m10.4-.2h0m9.7 .3h0m17.2-.1h0m2.2-.1h0m1.2 .3h0m4-.3h0m6.6 .2h0m25.6 .1h0m-136.6 .9h0m8.3 .2h0m.3 .3h0m1.3-.3h0m22.3 .1h0m6.9 0h0m2.8-.6h0m3 .2h0m29.4-.3h0m7.8 .2h0m10.6 .2h0m6.4-.4h0m4.1 .7h0m.2 .1h0m4.9 .2h0m6.9-.7h0m2.2-.2h0m24.6 .3h0m-141.2 .8h0m3 0h0m12.5-.2h0m9.6 .8h0m1.4-.5h0m.8 .4h0m21.5 .3h0m17.5-.5h0m32.7 0h0m21.3 .2h0m8.5 .2h0m6 0h0m-136.8 .1h0m8.8 .4h0m8.4 .2h0m6.5-.2h0m2.1 .5h0m.3-.7h0m1.6 .5h0m.2-.4h0m6.2-.2h0m19.6-.1h0m17.4 .7h0m6.6-.1h0m2.8-.1h0m19.5 .3h0m3.5-.2h0m11.7-.1h0m15.1-.3h0m2.5-.1h0m.9 .5h0m8.3-.6h0m-130.8 1.3h0m24.4 .1h0m11.1 .5h0m.7-.1h0m12-.3h0m17.7-.2h0m10 .3h0m13.1-.5h0m11.6 .1h0m13.2 .1h0m15 .2h0m-136.8 .7h0m3.7 .7h0m12.1-.2h0m44.3-.6h0m20.1 .7h0m2.1 .1h0m7.7 0h0m7-.8h0m10.9 0h0m10.8-.1h0m.4 .5h0m11-.1h0m-119.3 .9h0m3-.1h0m7.5 .8h0m9.1-.7h0m13.5 .7h0m14.8-.3h0m31.3 0h0m12-.5h0m30.6 .4h0m5-.2h0m0-.3h0m-124.2 1.5h0m8.3 0h0m1-.6h0m.5 .1h0m23.5 .3h0m4.9 .5h0m22.6-.5h0m20.7 .2h0m42.7-.1h0m-136.3 .7h0m3.4 .4h0m.1 .4h0m4.9-.2h0m17.4-.3h0m9.2-.3h0m2.5 .5h0m.9 .3h0m13-.2h0m4.5-.5h0m20.1 .3h0m23.8 .4h0m7.8-.3h0m15.8-.4h0m5.1 .6h0m2-.1h0m-122.9 .2h0m4.1 .4h0m17.1 .2h0m3.1-.4h0m17.9 .5h0m2 .1h0m45.2-.6h0m22.7 .2h0m9.9 .5h0m-129.1 .8h0m14.6-.2h0m2.2 .1h0m2.3 .4h0m14.8-.4h0m1.4-.5h0m17.9 .1h0m11.2 .3h0m11.4 0h0m7.6-.2h0m4 0h0m5.6 .5h0m.3-.6h0m25.1 .7h0m-112.9 1h0m5.3-.1h0m4-.7h0m2.1 .1h0m7.9 .2h0m.1 .1h0m62 .2h0m7.6 .3h0m2.1-.3h0m11.2 .1h0m1.4-.6h0m6.2 .1h0m6.6 .4h0m10.5-.2h0m-128.1 1.1h0m3.3 .1h0m12.7-.4h0m11.8 .1h0m1.8 .4h0m3.3-.3h0m3.6 .2h0m2.1 0h0m1.2-.5h0m36.5 .7h0m16.1-.5h0m29.9 .3h0m.8-.3h0m-132.6 1.3h0m16.8 0h0m36.2-.7h0m3.6 .7h0m2.2-.6h0m41.2 .2h0m6.7 .3h0m10.5 .4h0m4.7-.9h0m15.3 0h0m.6 .1h0m4.2 .5h0m-137.8 .9h0m35.3-.2h0m5.1-.2h0m15-.1h0m4.9 0h0m6.3 .4h0m19.1 .3h0m2.4-.7h0m.8 .8h0m22.8-.8h0m13.9 0h0m-129.1 1.7h0m14-.1h0m15.7-.5h0m15.7 0h0m15.7 0h0m11.3-.1h0m28.7 .1h0m12.3 .6h0m.4-.6h0m10.7 .7h0m12.6-.2h0m4.9 .1h0m-138.2 .2h0m20.1 .6h0m18.7 0h0m3.3 .2h0m12-.1h0m1.2 .3h0m11.8-.8h0m3.2-.1h0m3.6 .3h0m8-.1h0m9.3 .4h0m.9-.1h0m10.4-.4h0m3.3 .4h0m23.8 .2h0m-132.2 .9h0m23.1-.2h0m42.1 .3h0m7.4-.1h0m7.5-.2h0m10.7 .3h0m12.5-.6h0m4.2-.1h0m15.6 .4h0m11.3 .2h0m2.4-.1h0m1.4 0h0m-138.9 1.4h0m1.1-.2h0m11.6-.8h0m2.8 .9h0m12.8-.1h0m4.4-.7h0m7.3 .6h0m1.4-.4h0m27.6 .5h0m11.4 0h0m3.7-.8h0m20.4 .1h0m7.2 .7h0m9.8-.7h0m.4 .9h0m8.5-.3h0m7-.4h0m4.6 .7h0m-138.4 .8h0m15.4-.1h0m1.7-.4h0m5.6 .6h0m10.8-.9h0m5.7 .9h0m19-.6h0m7.1 .1h0m32.7-.3h0m6.2 .5h0m-83.6 1.3h0m1.3 .1h0m7.5-.1h0m2.7-.6h0m17.7 0h0m1.3 .1h0m3.3 .4h0m10.4 .2h0m17.1-.7h0m1.7-.1h0m3.3 .1h0m1.1 0h0m8.7 0h0m29.5 .4h0m2.1 0h0m-107.6 1.2h0m.5-.7h0m10 .7h0m3.1-.3h0m8.9-.5h0m3.1 0h0m.4 .7h0m20.2 0h0m4.9-.1h0m12.8-.3h0m7.4 .3h0m32.7 .3h0m8.3-.1h0m-136 .3h0m3.4 .5h0m26.2-.1h0m18-.1h0m.8-.3h0m16.9-.1h0m14.1 .4h0m21.4-.5h0m19.7 .9h0m5.6-.6h0m9.7 .2h0m-133.3 1.1h0m15.7-.4h0m18.5 .3h0m.9 .2h0m6.7-.3h0m14.4 .1h0m4.3 .4h0m30.4-.5h0m12.1 .6h0m26.6-.7h0m2.7 .3h0m2.4-.4h0m-85.2 .8h0m7.9 .5h0m8.2-.1h0m.5 .4h0m12.8-.2h0m9 .2h0m46.3-.7h0m.7 .3h0m-129.7 1h0m8.2 .6h0m16.5-1h0m8.2 .5h0m9 .1h0m.1-.1h0m50.6-.4h0m13.2 .2h0m22.7 .4h0m-128.1 1.1h0m11-.3h0m20.9 .4h0m5.5-.6h0m1.2 0h0m6.2 .4h0m19.2 .1h0m8.4-.5h0m3.3 .1h0m11.3 .5h0m10.2 .1h0m1.4-.6h0m8.2 .1h0m16.5 .5h0m8.3-.3h0m-122.8 .6h0m4.9-.2h0m6.1 .8h0m2.5-.8h0m4.7 .5h0m12.4 .2h0m20.5-.6h0m8.4 .7h0m3.2 .1h0m26.5 0h0m7.2-.2h0m14.9 .1h0m-127.1 .5h0m14.7 .1h0m2.4 .2h0m.7-.3h0m48-.2h0m.1 .3h0m3.9 .1h0m5.6-.6h0m1.2 .6h0m2.1-.3h0m2.6-.1h0m-58.3 1.1h0m.8 .6h0m29.3 0h0m4.5-.9h0m2.3 .2h0m12.5 .6h0m.9 .1h0m.2 0h0m11.8-.1h0m11.4-.2h0m-99.2 1.1h0m10.6-.5h0m2-.1h0m9.8 .6h0m6.5 0h0m1.5-.1h0m16.7-.5h0m12.9 .8h0m37.9 0h0m.4 0h0m15 0h0m14.2-.6h0m8.8 .6h0m5.7-.2h0m-127.4 .4h0m15.7 .8h0m12.8 0h0m15.6-.4h0m39 .5h0m3.6-.3h0m.8 0h0m9.7-.1h0m3.5-.4h0m23.4 .4h0m-127.4 .6h0m5.8 .4h0m10.1-.1h0m10.4 .4h0m11.2-.8h0m25.6 .5h0m3.6-.2h0m0 .1h0m6.8-.1h0m21.4 .5h0m6.5-.6h0m-82.2 1.1h0m45.3-.4h0m1.5 .7h0m18-.1h0m13.4-.4h0m6.1 .6h0m24.7-.7h0m-136.8 1.8h0m13.6 .1h0m5.5-.9h0m5.3 .1h0m91.1 .4h0m0-.5h0m18.2 .4h0m.8 0h0m-125.3 1.4h0m3.4-.8h0m.4 .4h0m20.3-.1h0m4.4-.3h0m5.3 .6h0m18.3-.3h0m16.9 .5h0m11.5-.9h0m20.8 .2h0m2.2-.2h0m2.4 0h0m3.8 .7h0m17-.5h0m-137.5 1.2h0m25.8-.1h0m10.2 .5h0m4.5-.4h0m2.1-.1h0m28.9 .4h0m15.7-.1h0m8.7-.5h0m9.7 .8h0m28.2-.7h0m4.5 .1h0m3.7 .1h0m-139 1.1h0m3.9 0h0m5.1 .3h0m43.5 .2h0m10.2-.8h0m2.2 .2h0m.7-.1h0m1.8 .3h0m8.1 .1h0m10-.5h0m9.8 .3h0m6.9 .5h0m5.9-.4h0m20.3-.2h0m-132.1 .7h0m7.4 .8h0m.5-.8h0m3.4 .9h0m3.6-.2h0m2.5-.1h0m7.3-.3h0m42-.1h0m1.4 .6h0m9.9-.4h0m3.2-.2h0m34.8 .2h0m19.1 .3h0m4-.6h0m2.9-.1h0m-129.1 1.1h0m9.1-.1h0m19.7 0h0m85.2 .3h0" stroke="#e048e8"/>
<path d="M0 0m19.7-.8h0m41.8-.1h0m7.8 .2h0m-57 .5h0m5.3 .6h0m13.9-.9h0m5.9 .7h0m30.5-.3h0m22.6 .2h0m22.2 .3h0m10.5-.5h0m6.3-.1h0m-104.4 1.4h0m25.3 .1h0m4.3-.5h0m45.6 .3h0m-79.7 1.3h0m10.8 .1h0m37.8-1h0m-33.3 1.2h0m.5 .6h0m5-.6h0m11.4 .7h0m37.8-.8h0m5.3 0h0m4.5 .5h0m16.3-.5h0m17.4 .1h0m5.9-.1h0m-62.3 1.7h0m10.6-.1h0m21.4-.1h0m4.6-.4h0m17.2 0h0m-108.1 .9h0m32.3 .4h0m27.4 .4h0m.9-.5h0m11 .3h0m1.6-.2h0m19-.4h0m18.1 .9h0m-78.6 .5h0m2.8 .2h0m66.4-.7h0m-100.1 2h0m34.4-.6h0m4.4-.3h0m20 .9h0m14.4-.1h0m22.9 0h0m-105.5 .2h0m1.9 .1h0m44.5 .8h0m25.3-.6h0m19.3 .5h0m-83.9 .3h0m26.8-.1h0m5.1 .5h0m5.8-.3h0m17.9 .1h0m2.4 .1h0m43-.4h0m-60.5 1.9h0m35.3-.4h0m6.8 .1h0m21.9-.5h0m1.4 .2h0m1.2 .1h0m-111.6 1.3h0m19.5-.3h0m66.5 .3h0m-90 .7h0m50.7 .5h0m48.6-.4h0m15.4-.4h0m-118.2 1h0m.8-.1h0m21.5 .2h0m26.4 0h0m46.1 .6h0m23.2-.8h0m-102.4 1.5h0m24.6 0h0m36.3-.5h0m18.5 .1h0m26.8-.1h0m-111.9 1.6h0m8-.1h0m15.5-.1h0m16.4 .1h0m5.5 .2h0m2.9-.1h0m26.3-.6h0m-89 1.1h0m19.9 .1h0m1 .4h0m3.5 .2h0m28.9-.1h0m2.7-.5h0m16.6 .6h0m7-.6h0m36.6 0h0m19.3 .3h0m-135.9 .9h0m6.6-.3h0m7.2 .3h0m25 0h0m22.3-.2h0m13-.2h0m15.7 .5h0m11.2 0h0m9 0h0m14.6-.5h0m2.1 .7h0m-106.1 .3h0m16.3 .5h0m20.5-.2h0m77.8 .6h0m.8-.4h0m-141.4 1.2h0m2.8-.2h0m11.2-.6h0m4.1 .5h0m1.5 .2h0m85.1-.6h0m29.7 .1h0m7.6 .6h0m-100.4 .2h0m45.8 .5h0m45.6 .4h0m7.4-.6h0m-128.8 1.5h0m11.2-.7h0m28.7 .1h0m25.6 0h0m7.7 .1h0m35.6-.2h0m-88.5 1.6h0m33.8-.7h0m18.3 .4h0m43.7 .4h0m-120.1 .9h0m9.8 .1h0m7.9-.5h0m1.8-.2h0m24.3 .1h0m6-.1h0m-37.5 1.6h0m33.7-.4h0m56.8 .1h0m15.6 .4h0m-110.3 .6h0m46.6 .4h0m17.3 .1h0m13.2-.8h0m4.5 .3h0m0-.2h0m31.8 .6h0m11.9 0h0m-82.3 1.2h0m11.8-.9h0m39.8 .4h0m17.3 .2h0m-76.9 .7h0m31.5 .4h0m2.4-.3h0m-69.7 .8h0m4 0h0m10.4 .5h0m6.4-.2h0m5 .3h0m49.1-.9h0m23.5 .9h0m-111.4 1h0m21.2-.4h0m17.2 .1h0m13.3 .1h0m4.9-.1h0m38.4 0h0m12.2-.5h0m15.1 .6h0m3.1 .2h0m-118.6 .2h0m10.3 .1h0m52.1-.2h0m51 .8h0m8.4-.6h0m3.3-.2h0m4.7 .6h0m1.7 .1h0m-133.3 1h0m24.6-.1h0m7.5-.2h0m13.7-.2h0m40.2 0h0m4.2 .6h0m12.9-.6h0m23.8 0h0m-114.2 1.7h0m27 0h0m10.7-.7h0m12-.1h0m-66.1 1.7h0m14.9-.5h0m10.5-.2h0m49.8 0h0m9.5 .2h0m2.3 .7h0m-34.6 .9h0m3.4-.5h0m36.4 .4h0m11.4-.2h0m9.1-.4h0m3.2-.2h0m20.6 .5h0m-139.4 1.5h0m46.4-.3h0m23.6-.6h0m22.9 .3h0m.1-.3h0m10.8 .1h0m30.5 .7h0m7.7 .1h0m-142.7 .6h0m121.7 .1h0m20.3-.1h0m-74.4 1.1h0m.2 0h0m4.6-.1h0m18-.4h0m20.1 .3h0m3.5 .3h0m24.6-.6h0m-75.4 1.2h0m10.2 .4h0m13.1-.3h0m-56.5 .7h0m1.7 .2h0m47-.3h0m27.4 0h0m15.4 .5h0m14.5-.1h0m3.6 .5h0m-125.3 .5h0m29.5 .2h0m58.4-.5h0m-94.6 1.1h0m31.2 .7h0m4.8-.8h0m89.2 .6h0m-106.6 .9h0m30.1-.6h0m38.2 .6h0m2.8-.4h0m7.7 .2h0m5.3 .4h0m8.5-.7h0m12.8 .2h0m-106 .6h0m8.5 .1h0m8.3 .4h0m-21.1 1.2h0m19.9-.2h0m4-.1h0m5.6 .3h0m56.6-.1h0m11.8 .1h0m13.6 .2h0m-131 .7h0m38-.3h0m25.1 .5h0m8.3-.7h0m23.1 .1h0m5.6 .5h0m4.9-.3h0m15.5 .4h0m-101.2 .6h0m11.6 0h0m1-.1h0m75.3 .4h0m25 .2h0m1.6-.1h0m-117.3 1h0m32.7 .2h0m19.8-.4h0m35.3 .1h0m16-.2h0m6.4 0h0m-107.5 1h0m20.2 .1h0m-26.1 .9h0m3.1 .4h0m35.5-.3h0m42.7-.6h0m-86.2 1.2h0m22.5 .8h0m30.9-.1h0m7.3-.8h0m3.9 .6h0m8.8-.2h0m1.6-.1h0m1 .3h0m3 0h0m-76.1 .3h0m4.9 .4h0m16.5-.3h0m96.9 .5h0m1.8 .2h0m-69.1 .2h0m44.3 .3h0m6.9-.3h0m9.7 .1h0m3.1 .1h0m-96 1.2h0m47.6-.2h0m-57.9 1.6h0m44.4-.4h0m18.6 .3h0m1.1-.3h0m3.1-.3h0m35.6 .3h0m-72.4 1.2h0m19.5 .1h0m11.6-.5h0m1.4-.1h0m3.2 .6h0m36-.5h0m1 .7h0m-95.5 .2h0m-26.2 1.5h0m14.6-.2h0m10.5 0h0m4.4-.1h0m1.1 0h0m1.8-.3h0m63.5 .2h0m1.1 .8h0m-47 .9h0m-21.2 .4h0m56 .6h0m41.4-.7h0m9.2-.2h0m-113.4 1.2h0m12 .5h0m81.2-.2h0m2.4-.3h0m2.2 .5h0m16.6-.3h0m-125.1 .9h0m6.3 .5h0m19.1 0h0m15.6-.8h0m10.2 .9h0m21.4-.8h0m.3 .4h0m1.6 .1h0m26.3-.4h0m13.7 .6h0m-121.8 .8h0m25.4-.5h0m56.5-.1h0m16.1 .3h0m10.8 .1h0m15.2 .2h0m.9-.2h0m-72.9 .9h0m10.1 .4h0m4 .3h0m32.5-.9h0m31.6 .1h0m-119.1 1.5h0m40.4-.6h0m23 .8h0m9.3-.6h0m15.4 .6h0m4.5-.6h0m-91.9 1.3h0m60.2-.6h0m6.5 .2h0m44.3 .2h0m-125.1 .8h0m42.3 .6h0m14.8-.8h0m22.7 .8h0m49.1 .1h0m3-.4h0m-131.3 1.5h0m40-.7h0m12.3-.2h0m29.7 .5h0m17.4-.4h0m-85.7 1.4h0m31.7-.3h0m18.9 .1h0m8.6 .2h0m11.4-.4h0m28.1-.1h0m-102.9 1.7h0m20.4-.2h0m5 .3h0m16.2-.8h0m44.3 .1h0m7.6 .2h0m-104.4 1.4h0m46.9 0h0m8.1-.6h0m16.9 .8h0m52.5-.4h0m5.5-.1h0m4.8 .1h0m-80.3 1.3h0m11.4-.3h0m10 .1h0m8.2-.1h0m-57.9 1.1h0m2.1-.3h0m32.1 .4h0m4 0h0m.9 0h0m53.7 .2h0m13.7-.2h0m-136.7 .8h0m30.5-.4h0m43.6 0h0m18.7 .7h0m1.5-.4h0m7.8-.2h0m14.1 .3h0m25.8 0h0m-111.9 .8h0m12.8 .5h0m16.3-.7h0m14.9 0h0m23.8 .7h0m-95.1 .3h0m52.2 0h0m9.5 .5h0m38 .1h0m14.8 .2h0m-65.5 .5h0m2.2-.1h0m39.9 .2h0m10.9 .4h0m2.5-.3h0m24.2-.1h0m2.1 .2h0m-94.4 1.2h0m56.4-.5h0m19.4-.2h0m3-.2h0m-117.3 1.5h0m18.1-.4h0m14.4-.1h0m39.5 .3h0m68.9 .4h0m1.1-.2h0m-98.6 .5h0m16.5 .1h0m9.6 .2h0m52.8-.1h0m-118.3 .9h0m11.9 .3h0m3.8 .4h0m15.7-.7h0m.5 0h0m.9 .6h0m11.9 0h0m17.8-.5h0m7.2 .5h0m3.3-.1h0m25.7 .1h0m15.8 .2h0m-93.3 .2h0m28.2 .7h0m8.6-.1h0m2.8-.3h0m19.2-.2h0m4 .2h0m-74 .8h0m35 .7h0m45.2-.9h0m4.6 .2h0m7.3-.3h0m-66.6 1.2h0m10.9 .5h0m8.4-.1h0m1.4-.4h0m10.9 .3h0m34.7 .4h0m16.8-.6h0m-92.8 .9h0m5.7 .7h0m50.9-.7h0m32 .4h0m1.2 .3h0m15.4-.7h0m-133.7 1.7h0m1.5 0h0m8.6-.8h0m15.4-.1h0m17 .3h0m50.1-.3h0m6 .3h0m-70.3 1.5h0m1.9-.3h0m13.4-.5h0m56.9 .3h0m5.6 .6h0m20-.4h0m-96.3 1.2h0m42.6 0h0m13.9-.4h0m1.3-.1h0m-69.4 1.1h0m3.8 .7h0m11.7-.3h0m7.6-.1h0m25.3-.3h0m11.5 .2h0m4.9-.3h0m5.6 .6h0m40.5 .1h0m-37.9 .3h0m.1 .4h0m16.9 .1h0m-85 .7h0m.4 .5h0m19.6 0h0m54.3-.8h0m-82.2 1.3h0m25.7 .1h0m82.6-.5h0m-121.5 1.5h0m27.4 .2h0m15.6-.3h0m-11.5 .6h0m14.7 .9h0m9.5-.4h0m23.3-.2h0m-36.8 1.3h0m10.1 .1h0m27.5-.2h0m45.9 .1h0m2.7 .3h0m-130.4 .3h0m16.4 .5h0m25.8-.6h0m6.9 .3h0m10.6 .6h0m21.5-1h0m22.8 .9h0m16.7-.2h0m-73.6 1.1h0m7.8-.3h0m9.4-.5h0m35 .2h0m13.2-.2h0m-108.2 1.5h0m14.1 .2h0m15.6-.4h0m26.2 .3h0m7.8 .2h0m51.7-.6h0m-108.7 1.1h0m5.3 .6h0m13.9-.9h0m5.9 .7h0m30.5-.3h0m22.6 .2h0m22.2 .3h0m10.5-.5h0m6.3-.1h0m-74.8 1h0" stroke="#9444ff"/></g></pattern><pattern id="t2" href="#t1" x="77" y="270"/></defs>
<filter id="bl" x="-5%" y="-5%" width="110%" height="110%"><feGaussianBlur stdDeviation=".45"/></filter>
<g filter="url(#bl)">
<rect x="30" y="25" width="142" height="196" fill="url(#t1)"/>
<path d="M0 0m49.3 29.5h0m91.5 .5h0m-75.1 2.2h0m-4 .7h0m2 1.1h0m71.6 .3h0m31.6 .8h0m-39.3 2h0m-46.4 1.2h0m-22.5 .2h0m4.2 1h0m39.2 .9h0m58.4-.2h0m-60.1 1.6h0m66 .1h0m-118.8 1.3h0m95.1 1.3h0m-58.5 2.2h0m69.8 .8h0m-69.4 1.4h0m2.4 2.3h0m40.2 1.1h0m-57.4 1h0m80.1-.1h0m-56.8 .7h0m33.4 .5h0m-35.2 .8h0m27.7 .7h0m-85.2 1.6h0m134.2 .4h0m-2 .8h0m-16.8 1.6h0m2.1-.6h0m-67.9 2.3h0m81.8 .6h0m-51.5 9.5h0m27.6 2.7h0m-43.7 1.9h0m49 3.1h0m11.3 1.2h0m-57.2 .9h0m6.1 .5h0m29.7 2.1h0m17.7-.6h0m-93.1 2h0m52.1 .5h0m-63.5 1.3h0m12-.1h0m52.5 .7h0m-69.3 1.2h0m75.1 0h0m-73.9 1.9h0m53.3-.5h0m62.9 1.7h0m-70.2 4.5h0m2.2 .2h0m23.6 .8h0m-32.5 .7h0m16.1-.1h0m24.8 2.5h0m9.4-.1h0m-60.1 .6h0m11.1 2.3h0m73.9 1.4h0m-112.4 2.3h0m89.8 3.4h0m-15.3 1.2h0m4.4-.7h0m-76 4.2h0m-1.7 1.3h0m0 6.3h0m4.3-.2h0m51.2 .2h0m-54.2 1.7h0m61.9 2.1h0m12.5-.1h0m-11.3 2.3h0m-53.9 4.5h0m18.5 2h0m15.4 .4h0m-41 1.8h0m4.3 .5h0m84.6 4.8h0m-20.9 1.1h0m11.4 1h0m2.1-.7h0m7.3 .8h0m-97.5 1.1h0m20.7 .6h0m-12.5 .7h0m-11 10.1h0m90.6 .9h0m-55.2 1.7h0m46.7 .1h0m34.2 1.5h0m-12.9 1.1h0m-46.1 .6h0m-26.4 3.6h0m55.3 3.4h0m-9.2 .9h0m24.3 6.7h0m-70.7 2.9h0m89.7 .1h0m-126.4 1.1h0m2.2 .2h0m94-.3h0m-97 1.2h0m68.3 1.1h0m-67.9 2.2h0m.1 2.2h0m30.7 1.2h0m9.5 4.5h0m68.8 1.8h0m-93.9 2.5h0m79.7 1.1h0m11.1-.3h0m-44.1 2.2h0m42.7-.5h0m6.4 1h0m-1.8 1.3h0m9.1-.1h0m-98.8 5.2h0m80.9 .2h0m17.3 4.8h0m-98.3 6.1h0" stroke="#125c3c" stroke-width="3.2" stroke-linecap="round" fill="none"/></g>
<g filter="url(#bl)"><rect x="30" y="237" width="142" height="196" fill="url(#t2)"/>
<path d="M30 236L30 251.0L36 250.2L42 249.4L48 248.7L54 248.0L60 247.4L66 246.9L72 246.4L78 245.9L84 245.5L90 245.1L96 244.8L102 244.5L108 244.3L114 244.2L120 244.1L126 244.0L132 244.0L138 244.0L144 244.1L150 244.3L156 244.5L162 244.7L168 245.0L172 236Z" fill="#fff"/>
<path d="M0 0m106.2 244.4h0m18.7-.6h0m-31.9 1.1h0m11-.1h0m7.3 .3h0m16.5-.3h0m3.9 .3h0m10.8-.1h0m10.8 0h0m-81.2 1.2h0m7.3-.5h0m14.9 0h0m1.9 0h0m2.5 .8h0m8.7-.4h0m26.8-.5h0m3.5 0h0m2.6 .5h0m-70.5 .7h0m1.5 .6h0m12.7 .1h0m5.1-.8h0m9.4 .4h0m13.8-.1h0m23.8 .5h0m19.7-1h0m9.3 .6h0m-97.6 1h0m4.1 .3h0m13.3-.6h0m10.5 0h0m6.7 .4h0m5.4 .1h0m1.3-.2h0m3.3 0h0m4.6 .4h0m18-.8h0m8.2-.1h0m4.1 .1h0m2.6 .6h0m-86.7 1.1h0m90.9-.7h0m9.8 0h0m-115.9 .8h0m18.7 .5h0m9.8-.1h0m8.4 0h0m.4-.3h0m2.9 .5h0m1.3-.3h0m21 .5h0m7.7 0h0m-82.2 .3h0m11.4 .5h0m2.1-.5h0m29.1 0h0m3.7 .1h0m-19.5 1.2h0m10.3 .4h0m1.8 .1h0m11.1-.7h0m8.8 .4h0m5.9-.2h0m7.8-.3h0m19.3 .2h0m-94 1.5h0m3.2-.7h0m3.9 .2h0m2.2 .4h0m2.1-.6h0m49.5 0h0m2.9 .2h0m10.4-.2h0m21.4 0h0m32.8 .8h0m-127.4 .4h0m36.8 .1h0m27.1-.3h0m3.1 .2h0m4.9 .6h0m24.4-.4h0m-52.5 1.2h0m33.1-.3h0m4.1 .3h0m52.6-.1h0m-131.5 .6h0m28.6 .4h0m27.4-.5h0m15.7 .8h0m1.2-.4h0m20-.4h0m-74.1 1.8h0m24.1-.4h0m25.3 .1h0m63.5 .2h0m-130.8 .4h0m4 .4h0m40.2-.4h0m15.2 .4h0m2.2 .2h0m31.1-.6h0m29.5 .2h0m-127.4 1.5h0m35-.3h0m22.9-.1h0m16.6 .2h0m-37.4 .6h0m19.1 .7h0m37.5-.9h0m-72.8 1.1h0m93.9 .3h0m18.1 .5h0m-88.6 .7h0m22.6 .2h0m64.3-.3h0m4.3-.5h0m-131.4 1.5h0m27.5 0h0m21.8 .1h0m9.6 0h0m28.8 0h0m41.8-.6h0m2.2 .2h0m-107.7 1.1h0m22.4-.2h0m21.2 .8h0m4.1-.3h0m1.4-.2h0m-59.7 1.4h0m19.6 .3h0m37.7 .5h0m12.1-.5h0m41.7 .6h0m3.8-.5h0m-47.4 1h0m12.6 .6h0m-79.5 .1h0m21.8 .1h0m89.5 .7h0m2-.8h0m-89.5 1.1h0m51.1 .6h0m13.9-.3h0m-73 2.1h0m92 0h0m3.3-.2h0m-99 1.6h0m85.3-.8h0m-91 1.5h0m42.3 .2h0m5.2-.2h0m61.3 .1h0m-8.2 .5h0m-62.7 1.7h0m67.6-.8h0m-105.2 1.6h0m79-.4h0m24.2-.2h0m-120.2 1.7h0m4-.6h0m15 .4h0m103.6-.5h0m-117.1 1.6h0m14.9-.3h0m2.2 .3h0m65.3-.1h0m41.1-.4h0m-128.1 1.7h0m57.3-.5h0m69.5 .6h0m-27 .2h0m25.6 .6h0m-16.9 .9h0m-79.3 .5h0m44.2 .2h0m-70.3 1.3h0m56.3-.2h0m2.2-.3h0m-18.7 .8h0m24.2 0h0m-66.8 1.6h0m9.6-.2h0m21.2-.2h0m18.2 0h0m54.8 .4h0m-91 1h0m9.5-.3h0m13 .5h0m-5.6 .2h0m42.9 .3h0m11.4 .5h0m-82.1 .2h0m77.7 .2h0m6.4 .5h0m31.8-.4h0m-75.1 1.1h0m-17 1.6h0m55 .3h0m-58.6 .7h0m30.7 1h0m30-.9h0m6.7 .4h0m12.3-.5h0m22.4 .1h0m-58 1.4h0m.1-.3h0m27.2 .4h0m15.3 .3h0m7.5-.4h0m-125.4 1.5h0m47.8 0h0m30.1-.6h0m.1-.1h0m-43.1 .7h0m-32.9 1.2h0m27.8 .1h0m6.7 .3h0m79.2 1.2h0m10-.3h0m-123.2 .7h0m35.3 0h0m28.4-.2h0m26.5 .8h0m-67.7 .5h0m14.9-.2h0m60.8 .5h0m30 0h0m-108.3 2.4h0m35.1-.2h0m38.1-.3h0m-94.4 1h0m4.7 .1h0m11.6 .2h0m-7.9 .3h0m10 .4h0m71.6-.3h0m-83.4 1.1h0m13.6-.1h0m69.5 1.1h0m33 2.4h0m-114 1.2h0m68.1-.1h0m-37.5 .7h0m.9 0h0m86.1-.3h0m-114.4 1.4h0m35.4-.4h0m-1.3 1.8h0m54.6-.1h0m-101 .4h0m13.7 0h0m107.6-.2h0m-35.2 1.5h0m14 .3h0m-93.4 .8h0m24.3-.2h0m10 .5h0m-4.8 .4h0m22.8 .2h0m50.7 .1h0m-56.7 .4h0m8.9 .1h0m11.8 .7h0m10.4-.2h0m1.6-.3h0m-45 .8h0m18.5 .6h0m17.8-.3h0m.7 .5h0m2-1h0m44.8 .9h0m-26.3 .4h0m34.4 .4h0m-25.8 .8h0m23.9 2.3h0m.4-.5h0m-123.2 1.8h0m65.5 .6h0m18.5 .1h0m-85.9 .3h0m79.3 .3h0m6.6 1.6h0m-78.5 .2h0m73.6 4.8h0m42.5 .2h0m-8.9 1.6h0m-115.1 1h0m75.8-.8h0m41.2 1h0m-4.8 .7h0m-64.1 .8h0m43.1 0h0m-73.7 1h0m40.9 .3h0m3.2-.1h0m50.1 .1h0m-87.8 1.1h0m32.7 .1h0m16.7-.4h0m6.4-.2h0m11.1 .2h0m-78.3 .5h0m9.3 .5h0m61.8-.5h0m8.3 .7h0m16.6 .2h0m-112.9 .7h0m.3-.4h0m93.9 .2h0m-76.6 .6h0m33.3 .8h0m-49.7 .4h0m11.6 .8h0m96.6 .7h0m-58.7 .3h0m77.1 .8h0m-106.7 .4h0m42.1 .3h0m-40.6 1.4h0m32.4 .3h0m59-.1h0m15.6 .1h0m-76.7 1.5h0m3.6 .1h0m18.5-.6h0m37-.2h0m.2 .4h0m-57.4 1.3h0m17.8-.1h0m28.2 .2h0m-92.9 .6h0m4.9 .6h0m18.1 .7h0m8.3 .1h0m15.7-.8h0m-21.9 1.4h0m-12.3 1.4h0m6.2-.5h0m12.4 .7h0m82.1 .4h0m-1.8 1.2h0m-19.1 .4h0m-51.1 1.3h0m43.9 .3h0m5.9 3h0m36.6-.6h0m-130.6 1.3h0m20.3 .1h0m29.7 .4h0m10.8 0h0m7 .1h0m49.6-.6h0m-3.9 .9h0m-92 1.1h0m29.5 .5h0m-38.4 1h0m35.7-.4h0m-40 1.9h0m65.3 .1h0m-72.2 .7h0m41.1 1.9h0m62 .5h0m-42.4 1.4h0m42.4 .8h0m-77.1 1.7h0m8.8 .3h0m53-.5h0m18 .5h0m-94 1.2h0m22.1-.8h0m29.6 .7h0m3.5-.7h0m20.7 1.3h0m3.3-.5h0m-47.9 2.6h0m1.4 1.7h0m65.6 .6h0m-41 .4h0m7.6-.2h0m-24.9 1.1h0m19.1 .4h0m4.6 .3h0m41.1 1h0m-113.6 1.7h0m72.7 .3h0m39.5-.2h0m11.9 .9h0m-60.6 .7h0m37.7 .6h0m-34.3 1.6h0m35.8 0h0m-33.7 .7h0m-48.4 2.4h0m2.6-.5h0m18.5 0h0m39.5 .7h0m8.5-.4h0m6.5 .4h0m14.6-.3h0m-89.2 1.1h0m43.9-.3h0m57.5 0h0m-107.6 1.7h0m-27.6 1h0m2.2-.4h0m131.6-.6h0m-110.8 1.7h0m5.3 .2h0m37.4-.2h0m54.1-.3h0m-99.6 .7h0m-1.9 1.2h0m93.7 .8h0m-110.8 1.4h0m11.3-.3h0m56.2 .1h0m58.4 .6h0m-118.6 .1h0m70.6 .5h0m35.9 .7h0m13.2 .7h0m-78.8 5h0m36.4-.7h0m-37.5 1.2h0m-40.6 2.1h0m64.1 0h0m1.4 1.3h0m2.2 0h0m-1.2 1.1h0m-43.6 1h0m17.3-.9h0m59 .6h0m25.6-.3h0m6.5 1.6h0m-11.9 .8h0m-22.7 .5h0m9.1 .8h0m-54.1 1.1h0m52.8 .7h0m-39.3 1.1h0m27.8-.3h0m17.8-.6h0m-68.9 1.3h0m-44.7 1.1h0m115.4 .7h0m-88.2 1.4h0m1.7 .3h0m85-.1h0m-116 .7h0m34.5 .5h0m63.3 .4h0m-89.6 .9h0m24.5 0h0m12.8-.1h0m-12.8 1.1h0m72.2 .3h0m-59.9 .8h0m66.9 .5h0m-106.6 .6h0m100.9-.1h0m14.5 .5h0m8.9 0h0m-96.2 1.7h0m70.9-.4h0m-100.2 1.9h0m1.2-.7h0m99.8 .1h0m-70.1 .6h0m11.6 .3h0m15.8 .9h0" stroke="#125c3c" stroke-width="3.2" stroke-linecap="round" fill="none"/></g>
<rect x="28.5" y="23.3" width="144.8" height="199.4" fill="none" stroke="#38e838" stroke-width="3.4" stroke-dasharray="7.6 2.75"/>
<rect x="28.7" y="235.1" width="144.7" height="199.6" fill="none" stroke="#6a34fa" stroke-width="3.4" stroke-dasharray="7.6 2.75"/>
<rect x="105" y="10" width="69.3" height="6.3" fill="#000"/>
<text x="1" y="20.6" font-size="25.5" stroke="#000">a</text>
<text x="219.3" y="20.6" font-size="25.5" stroke="#000">b</text>
<rect x="140.8" y="196.3" width="30.5" height="25" fill="#fff" stroke="#000" stroke-width="1.6"/>
<text x="146.3" y="214.4" font-size="16" stroke="#000">#1</text>
<rect x="140.8" y="408.3" width="30.5" height="25" fill="#fff" stroke="#000" stroke-width="1.6"/>
<text x="146.3" y="426.4" font-size="16" stroke="#000">#2</text>
<polygon points="137.4,321.5 147.8,278.7 151.1,279.4 148.5,267.5 140.8,276.9 144.0,277.7 133.6,320.5" fill="#f01820"/>
<text y="458" font-size="16" stroke-width=".8" style="stroke-width:.8px" stroke="#000"><tspan x="20" fill="#38eaea" stroke="#38eaea">O</tspan><tspan x="42" fill="#a030ff" stroke="#a030ff">Li</tspan><tspan x="64.5" fill="#18ee18" stroke="#18ee18">Ni</tspan><tspan x="90" fill="#2020ee" stroke="#2020ee">Co</tspan><tspan x="120.3" fill="#b4f030" stroke="#b4f030">Mn</tspan><tspan x="152" fill="#0e6a2c" stroke="#0e6a2c">OH</tspan><tspan font-size="11" dy="3.5" fill="#0e6a2c" stroke="#0e6a2c">x</tspan></text>
<path d="M281.5 207.5H715.9800000000001" stroke="#2c3844" stroke-width="1.25" fill="none"/>
<path d="M318.4 207.2v3.4M354.5 207.2v6.6M390.6 207.2v3.4M426.7 207.2v6.6M462.8 207.2v3.4M498.8 207.2v6.6M534.9 207.2v3.4M571.0 207.2v6.6M607.1 207.2v3.4M643.2 207.2v6.6M679.3 207.2v3.4M715.4 207.2v6.6" stroke="#223442" stroke-width="1.3" fill="none"/>
<path d="M282.3 53.0V213.79999999999998" stroke="#000" stroke-width="1.7" fill="none"/>
<path d="M282.3 53.7h-6.8M282.3 111.2h-6.8M282.3 168.7h-6.8" stroke="#000" stroke-width="1.5" fill="none"/>
<path d="M282.3 93.9h-3.7M282.3 83.8h-3.7M282.3 76.6h-3.7M282.3 71.0h-3.7M282.3 66.5h-3.7M282.3 62.6h-3.7M282.3 59.3h-3.7M282.3 56.3h-3.7M282.3 151.4h-3.7M282.3 141.3h-3.7M282.3 134.1h-3.7M282.3 128.5h-3.7M282.3 124.0h-3.7M282.3 120.1h-3.7M282.3 116.8h-3.7M282.3 113.8h-3.7M282.3 198.8h-3.7M282.3 191.6h-3.7M282.3 186.0h-3.7M282.3 181.5h-3.7M282.3 177.6h-3.7M282.3 174.3h-3.7M282.3 171.3h-3.7" stroke="#000" stroke-width="1.1" fill="none"/>
<text x="269.8" y="58.1" font-size="12.3" text-anchor="end" stroke="#000">1</text>
<text x="269.8" y="115.6" font-size="12.3" text-anchor="end" stroke="#000">0.1</text>
<text x="269.8" y="173.1" font-size="12.3" text-anchor="end" stroke="#000">0.01</text>
<text x="282.1" y="229.0" font-size="12.6" text-anchor="middle" stroke="#000">12</text>
<text x="354.3" y="229.0" font-size="12.6" text-anchor="middle" stroke="#000">14</text>
<text x="426.5" y="229.0" font-size="12.6" text-anchor="middle" stroke="#000">16</text>
<text x="498.6" y="229.0" font-size="12.6" text-anchor="middle" stroke="#000">18</text>
<text x="570.8" y="229.0" font-size="12.6" text-anchor="middle" stroke="#000">20</text>
<text x="643.0" y="229.0" font-size="12.6" text-anchor="middle" stroke="#000">22</text>
<text x="715.2" y="229.0" font-size="12.6" text-anchor="middle" stroke="#000">24</text>
<path d="M281.5 407.8H715.9800000000001" stroke="#000" stroke-width="1.5" fill="none"/>
<path d="M318.4 407.5v3.4M354.5 407.5v6.6M390.6 407.5v3.4M426.7 407.5v6.6M462.8 407.5v3.4M498.8 407.5v6.6M534.9 407.5v3.4M571.0 407.5v6.6M607.1 407.5v3.4M643.2 407.5v6.6M679.3 407.5v3.4M715.4 407.5v6.6" stroke="#223442" stroke-width="1.3" fill="none"/>
<path d="M282.3 251.70000000000002V414.1" stroke="#000" stroke-width="1.7" fill="none"/>
<path d="M282.3 252.4h-6.8M282.3 309.6h-6.8M282.3 366.8h-6.8" stroke="#000" stroke-width="1.5" fill="none"/>
<path d="M282.3 292.4h-3.7M282.3 282.3h-3.7M282.3 275.2h-3.7M282.3 269.6h-3.7M282.3 265.1h-3.7M282.3 261.3h-3.7M282.3 257.9h-3.7M282.3 255.0h-3.7M282.3 349.6h-3.7M282.3 339.5h-3.7M282.3 332.4h-3.7M282.3 326.8h-3.7M282.3 322.3h-3.7M282.3 318.5h-3.7M282.3 315.1h-3.7M282.3 312.2h-3.7M282.3 406.8h-3.7M282.3 396.7h-3.7M282.3 389.6h-3.7M282.3 384.0h-3.7M282.3 379.5h-3.7M282.3 375.7h-3.7M282.3 372.3h-3.7M282.3 369.4h-3.7" stroke="#000" stroke-width="1.1" fill="none"/>
<text x="269.8" y="256.8" font-size="12.3" text-anchor="end" stroke="#000">1</text>
<text x="269.8" y="314.0" font-size="12.3" text-anchor="end" stroke="#000">0.1</text>
<text x="269.8" y="371.2" font-size="12.3" text-anchor="end" stroke="#000">0.01</text>
<text x="282.1" y="429.3" font-size="12.6" text-anchor="middle" stroke="#000">12</text>
<text x="354.3" y="429.3" font-size="12.6" text-anchor="middle" stroke="#000">14</text>
<text x="426.5" y="429.3" font-size="12.6" text-anchor="middle" stroke="#000">16</text>
<text x="498.6" y="429.3" font-size="12.6" text-anchor="middle" stroke="#000">18</text>
<text x="570.8" y="429.3" font-size="12.6" text-anchor="middle" stroke="#000">20</text>
<text x="643.0" y="429.3" font-size="12.6" text-anchor="middle" stroke="#000">22</text>
<text x="715.2" y="429.3" font-size="12.6" text-anchor="middle" stroke="#000">24</text>
<clipPath id="c1"><rect x="280" y="40" width="440" height="166.9"/></clipPath><clipPath id="c2"><rect x="280" y="240" width="440" height="167.2"/></clipPath>
<polyline clip-path="url(#c1)" points="282.3,206.5 282.6,210.2 282.9,206.5 283.7,206.5 284.0,210.2 284.6,210.2 284.9,206.5 285.2,210.2 285.5,206.5 285.8,210.2 286.3,210.2 286.6,206.5 286.9,210.2 287.5,210.2 287.8,206.5 288.1,210.2 288.7,210.2 288.9,206.5 290.7,206.5 291.0,210.2 291.3,210.2 291.5,206.5 291.8,206.5 292.1,210.2 292.7,210.2 293.0,206.5 293.3,206.5 293.6,210.2 293.8,206.5 294.1,210.2 294.4,210.2 294.7,206.5 295.3,206.5 295.6,210.2 295.9,206.5 297.3,206.5 297.6,210.2 297.9,206.5 298.8,206.5 299.0,210.2 299.9,210.2 300.2,206.5 300.5,206.5 300.8,210.2 301.1,210.2 301.4,206.5 302.2,206.5 302.5,210.2 302.8,206.5 303.7,206.5 304.0,210.2 304.2,206.5 304.5,210.2 304.8,206.5 305.1,210.2 305.7,210.2 306.0,206.5 306.3,206.5 306.6,210.2 306.8,196.4 307.1,206.5 307.4,206.5 307.7,210.2 308.0,210.2 308.3,206.5 308.6,210.2 308.9,210.2 309.2,206.5 309.4,210.2 310.3,210.2 310.6,206.5 310.9,210.2 311.2,206.5 311.5,196.4 311.7,210.2 312.0,206.5 312.3,210.2 312.6,210.2 312.9,196.4 313.2,206.5 314.1,206.5 314.3,210.2 314.6,206.5 314.9,206.5 315.2,210.2 315.5,210.2 315.8,206.5 316.1,210.2 316.7,210.2 316.9,206.5 317.2,210.2 317.5,206.5 317.8,210.2 318.4,210.2 318.7,206.5 319.0,210.2 319.3,206.5 319.5,210.2 319.8,206.5 321.0,206.5 321.3,210.2 321.6,206.5 321.9,210.2 322.1,206.5 322.4,210.2 322.7,210.2 323.0,206.5 323.3,210.2 323.6,206.5 323.9,206.5 324.2,210.2 324.5,196.4 324.7,206.5 325.0,210.2 325.3,210.2 325.6,206.5 325.9,210.2 326.2,210.2 326.5,206.5 327.1,206.5 327.3,210.2 328.2,210.2 328.5,206.5 328.8,210.2 329.1,196.4 329.4,196.4 329.7,210.2 329.9,206.5 330.2,210.2 330.5,206.5 330.8,206.5 331.1,210.2 331.4,210.2 331.7,206.5 332.0,206.5 332.2,210.2 332.5,206.5 332.8,210.2 333.1,206.5 333.4,206.5 333.7,210.2 334.0,206.5 334.3,210.2 334.6,206.5 334.8,210.2 335.1,206.5 336.0,206.5 336.3,210.2 336.6,206.5 336.9,210.2 337.2,206.5 337.4,210.2 337.7,196.4 338.0,196.4 338.3,206.5 338.6,210.2 338.9,206.5 339.2,210.2 339.5,210.2 339.8,206.5 340.6,206.5 340.9,210.2 341.2,206.5 341.5,210.2 341.8,206.5 342.1,210.2 342.9,210.2 343.2,206.5 344.4,206.5 344.7,210.2 345.0,206.5 345.2,210.2 345.5,206.5 345.8,206.5 346.1,210.2 346.4,210.2 346.7,206.5 347.0,206.5 347.3,210.2 347.8,210.2 348.1,206.5 348.4,206.5 348.7,210.2 349.0,196.4 349.3,210.2 349.6,206.5 349.9,210.2 350.1,206.5 350.7,206.5 351.0,210.2 351.3,206.5 351.9,206.5 352.2,210.2 352.5,206.5 352.7,210.2 353.0,206.5 353.9,206.5 354.2,210.2 354.5,206.5 354.8,206.5 355.1,210.2 355.3,206.5 355.6,206.5 355.9,210.2 356.2,206.5 356.5,210.2 356.8,206.5 357.1,210.2 357.4,206.5 358.2,206.5 358.5,210.2 358.8,206.5 359.4,206.5 359.7,210.2 360.0,206.5 360.3,206.5 360.5,210.2 360.8,206.5 361.1,206.5 361.4,210.2 362.9,210.2 363.1,206.5 363.4,206.5 363.7,210.2 364.0,206.5 364.3,210.2 365.5,210.2 365.7,196.4 366.0,210.2 366.3,206.5 367.8,206.5 368.0,210.2 368.3,206.5 368.6,206.5 368.9,196.4 369.2,206.5 369.5,210.2 369.8,206.5 372.1,206.5 372.4,210.2 372.7,210.2 373.0,206.5 374.1,206.5 374.4,210.2 374.7,210.2 375.0,206.5 375.3,210.2 375.6,206.5 375.8,210.2 376.1,210.2 376.4,206.5 376.7,210.2 377.0,206.5 377.3,210.2 377.6,206.5 378.2,206.5 378.4,210.2 379.3,210.2 379.6,206.5 380.5,206.5 380.8,210.2 381.0,210.2 381.3,206.5 381.6,210.2 381.9,210.2 382.2,206.5 382.5,206.5 382.8,210.2 383.1,206.5 383.6,206.5 383.9,210.2 384.2,210.2 384.5,206.5 384.8,210.2 385.1,206.5 385.4,210.2 385.7,206.5 386.0,210.2 386.2,206.5 387.1,206.5 387.4,210.2 388.0,210.2 388.3,206.5 389.4,206.5 389.7,210.2 390.0,206.5 390.3,206.5 390.6,210.2 390.9,206.5 391.1,210.2 391.4,206.5 391.7,210.2 392.6,210.2 392.9,206.5 393.5,206.5 393.7,210.2 394.0,210.2 394.3,206.5 394.9,206.5 395.2,210.2 395.5,206.5 395.8,210.2 396.1,210.2 396.3,206.5 396.6,210.2 396.9,206.5 398.4,206.5 398.7,210.2 398.9,210.2 399.2,206.5 399.5,210.2 399.8,206.5 401.3,206.5 401.5,210.2 401.8,206.5 402.1,210.2 403.0,210.2 403.3,206.5 403.6,206.5 403.9,210.2 404.1,206.5 405.3,206.5 405.6,210.2 406.2,210.2 406.4,206.5 406.7,210.2 407.0,206.5 407.3,206.5 407.6,210.2 407.9,206.5 408.2,210.2 408.8,210.2 409.0,206.5 409.3,210.2 409.6,196.4 409.9,206.5 412.2,206.5 412.5,210.2 412.8,210.2 413.1,206.5 413.4,210.2 414.0,210.2 414.2,206.5 414.5,210.2 415.1,210.2 415.4,206.5 415.7,206.5 416.0,210.2 416.3,210.2 416.6,206.5 416.8,210.2 417.1,210.2 417.4,206.5 418.0,206.5 418.3,210.2 418.6,206.5 419.4,206.5 419.7,210.2 420.0,206.5 420.3,210.2 420.6,210.2 420.9,206.5 421.2,210.2 423.2,210.2 423.5,189.2 423.8,183.7 424.1,175.3 424.4,161.8 424.6,147.8 424.9,136.5 425.2,124.2 425.5,110.1 425.8,95.9 426.1,81.7 426.4,68.8 426.7,53.7 426.9,62.2 427.2,73.6 427.5,81.7 427.8,90.9 428.1,94.0 428.4,98.6 428.7,107.2 429.0,109.1 429.3,115.4 429.5,110.7 429.8,114.4 430.1,120.8 430.4,115.7 430.7,118.8 431.0,119.6 431.3,121.6 431.6,121.2 431.9,121.2 432.1,119.2 432.4,127.7 432.7,124.7 433.0,126.2 433.3,133.7 433.6,127.7 433.9,127.7 434.2,128.8 434.5,129.3 434.7,128.8 435.0,126.7 435.3,133.7 435.6,135.8 435.9,129.9 436.2,131.7 436.5,127.2 436.8,127.7 437.1,126.7 437.3,142.5 437.6,136.5 437.9,138.9 438.2,132.4 438.5,135.8 438.8,133.7 439.1,130.5 439.4,145.5 439.7,146.7 439.9,135.1 440.2,135.8 440.5,130.5 440.8,133.7 441.1,138.1 441.4,150.3 441.7,141.5 442.0,147.8 442.3,133.7 442.5,142.5 442.8,142.5 443.1,146.7 443.4,133.7 443.7,142.5 444.0,134.4 444.3,138.1 444.6,139.8 444.8,159.8 445.1,142.5 445.4,138.1 445.7,145.5 446.0,146.7 446.3,145.5 446.6,149.0 446.9,143.5 447.2,149.0 447.4,138.9 447.7,149.0 448.0,153.1 448.3,145.5 448.6,138.1 448.9,154.6 449.2,141.5 449.5,156.2 449.8,145.5 450.0,149.0 450.3,151.7 450.6,146.7 450.9,147.8 451.2,140.6 451.5,153.1 451.8,156.2 452.1,156.2 452.4,159.8 452.6,153.1 452.9,156.2 453.2,156.2 453.5,144.5 453.8,164.0 454.1,166.3 454.4,159.8 454.7,156.2 455.0,166.3 455.2,164.0 455.5,153.1 455.8,147.8 456.1,150.3 456.4,166.3 456.7,154.6 457.0,154.6 457.3,159.8 457.6,161.8 457.8,171.9 458.1,154.6 458.4,159.8 458.7,169.0 459.0,156.2 459.3,159.8 459.6,151.7 459.9,153.1 460.2,166.3 460.4,166.3 460.7,156.2 461.0,157.9 461.3,169.0 461.6,179.1 461.9,161.8 462.2,157.9 462.5,171.9 462.8,157.9 463.0,179.1 463.3,175.3 463.6,145.5 463.9,164.0 464.2,154.6 464.5,161.8 464.8,159.8 465.1,164.0 465.3,161.8 465.6,157.9 465.9,159.8 466.2,169.0 466.5,196.4 466.8,157.9 467.1,196.4 467.4,156.2 467.7,175.3 467.9,164.0 468.5,164.0 468.8,161.8 469.1,179.1 469.4,171.9 469.7,153.1 470.0,164.0 470.3,179.1 470.5,166.3 470.8,161.8 471.1,179.1 471.4,169.0 471.7,189.2 472.0,183.7 472.3,161.8 472.6,183.7 472.9,179.1 473.1,175.3 473.4,171.9 473.7,175.3 474.0,161.8 474.3,150.3 474.6,189.2 474.9,179.1 475.2,166.3 475.5,164.0 475.7,161.8 476.0,151.7 476.3,169.0 476.6,189.2 476.9,183.7 477.2,175.3 477.5,169.0 477.8,175.3 478.1,171.9 478.3,189.2 478.6,189.2 478.9,161.8 479.2,166.3 479.5,189.2 479.8,175.3 480.1,171.9 480.4,156.2 480.7,179.1 480.9,161.8 481.2,179.1 481.5,166.3 481.8,171.9 482.1,164.0 482.4,175.3 482.7,179.1 483.0,196.4 483.2,171.9 483.5,175.3 483.8,196.4 484.1,183.7 484.4,171.9 484.7,175.3 485.0,183.7 485.3,171.9 485.6,183.7 485.8,179.1 486.1,196.4 486.4,166.3 486.7,164.0 487.0,179.1 487.3,183.7 487.6,169.0 487.9,183.7 488.2,189.2 488.4,171.9 488.7,175.3 489.0,189.2 489.3,183.7 489.6,196.4 489.9,206.5 490.2,206.5 490.5,179.1 490.8,171.9 491.0,189.2 491.3,189.2 491.6,196.4 491.9,171.9 492.2,183.7 492.5,161.8 492.8,196.4 493.1,169.0 493.4,206.5 493.6,196.4 493.9,196.4 494.2,171.9 494.5,196.4 494.8,206.5 495.1,183.7 495.4,171.9 495.7,210.2 496.0,183.7 496.2,206.5 496.5,189.2 496.8,183.7 497.1,183.7 497.4,189.2 497.7,196.4 498.0,169.0 498.3,179.1 498.6,206.5 498.8,175.3 499.1,189.2 499.4,206.5 499.7,179.1 500.0,206.5 500.3,179.1 500.6,183.7 500.9,179.1 501.1,210.2 501.4,171.9 501.7,189.2 502.0,189.2 502.3,196.4 502.6,189.2 502.9,183.7 503.2,189.2 503.5,206.5 503.7,206.5 504.0,189.2 504.3,196.4 504.6,196.4 504.9,164.0 505.2,189.2 505.5,206.5 505.8,210.2 506.1,166.3 506.3,183.7 506.6,183.7 506.9,189.2 507.2,196.4 507.5,210.2 507.8,206.5 508.1,189.2 508.4,196.4 508.7,183.7 508.9,183.7 509.2,210.2 509.5,183.7 509.8,179.1 510.1,183.7 510.4,210.2 510.7,179.1 511.0,210.2 511.3,183.7 511.5,206.5 511.8,189.2 512.1,206.5 512.4,171.9 512.7,206.5 513.0,196.4 513.3,179.1 513.6,210.2 513.9,206.5 514.1,210.2 514.4,171.9 514.7,183.7 515.0,196.4 515.3,196.4 515.6,206.5 516.5,206.5 516.7,183.7 517.0,179.1 517.3,189.2 517.6,210.2 517.9,206.5 518.2,210.2 518.5,206.5 518.8,171.9 519.1,206.5 519.3,196.4 519.6,189.2 519.9,189.2 520.2,196.4 520.5,196.4 520.8,210.2 521.1,196.4 521.4,171.9 521.6,179.1 521.9,210.2 522.2,183.7 522.5,206.5 522.8,210.2 524.5,210.2 524.8,206.5 525.1,206.5 525.4,175.3 525.7,210.2 526.0,196.4 526.3,210.2 526.6,206.5 526.8,183.7 527.1,206.5 527.4,183.7 527.7,210.2 528.0,206.5 528.3,206.5 528.6,196.4 528.9,189.2 529.2,210.2 529.4,206.5 529.7,210.2 530.0,206.5 530.3,210.2 530.6,210.2 530.9,189.2 531.2,206.5 531.5,210.2 531.8,196.4 532.0,210.2 532.3,210.2 532.6,206.5 532.9,179.1 533.2,175.3 533.5,210.2 533.8,189.2 534.1,206.5 534.4,210.2 534.6,206.5 534.9,210.2 535.2,196.4 535.5,196.4 535.8,210.2 536.1,210.2 536.4,196.4 536.7,179.1 537.0,210.2 537.2,179.1 537.5,206.5 537.8,210.2 538.1,196.4 538.4,196.4 538.7,206.5 539.0,206.5 539.3,210.2 539.5,206.5 539.8,210.2 540.1,206.5 540.4,196.4 541.0,196.4 541.3,189.2 541.6,196.4 541.9,206.5 542.1,196.4 542.4,210.2 543.0,210.2 543.3,196.4 543.6,179.1 543.9,210.2 544.2,183.7 544.5,196.4 544.7,210.2 545.0,206.5 545.3,210.2 545.6,196.4 545.9,210.2 546.2,210.2 546.5,206.5 546.8,210.2 547.1,196.4 547.3,206.5 547.6,210.2 547.9,206.5 548.2,206.5 548.5,189.2 548.8,183.7 549.1,210.2 549.4,196.4 549.7,206.5 549.9,206.5 550.2,210.2 550.5,189.2 550.8,206.5 551.1,206.5 551.4,183.7 551.7,210.2 552.5,210.2 552.8,175.3 553.1,210.2 553.4,196.4 553.7,196.4 554.0,206.5 554.3,196.4 554.6,210.2 556.6,210.2 556.9,206.5 557.2,210.2 557.5,179.1 557.7,206.5 558.0,189.2 558.3,206.5 558.6,196.4 558.9,189.2 559.2,210.2 559.8,210.2 560.0,189.2 560.3,210.2 560.6,183.7 560.9,206.5 561.2,196.4 561.5,210.2 561.8,196.4 562.1,210.2 562.4,196.4 562.6,210.2 562.9,189.2 563.2,210.2 565.0,210.2 565.2,206.5 565.5,206.5 565.8,210.2 566.1,206.5 566.4,210.2 566.7,210.2 567.0,206.5 567.3,189.2 567.6,210.2 567.8,183.7 568.1,210.2 568.4,206.5 568.7,206.5 569.0,210.2 569.3,196.4 569.6,196.4 569.9,210.2 570.2,206.5 570.4,210.2 571.3,210.2 571.6,196.4 571.9,196.4 572.2,206.5 572.5,210.2 572.8,206.5 573.0,210.2 573.6,210.2 573.9,196.4 574.2,210.2 574.5,206.5 574.8,210.2 575.1,210.2 575.4,206.5 575.9,206.5 576.2,210.2 576.5,206.5 576.8,196.4 577.1,206.5 577.4,206.5 577.7,210.2 577.9,210.2 578.2,196.4 578.5,210.2 579.7,210.2 580.0,196.4 580.3,196.4 580.5,210.2 580.8,206.5 581.1,206.5 581.4,196.4 581.7,206.5 582.0,210.2 582.3,206.5 582.6,210.2 583.4,210.2 583.7,196.4 584.0,210.2 584.3,210.2 584.6,206.5 584.9,210.2 585.2,206.5 585.5,206.5 585.7,210.2 586.0,206.5 586.3,210.2 587.8,210.2 588.1,206.5 588.3,210.2 588.6,196.4 588.9,210.2 589.2,206.5 589.5,206.5 589.8,210.2 590.1,206.5 590.4,210.2 590.7,206.5 590.9,210.2 591.2,210.2 591.5,206.5 591.8,210.2 592.1,196.4 592.4,210.2 592.7,196.4 593.0,189.2 593.3,206.5 593.5,210.2 593.8,206.5 594.1,210.2 594.4,189.2 594.7,206.5 595.0,210.2 596.4,210.2 596.7,206.5 597.0,210.2 601.6,210.2 601.9,206.5 602.8,206.5 603.1,210.2 603.4,206.5 603.6,210.2 604.2,210.2 604.5,196.4 604.8,210.2 605.7,210.2 606.0,206.5 606.2,210.2 608.8,210.2 609.1,206.5 609.4,210.2 609.7,210.2 610.0,196.4 610.3,210.2 610.6,206.5 610.9,210.2 611.7,210.2 612.0,206.5 612.3,210.2 618.1,210.2 618.4,206.5 618.7,210.2 618.9,210.2 619.2,196.4 619.5,196.4 619.8,210.2 620.1,210.2 620.4,196.4 620.7,210.2 621.0,206.5 621.3,210.2 623.3,210.2 623.6,206.5 624.1,206.5 624.4,210.2 625.6,210.2 625.9,206.5 626.2,210.2 627.3,210.2 627.6,206.5 627.9,210.2 629.1,210.2 629.3,206.5 629.6,210.2 630.2,210.2 630.5,206.5 630.8,210.2 631.9,210.2 632.2,206.5 632.5,206.5 632.8,210.2 634.2,210.2 634.5,206.5 634.8,210.2 635.1,210.2 635.4,206.5 635.7,210.2 636.6,210.2 636.8,206.5 637.1,210.2 637.4,206.5 637.7,206.5 638.0,210.2 638.6,210.2 638.9,206.5 639.2,210.2 641.5,210.2 641.8,206.5 642.0,210.2 644.6,210.2 644.9,206.5 645.2,210.2 646.4,210.2 646.7,206.5 647.0,206.5 647.2,210.2 647.5,210.2 647.8,206.5 648.1,210.2 651.3,210.2 651.6,206.5 651.9,210.2 653.0,210.2 653.3,206.5 653.6,210.2 657.1,210.2 657.3,206.5 657.6,206.5 657.9,210.2 658.8,210.2 659.1,206.5 659.4,206.5 659.7,210.2 662.3,210.2 662.5,206.5 662.8,210.2 664.6,210.2 664.9,206.5 665.1,210.2 665.4,210.2 665.7,206.5 666.0,210.2 667.7,210.2 668.0,206.5 668.3,210.2 670.3,210.2 670.6,206.5 671.2,206.5 671.5,210.2 672.1,210.2 672.4,206.5 672.6,210.2 675.2,210.2 675.5,206.5 675.8,206.5 676.1,210.2 676.4,206.5 676.7,210.2 679.0,210.2 679.3,206.5 679.6,210.2 681.9,210.2 682.2,206.5 682.5,210.2 683.6,210.2 683.9,206.5 684.2,210.2 686.8,210.2 687.1,206.5 687.4,210.2 687.7,206.5 688.0,210.2 688.2,206.5 688.5,210.2 689.7,210.2 690.0,206.5 690.3,210.2 715.4,210.2" fill="none" stroke="#000" stroke-width="1.25" stroke-linejoin="bevel"/>
<polyline clip-path="url(#c2)" points="282.3,410.5 282.6,410.5 282.9,403.0 283.2,410.5 283.5,403.0 283.7,410.5 286.6,410.5 286.9,385.8 287.2,410.5 287.5,410.5 287.8,403.0 288.1,393.0 288.4,403.0 288.7,410.5 290.7,410.5 291.0,403.0 291.3,410.5 291.5,403.0 291.8,410.5 293.3,410.5 293.6,403.0 293.8,410.5 294.1,410.5 294.4,385.8 294.7,385.8 295.0,410.5 295.3,410.5 295.6,403.0 295.9,410.5 296.2,410.5 296.4,393.0 296.7,410.5 297.9,410.5 298.2,403.0 298.5,410.5 298.8,403.0 299.0,410.5 301.1,410.5 301.4,393.0 301.6,410.5 303.1,410.5 303.4,403.0 303.7,410.5 304.0,403.0 304.2,410.5 304.5,385.8 304.8,385.8 305.1,410.5 306.3,410.5 306.6,403.0 306.8,410.5 308.3,410.5 308.6,403.0 308.9,410.5 309.4,410.5 309.7,393.0 310.0,410.5 311.2,410.5 311.5,403.0 311.7,410.5 312.0,403.0 312.3,410.5 312.6,410.5 312.9,393.0 313.2,410.5 314.1,410.5 314.3,403.0 314.6,385.8 314.9,385.8 315.2,410.5 316.4,410.5 316.7,403.0 316.9,410.5 319.3,410.5 319.5,403.0 319.8,410.5 323.9,410.5 324.2,403.0 324.5,410.5 324.7,403.0 325.0,410.5 326.5,410.5 326.8,403.0 327.1,410.5 327.3,403.0 327.6,410.5 329.1,410.5 329.4,403.0 329.7,410.5 332.2,410.5 332.5,403.0 332.8,410.5 333.1,403.0 333.4,410.5 334.8,410.5 335.1,403.0 335.4,410.5 335.7,403.0 336.0,410.5 341.5,410.5 341.8,393.0 342.1,410.5 342.6,410.5 342.9,403.0 343.2,410.5 347.3,410.5 347.6,403.0 347.8,410.5 348.1,403.0 348.4,410.5 350.4,410.5 350.7,393.0 351.0,393.0 351.3,403.0 351.6,410.5 352.5,410.5 352.7,403.0 353.0,410.5 355.6,410.5 355.9,403.0 356.2,410.5 356.5,403.0 356.8,410.5 357.9,410.5 358.2,403.0 358.5,410.5 373.5,410.5 373.8,403.0 374.1,410.5 378.4,410.5 378.7,403.0 379.0,410.5 379.3,403.0 379.6,410.5 381.3,410.5 381.6,403.0 381.9,410.5 382.2,403.0 382.5,410.5 383.6,410.5 383.9,403.0 384.2,410.5 386.5,410.5 386.8,403.0 387.1,410.5 389.4,410.5 389.7,403.0 390.0,410.5 390.3,403.0 390.6,410.5 394.3,410.5 394.6,403.0 394.9,410.5 395.2,403.0 395.5,410.5 396.9,410.5 397.2,403.0 397.5,410.5 399.2,410.5 399.5,403.0 399.8,410.5 400.1,403.0 400.4,410.5 404.4,410.5 404.7,403.0 405.0,410.5 409.9,410.5 410.2,403.0 410.5,410.5 410.8,403.0 411.1,410.5 411.9,410.5 412.2,393.0 412.5,410.5 414.8,410.5 415.1,403.0 415.4,410.5 418.0,410.5 418.3,403.0 418.6,410.5 420.6,410.5 420.9,403.0 421.2,410.5 421.5,403.0 421.8,410.5 422.3,410.5 422.6,403.0 422.9,410.5 423.2,403.0 423.5,403.0 423.8,380.3 424.1,368.6 424.4,356.5 424.6,356.5 424.9,330.6 425.2,326.2 425.5,305.9 425.8,295.5 426.1,279.8 426.4,266.2 426.7,252.4 426.9,260.3 427.2,270.4 427.5,278.3 427.8,288.3 428.1,293.6 428.4,298.4 428.7,308.2 429.0,303.3 429.3,312.7 429.5,316.6 429.8,309.9 430.1,309.9 430.4,319.0 430.7,319.4 431.0,317.3 431.3,323.1 431.6,315.8 431.9,319.4 432.1,319.8 432.4,323.6 432.7,320.3 433.0,321.2 433.3,325.1 433.6,328.6 433.9,320.7 434.2,321.6 434.5,329.2 434.7,327.4 435.0,323.6 435.3,333.4 435.6,325.1 435.9,331.9 436.2,336.6 436.5,323.6 436.8,329.9 437.1,326.2 437.3,333.4 437.6,330.6 437.9,329.2 438.2,341.3 438.5,328.0 438.8,330.6 439.1,334.9 439.4,347.1 439.7,337.5 439.9,325.1 440.2,331.9 440.5,339.3 440.8,331.9 441.1,345.8 441.4,332.7 441.7,334.9 442.0,339.3 442.3,334.9 442.5,340.3 442.8,337.5 443.1,333.4 443.4,338.4 443.7,331.2 444.0,330.6 444.3,342.4 444.6,340.3 444.8,344.6 445.1,344.6 445.4,342.4 445.7,343.5 446.0,341.3 446.3,345.8 446.6,349.9 446.9,340.3 447.2,344.6 447.4,335.8 447.7,338.4 448.0,353.0 448.3,358.5 448.6,349.9 448.9,360.7 449.2,341.3 449.5,342.4 449.8,349.9 450.0,345.8 450.3,353.0 450.6,343.5 450.9,354.7 451.2,358.5 451.5,353.0 451.8,351.4 452.1,358.5 452.4,347.1 452.6,343.5 452.9,368.6 453.2,343.5 453.5,334.2 453.8,353.0 454.1,385.8 454.4,353.0 454.7,354.7 455.0,348.5 455.2,358.5 455.5,349.9 455.8,358.5 456.1,348.5 456.4,356.5 456.7,360.7 457.0,358.5 457.3,354.7 457.6,349.9 457.8,368.6 458.1,363.1 458.4,344.6 458.7,380.3 459.0,354.7 459.3,371.9 459.6,363.1 459.9,368.6 460.2,380.3 460.4,365.7 460.7,365.7 461.0,356.5 461.3,380.3 461.6,365.7 461.9,360.7 462.2,341.3 462.5,345.8 462.8,315.1 463.0,333.4 463.3,336.6 463.6,334.9 463.9,337.5 464.2,354.7 464.5,356.5 464.8,358.5 465.1,340.3 465.3,368.6 465.6,368.6 465.9,365.7 466.2,368.6 466.5,385.8 466.8,360.7 467.1,353.0 467.4,375.7 467.7,360.7 467.9,403.0 468.2,393.0 468.5,363.1 468.8,363.1 469.1,410.5 469.4,403.0 470.3,403.0 470.5,360.7 470.8,375.7 471.1,368.6 471.4,371.9 471.7,380.3 472.0,380.3 472.3,368.6 472.6,393.0 472.9,358.5 473.1,365.7 473.4,363.1 473.7,371.9 474.0,410.5 474.3,371.9 474.6,368.6 474.9,371.9 475.2,385.8 475.5,375.7 475.7,365.7 476.0,410.5 476.3,371.9 476.6,353.0 476.9,380.3 477.2,375.7 477.5,393.0 477.8,363.1 478.1,403.0 478.3,375.7 478.6,380.3 478.9,380.3 479.2,410.5 479.5,368.6 479.8,375.7 480.1,375.7 480.4,365.7 480.7,385.8 480.9,371.9 481.2,365.7 481.5,393.0 481.8,368.6 482.1,375.7 482.4,371.9 482.7,393.0 483.0,393.0 483.2,403.0 483.5,375.7 483.8,360.7 484.1,385.8 484.4,375.7 484.7,380.3 485.0,393.0 485.3,360.7 485.6,375.7 485.8,403.0 486.1,365.7 486.4,380.3 486.7,393.0 487.0,375.7 487.3,385.8 487.6,365.7 487.9,371.9 488.2,368.6 488.4,385.8 488.7,380.3 489.0,393.0 489.3,375.7 489.6,385.8 489.9,403.0 490.2,385.8 490.8,385.8 491.0,393.0 491.3,410.5 491.6,368.6 491.9,368.6 492.2,410.5 492.5,403.0 493.1,403.0 493.4,385.8 493.6,385.8 493.9,410.5 494.2,410.5 494.5,380.3 494.8,380.3 495.1,375.7 495.4,393.0 495.7,385.8 496.0,385.8 496.2,368.6 496.5,403.0 496.8,385.8 497.1,380.3 497.4,393.0 497.7,368.6 498.0,403.0 498.3,375.7 498.6,354.7 498.8,345.8 499.1,360.7 499.4,375.7 499.7,365.7 500.0,380.3 500.3,363.1 500.6,380.3 500.9,393.0 501.1,371.9 501.4,403.0 501.7,365.7 502.0,371.9 502.3,380.3 502.6,380.3 502.9,403.0 503.2,410.5 503.5,380.3 503.7,393.0 504.0,403.0 504.3,380.3 504.6,371.9 504.9,403.0 505.2,410.5 505.5,393.0 505.8,410.5 506.1,393.0 506.3,375.7 506.6,385.8 506.9,393.0 507.2,385.8 507.5,403.0 507.8,403.0 508.1,385.8 508.4,385.8 508.7,393.0 508.9,375.7 509.2,410.5 509.5,380.3 509.8,380.3 510.1,410.5 510.4,410.5 510.7,385.8 511.0,393.0 511.3,403.0 511.5,403.0 511.8,410.5 512.1,393.0 512.4,380.3 512.7,393.0 513.3,393.0 513.6,385.8 513.9,410.5 514.1,410.5 514.4,393.0 514.7,403.0 515.0,403.0 515.3,380.3 515.6,403.0 515.9,393.0 516.2,403.0 516.5,403.0 516.7,385.8 517.0,403.0 517.3,385.8 517.6,393.0 517.9,410.5 518.2,385.8 518.5,403.0 519.6,403.0 519.9,393.0 520.2,410.5 520.5,410.5 520.8,393.0 521.1,403.0 521.4,403.0 521.6,410.5 521.9,393.0 522.2,403.0 522.5,393.0 522.8,380.3 523.1,410.5 523.4,403.0 523.7,410.5 524.0,403.0 524.2,393.0 524.5,393.0 524.8,410.5 525.1,385.8 525.7,385.8 526.0,403.0 526.6,403.0 526.8,410.5 527.1,410.5 527.4,393.0 527.7,410.5 528.0,403.0 528.3,393.0 528.6,403.0 529.2,403.0 529.4,410.5 529.7,410.5 530.0,403.0 530.6,403.0 530.9,380.3 531.2,410.5 531.5,410.5 531.8,393.0 532.0,385.8 532.3,380.3 532.6,385.8 532.9,410.5 533.2,403.0 534.1,403.0 534.4,380.3 534.6,371.9 534.9,368.6 535.2,380.3 535.5,380.3 535.8,410.5 536.1,380.3 536.4,393.0 536.7,403.0 537.2,403.0 537.5,393.0 537.8,410.5 538.1,403.0 538.4,403.0 538.7,410.5 539.0,393.0 539.3,403.0 540.1,403.0 540.4,410.5 540.7,403.0 541.0,393.0 541.3,410.5 541.6,393.0 541.9,410.5 542.1,410.5 542.4,403.0 542.7,403.0 543.0,410.5 543.6,410.5 543.9,393.0 544.2,410.5 545.0,410.5 545.3,403.0 545.6,410.5 545.9,403.0 546.2,410.5 546.5,410.5 546.8,403.0 547.1,410.5 548.8,410.5 549.1,403.0 549.4,403.0 549.7,385.8 549.9,403.0 550.2,410.5 551.1,410.5 551.4,393.0 551.7,410.5 552.5,410.5 552.8,403.0 553.1,410.5 553.4,403.0 553.7,410.5 554.0,385.8 554.3,403.0 554.6,410.5 555.4,410.5 555.7,393.0 556.0,410.5 556.9,410.5 557.2,403.0 557.5,410.5 557.7,410.5 558.0,403.0 558.3,403.0 558.6,410.5 558.9,393.0 559.2,410.5 559.5,410.5 559.8,393.0 560.0,385.8 560.3,410.5 560.6,410.5 560.9,403.0 561.2,410.5 561.5,410.5 561.8,403.0 562.1,410.5 562.4,403.0 562.6,380.3 562.9,410.5 563.2,380.3 563.5,410.5 563.8,403.0 564.1,410.5 565.5,410.5 565.8,403.0 566.1,410.5 566.4,393.0 566.7,393.0 567.0,410.5 567.8,410.5 568.1,403.0 568.4,403.0 568.7,385.8 569.0,410.5 569.3,410.5 569.6,393.0 569.9,410.5 570.4,410.5 570.7,403.0 571.0,410.5 571.3,410.5 571.6,393.0 572.2,393.0 572.5,410.5 573.6,410.5 573.9,403.0 574.2,380.3 574.5,403.0 574.8,403.0 575.1,410.5 575.4,410.5 575.6,385.8 575.9,410.5 576.2,385.8 576.5,403.0 576.8,410.5 577.1,410.5 577.4,403.0 577.7,403.0 577.9,410.5 578.5,410.5 578.8,393.0 579.1,410.5 579.4,393.0 579.7,403.0 580.0,403.0 580.3,410.5 580.8,410.5 581.1,393.0 581.4,410.5 582.9,410.5 583.1,403.0 583.4,410.5 583.7,410.5 584.0,403.0 584.3,410.5 584.6,393.0 584.9,410.5 585.2,410.5 585.5,403.0 585.7,410.5 586.0,403.0 586.3,410.5 587.5,410.5 587.8,385.8 588.1,403.0 588.3,410.5 588.6,410.5 588.9,403.0 589.8,403.0 590.1,410.5 590.4,403.0 590.7,410.5 591.2,410.5 591.5,385.8 591.8,403.0 592.1,410.5 592.4,385.8 592.7,410.5 594.4,410.5 594.7,393.0 595.0,403.0 595.3,410.5 595.8,410.5 596.1,403.0 596.4,403.0 596.7,410.5 598.4,410.5 598.7,375.7 599.0,410.5 599.3,410.5 599.6,393.0 599.9,403.0 600.2,410.5 600.5,410.5 600.8,403.0 601.0,403.0 601.3,410.5 602.2,410.5 602.5,403.0 603.1,403.0 603.4,410.5 605.7,410.5 606.0,403.0 606.2,410.5 606.5,410.5 606.8,393.0 607.1,410.5 607.4,410.5 607.7,403.0 608.0,410.5 608.3,410.5 608.6,393.0 608.8,410.5 609.1,410.5 609.4,403.0 609.7,403.0 610.0,410.5 611.4,410.5 611.7,385.8 612.0,410.5 612.6,410.5 612.9,403.0 613.2,403.0 613.5,410.5 613.8,393.0 614.0,410.5 614.3,403.0 614.6,410.5 614.9,403.0 615.2,403.0 615.5,410.5 615.8,410.5 616.1,393.0 616.3,410.5 617.2,410.5 617.5,403.0 617.8,403.0 618.1,410.5 619.2,410.5 619.5,403.0 619.8,410.5 620.4,410.5 620.7,403.0 621.0,410.5 621.3,410.5 621.5,403.0 621.8,410.5 623.0,410.5 623.3,403.0 623.6,410.5 624.1,410.5 624.4,393.0 624.7,410.5 626.5,410.5 626.7,393.0 627.0,410.5 628.2,410.5 628.5,403.0 628.8,410.5 629.1,403.0 629.3,410.5 630.8,410.5 631.1,403.0 631.4,410.5 631.7,403.0 631.9,410.5 636.0,410.5 636.3,403.0 636.6,410.5 636.8,403.0 637.1,410.5 638.6,410.5 638.9,403.0 639.2,410.5 639.4,403.0 639.7,410.5 640.9,410.5 641.2,403.0 641.5,410.5 648.7,410.5 649.0,403.0 649.3,410.5 651.6,410.5 651.9,403.0 652.2,410.5 652.4,403.0 652.7,410.5 659.7,410.5 659.9,403.0 660.2,410.5 664.6,410.5 664.9,403.0 665.1,410.5 675.2,410.5 675.5,403.0 675.8,410.5 685.6,410.5 685.9,403.0 686.2,410.5 686.5,403.0 686.8,410.5 692.9,410.5 693.1,403.0 693.4,410.5 693.7,403.0 694.0,410.5 696.9,410.5 697.2,393.0 697.5,393.0 697.8,410.5 700.9,410.5 701.2,403.0 701.5,410.5 701.8,403.0 702.1,410.5 703.3,410.5 703.5,403.0 703.8,410.5 711.0,410.5 711.3,403.0 711.6,410.5 711.9,403.0 712.2,410.5 714.2,410.5 714.5,403.0 714.8,410.5 715.1,403.0 715.4,410.5" fill="none" stroke="#000" stroke-width="1.25" stroke-linejoin="bevel"/>
<text x="288.8" y="72.9" font-size="15.2" stroke="#000">#1</text>
<text x="288.3" y="271.9" font-size="15.2" stroke="#000">#2</text>
<text x="418.9" y="47.7" font-size="17.5" fill="#38e6e6" stroke="#38e6e6">O<tspan font-size="11.5" dy="-6.5">+</tspan></text>
<text x="454.6" y="308.3" font-size="17" letter-spacing=".4" fill="#0b6b2b" stroke="#0b6b2b">OH<tspan font-size="11.5" dy="-6.5">+</tspan></text>
<text x="490.4" y="338.9" font-size="17" letter-spacing=".4" fill="#0b6b2b" stroke="#0b6b2b">OH<tspan font-size="11.5" dy="4">2</tspan><tspan font-size="11.5" dy="-10.5">+</tspan></text>
<text x="527.2" y="361.8" font-size="17" letter-spacing=".4" fill="#0b6b2b" stroke="#0b6b2b">OH<tspan font-size="11.5" dy="4">3</tspan><tspan font-size="11.5" dy="-10.5">+</tspan></text>
<text x="399" y="446.5" font-size="16.4" textLength="199.5" lengthAdjust="spacingAndGlyphs" stroke="#000">mass-to-charge ratio (Da)</text>
<text transform="translate(233,337.6) rotate(-90)" font-size="16.4" stroke="#000">normalized counts to <tspan font-size="10.2" dy="-6.8">16</tspan><tspan dy="6.8">O</tspan><tspan font-size="10.8" dy="-6.8">+</tspan></text>
</svg>
</body></html>
